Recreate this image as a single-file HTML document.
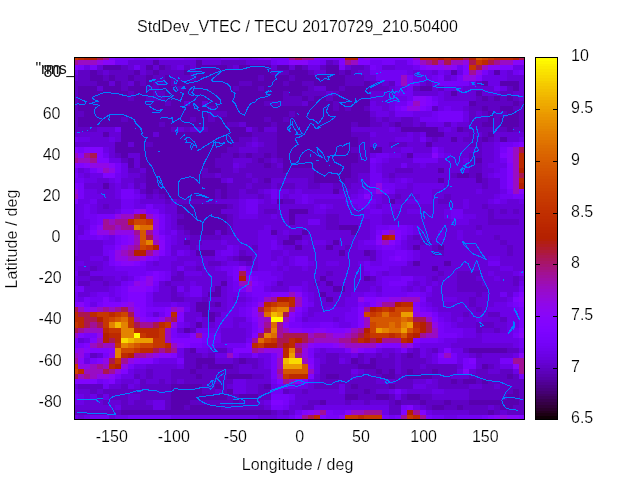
<!DOCTYPE html>
<html lang="en">
<head>
<meta charset="utf-8">
<title>StdDev_VTEC / TECU 20170729_210.50400</title>
<style>
html,body{margin:0;padding:0;background:#fff;width:640px;height:480px;overflow:hidden}
svg{display:block;position:absolute;left:0;top:0}
text{font-family:"Liberation Sans",Arial,Helvetica,sans-serif;font-size:16px;fill:#000;stroke:#fff;stroke-width:0.2px;paint-order:fill stroke}
text.ns{stroke:none;fill:#111}
.map rect,.cb rect,.fr rect{shape-rendering:crispEdges}
.coast polyline{fill:none;stroke:#0080ff;stroke-width:1;shape-rendering:crispEdges;stroke-linejoin:miter}
</style>
</head>
<body>
<svg width="640" height="480" viewBox="0 0 640 480">
<rect width="640" height="480" fill="#fff"/>
<text class="ns" x="35.6" y="74" textLength="39.8" lengthAdjust="spacing">"rms_</text>
<g class="fr">
<rect x="74" y="57" width="451" height="363" fill="#000"/>
<rect x="535" y="57" width="23" height="363" fill="#000"/>
</g>
<g class="map">
<rect x="75" y="58" width="449" height="361" fill="#5f01c4"/>
<rect x="75" y="58" width="3" height="2" fill="#c63700"/>
<rect x="78" y="58" width="6" height="2" fill="#bd2a00"/>
<rect x="84" y="58" width="13" height="2" fill="#b42000"/>
<rect x="97" y="58" width="6" height="2" fill="#ab174f"/>
<rect x="103" y="58" width="6" height="2" fill="#a11096"/>
<rect x="109" y="58" width="6" height="2" fill="#8004ff"/>
<rect x="115" y="58" width="19" height="2" fill="#7803fa"/>
<rect x="134" y="58" width="12" height="2" fill="#7202f3"/>
<rect x="146" y="58" width="13" height="2" fill="#7803fa"/>
<rect x="159" y="58" width="25" height="2" fill="#8004ff"/>
<rect x="184" y="58" width="12" height="2" fill="#7803fa"/>
<rect x="196" y="58" width="25" height="2" fill="#7202f3"/>
<rect x="221" y="58" width="18" height="2" fill="#7803fa"/>
<rect x="239" y="58" width="13" height="2" fill="#7202f3"/>
<rect x="252" y="58" width="6" height="2" fill="#7803fa"/>
<rect x="258" y="58" width="6" height="2" fill="#8004ff"/>
<rect x="264" y="58" width="7" height="2" fill="#8706fa"/>
<rect x="271" y="58" width="18" height="2" fill="#7803fa"/>
<rect x="289" y="58" width="6" height="2" fill="#a11096"/>
<rect x="295" y="58" width="7" height="2" fill="#ab174f"/>
<rect x="302" y="58" width="12" height="2" fill="#a11096"/>
<rect x="314" y="58" width="31" height="2" fill="#8004ff"/>
<rect x="345" y="58" width="13" height="2" fill="#b42000"/>
<rect x="358" y="58" width="6" height="2" fill="#8004ff"/>
<rect x="364" y="58" width="6" height="2" fill="#9008e7"/>
<rect x="370" y="58" width="43" height="2" fill="#8004ff"/>
<rect x="413" y="58" width="7" height="2" fill="#990cc4"/>
<rect x="420" y="58" width="18" height="2" fill="#bd2a00"/>
<rect x="438" y="58" width="6" height="2" fill="#b42000"/>
<rect x="444" y="58" width="7" height="2" fill="#bd2a00"/>
<rect x="451" y="58" width="12" height="2" fill="#b42000"/>
<rect x="463" y="58" width="6" height="2" fill="#ab174f"/>
<rect x="469" y="58" width="7" height="2" fill="#b42000"/>
<rect x="476" y="58" width="6" height="2" fill="#d55700"/>
<rect x="482" y="58" width="6" height="2" fill="#ce4600"/>
<rect x="488" y="58" width="6" height="2" fill="#c63700"/>
<rect x="494" y="58" width="19" height="2" fill="#bd2a00"/>
<rect x="513" y="58" width="6" height="2" fill="#b42000"/>
<rect x="519" y="58" width="5" height="2" fill="#ab174f"/>
<rect x="75" y="60" width="3" height="5" fill="#a11096"/>
<rect x="78" y="60" width="19" height="5" fill="#990cc4"/>
<rect x="97" y="60" width="6" height="5" fill="#9008e7"/>
<rect x="103" y="60" width="12" height="5" fill="#8706fa"/>
<rect x="115" y="60" width="13" height="5" fill="#7202f3"/>
<rect x="128" y="60" width="25" height="5" fill="#6601d7"/>
<rect x="153" y="60" width="6" height="5" fill="#5800af"/>
<rect x="159" y="60" width="37" height="5" fill="#6601d7"/>
<rect x="196" y="60" width="6" height="5" fill="#5800af"/>
<rect x="202" y="60" width="19" height="5" fill="#6601d7"/>
<rect x="246" y="60" width="25" height="5" fill="#6601d7"/>
<rect x="271" y="60" width="6" height="5" fill="#7202f3"/>
<rect x="277" y="60" width="12" height="5" fill="#7803fa"/>
<rect x="289" y="60" width="19" height="5" fill="#8706fa"/>
<rect x="308" y="60" width="12" height="5" fill="#7803fa"/>
<rect x="320" y="60" width="6" height="5" fill="#7202f3"/>
<rect x="333" y="60" width="6" height="5" fill="#6601d7"/>
<rect x="339" y="60" width="6" height="5" fill="#8004ff"/>
<rect x="345" y="60" width="6" height="5" fill="#a11096"/>
<rect x="351" y="60" width="7" height="5" fill="#990cc4"/>
<rect x="358" y="60" width="12" height="5" fill="#8004ff"/>
<rect x="370" y="60" width="12" height="5" fill="#7202f3"/>
<rect x="382" y="60" width="13" height="5" fill="#7803fa"/>
<rect x="395" y="60" width="12" height="5" fill="#6c01e7"/>
<rect x="407" y="60" width="6" height="5" fill="#7803fa"/>
<rect x="413" y="60" width="7" height="5" fill="#8706fa"/>
<rect x="420" y="60" width="6" height="5" fill="#990cc4"/>
<rect x="426" y="60" width="6" height="5" fill="#a11096"/>
<rect x="432" y="60" width="6" height="5" fill="#ab174f"/>
<rect x="438" y="60" width="6" height="5" fill="#990cc4"/>
<rect x="444" y="60" width="7" height="5" fill="#ab174f"/>
<rect x="451" y="60" width="12" height="5" fill="#990cc4"/>
<rect x="463" y="60" width="6" height="5" fill="#9008e7"/>
<rect x="469" y="60" width="7" height="5" fill="#ab174f"/>
<rect x="476" y="60" width="6" height="5" fill="#c63700"/>
<rect x="482" y="60" width="6" height="5" fill="#bd2a00"/>
<rect x="488" y="60" width="6" height="5" fill="#ab174f"/>
<rect x="494" y="60" width="6" height="5" fill="#a11096"/>
<rect x="500" y="60" width="13" height="5" fill="#990cc4"/>
<rect x="513" y="60" width="11" height="5" fill="#8706fa"/>
<rect x="75" y="65" width="3" height="5" fill="#8004ff"/>
<rect x="78" y="65" width="6" height="5" fill="#7803fa"/>
<rect x="84" y="65" width="6" height="5" fill="#6c01e7"/>
<rect x="90" y="65" width="7" height="5" fill="#7803fa"/>
<rect x="97" y="65" width="6" height="5" fill="#6601d7"/>
<rect x="103" y="65" width="18" height="5" fill="#5800af"/>
<rect x="128" y="65" width="6" height="5" fill="#6601d7"/>
<rect x="134" y="65" width="6" height="5" fill="#7202f3"/>
<rect x="140" y="65" width="6" height="5" fill="#6601d7"/>
<rect x="146" y="65" width="7" height="5" fill="#5800af"/>
<rect x="153" y="65" width="6" height="5" fill="#6601d7"/>
<rect x="159" y="65" width="6" height="5" fill="#5800af"/>
<rect x="171" y="65" width="6" height="5" fill="#6601d7"/>
<rect x="177" y="65" width="7" height="5" fill="#6c01e7"/>
<rect x="190" y="65" width="6" height="5" fill="#6601d7"/>
<rect x="196" y="65" width="31" height="5" fill="#5800af"/>
<rect x="233" y="65" width="6" height="5" fill="#6601d7"/>
<rect x="239" y="65" width="32" height="5" fill="#5800af"/>
<rect x="271" y="65" width="6" height="5" fill="#6601d7"/>
<rect x="277" y="65" width="12" height="5" fill="#5800af"/>
<rect x="289" y="65" width="6" height="5" fill="#6601d7"/>
<rect x="295" y="65" width="7" height="5" fill="#5800af"/>
<rect x="308" y="65" width="12" height="5" fill="#6c01e7"/>
<rect x="326" y="65" width="13" height="5" fill="#5800af"/>
<rect x="339" y="65" width="6" height="5" fill="#7803fa"/>
<rect x="345" y="65" width="6" height="5" fill="#6601d7"/>
<rect x="364" y="65" width="6" height="5" fill="#6601d7"/>
<rect x="370" y="65" width="6" height="5" fill="#7803fa"/>
<rect x="376" y="65" width="6" height="5" fill="#7202f3"/>
<rect x="382" y="65" width="13" height="5" fill="#6601d7"/>
<rect x="395" y="65" width="18" height="5" fill="#6c01e7"/>
<rect x="413" y="65" width="7" height="5" fill="#7202f3"/>
<rect x="420" y="65" width="6" height="5" fill="#8004ff"/>
<rect x="426" y="65" width="18" height="5" fill="#8706fa"/>
<rect x="444" y="65" width="7" height="5" fill="#9008e7"/>
<rect x="451" y="65" width="6" height="5" fill="#8706fa"/>
<rect x="457" y="65" width="6" height="5" fill="#7202f3"/>
<rect x="463" y="65" width="6" height="5" fill="#8004ff"/>
<rect x="469" y="65" width="7" height="5" fill="#c63700"/>
<rect x="476" y="65" width="6" height="5" fill="#ab174f"/>
<rect x="482" y="65" width="6" height="5" fill="#990cc4"/>
<rect x="488" y="65" width="12" height="5" fill="#8706fa"/>
<rect x="500" y="65" width="13" height="5" fill="#8004ff"/>
<rect x="513" y="65" width="11" height="5" fill="#6c01e7"/>
<rect x="75" y="70" width="3" height="5" fill="#6c01e7"/>
<rect x="90" y="70" width="7" height="5" fill="#5800af"/>
<rect x="103" y="70" width="6" height="5" fill="#6601d7"/>
<rect x="134" y="70" width="6" height="5" fill="#5800af"/>
<rect x="140" y="70" width="6" height="5" fill="#6601d7"/>
<rect x="153" y="70" width="6" height="5" fill="#5800af"/>
<rect x="184" y="70" width="6" height="5" fill="#5800af"/>
<rect x="196" y="70" width="75" height="5" fill="#5800af"/>
<rect x="289" y="70" width="19" height="5" fill="#5800af"/>
<rect x="314" y="70" width="12" height="5" fill="#6601d7"/>
<rect x="326" y="70" width="13" height="5" fill="#5800af"/>
<rect x="345" y="70" width="6" height="5" fill="#5800af"/>
<rect x="358" y="70" width="12" height="5" fill="#6601d7"/>
<rect x="370" y="70" width="37" height="5" fill="#7202f3"/>
<rect x="407" y="70" width="6" height="5" fill="#6c01e7"/>
<rect x="413" y="70" width="7" height="5" fill="#6601d7"/>
<rect x="420" y="70" width="12" height="5" fill="#6c01e7"/>
<rect x="432" y="70" width="6" height="5" fill="#6601d7"/>
<rect x="438" y="70" width="6" height="5" fill="#7202f3"/>
<rect x="444" y="70" width="7" height="5" fill="#6c01e7"/>
<rect x="451" y="70" width="6" height="5" fill="#5800af"/>
<rect x="457" y="70" width="6" height="5" fill="#6c01e7"/>
<rect x="463" y="70" width="6" height="5" fill="#8004ff"/>
<rect x="469" y="70" width="7" height="5" fill="#a11096"/>
<rect x="476" y="70" width="6" height="5" fill="#9008e7"/>
<rect x="482" y="70" width="6" height="5" fill="#7803fa"/>
<rect x="488" y="70" width="6" height="5" fill="#6c01e7"/>
<rect x="494" y="70" width="6" height="5" fill="#5800af"/>
<rect x="500" y="70" width="7" height="5" fill="#6c01e7"/>
<rect x="507" y="70" width="6" height="5" fill="#6601d7"/>
<rect x="513" y="70" width="6" height="5" fill="#7202f3"/>
<rect x="519" y="70" width="5" height="5" fill="#7803fa"/>
<rect x="75" y="75" width="3" height="6" fill="#6601d7"/>
<rect x="90" y="75" width="13" height="6" fill="#5800af"/>
<rect x="109" y="75" width="6" height="6" fill="#5800af"/>
<rect x="128" y="75" width="6" height="6" fill="#5800af"/>
<rect x="146" y="75" width="7" height="6" fill="#5800af"/>
<rect x="165" y="75" width="6" height="6" fill="#5800af"/>
<rect x="196" y="75" width="62" height="6" fill="#5800af"/>
<rect x="264" y="75" width="25" height="6" fill="#5800af"/>
<rect x="295" y="75" width="50" height="6" fill="#5800af"/>
<rect x="364" y="75" width="12" height="6" fill="#6601d7"/>
<rect x="376" y="75" width="25" height="6" fill="#7202f3"/>
<rect x="401" y="75" width="6" height="6" fill="#990cc4"/>
<rect x="407" y="75" width="6" height="6" fill="#7803fa"/>
<rect x="413" y="75" width="19" height="6" fill="#6c01e7"/>
<rect x="432" y="75" width="6" height="6" fill="#7202f3"/>
<rect x="438" y="75" width="6" height="6" fill="#7803fa"/>
<rect x="444" y="75" width="7" height="6" fill="#6601d7"/>
<rect x="451" y="75" width="6" height="6" fill="#6c01e7"/>
<rect x="457" y="75" width="6" height="6" fill="#7803fa"/>
<rect x="463" y="75" width="13" height="6" fill="#9008e7"/>
<rect x="476" y="75" width="6" height="6" fill="#8004ff"/>
<rect x="482" y="75" width="25" height="6" fill="#6c01e7"/>
<rect x="507" y="75" width="17" height="6" fill="#6601d7"/>
<rect x="97" y="81" width="12" height="5" fill="#5800af"/>
<rect x="109" y="81" width="6" height="5" fill="#6601d7"/>
<rect x="115" y="81" width="6" height="5" fill="#5800af"/>
<rect x="128" y="81" width="6" height="5" fill="#6601d7"/>
<rect x="134" y="81" width="6" height="5" fill="#5800af"/>
<rect x="146" y="81" width="7" height="5" fill="#5800af"/>
<rect x="165" y="81" width="6" height="5" fill="#5800af"/>
<rect x="177" y="81" width="62" height="5" fill="#5800af"/>
<rect x="252" y="81" width="31" height="5" fill="#5800af"/>
<rect x="289" y="81" width="13" height="5" fill="#5800af"/>
<rect x="314" y="81" width="31" height="5" fill="#5800af"/>
<rect x="364" y="81" width="6" height="5" fill="#5800af"/>
<rect x="382" y="81" width="7" height="5" fill="#6601d7"/>
<rect x="395" y="81" width="6" height="5" fill="#7202f3"/>
<rect x="401" y="81" width="6" height="5" fill="#990cc4"/>
<rect x="407" y="81" width="6" height="5" fill="#7803fa"/>
<rect x="413" y="81" width="7" height="5" fill="#7202f3"/>
<rect x="420" y="81" width="6" height="5" fill="#6601d7"/>
<rect x="432" y="81" width="6" height="5" fill="#6c01e7"/>
<rect x="438" y="81" width="31" height="5" fill="#7803fa"/>
<rect x="469" y="81" width="7" height="5" fill="#6c01e7"/>
<rect x="482" y="81" width="6" height="5" fill="#5800af"/>
<rect x="488" y="81" width="12" height="5" fill="#6c01e7"/>
<rect x="500" y="81" width="19" height="5" fill="#5800af"/>
<rect x="519" y="81" width="5" height="5" fill="#6601d7"/>
<rect x="78" y="86" width="19" height="5" fill="#5800af"/>
<rect x="97" y="86" width="6" height="5" fill="#6601d7"/>
<rect x="103" y="86" width="18" height="5" fill="#5800af"/>
<rect x="128" y="86" width="18" height="5" fill="#5800af"/>
<rect x="159" y="86" width="18" height="5" fill="#5800af"/>
<rect x="184" y="86" width="49" height="5" fill="#5800af"/>
<rect x="239" y="86" width="19" height="5" fill="#5800af"/>
<rect x="264" y="86" width="44" height="5" fill="#5800af"/>
<rect x="314" y="86" width="12" height="5" fill="#6601d7"/>
<rect x="326" y="86" width="13" height="5" fill="#5800af"/>
<rect x="345" y="86" width="25" height="5" fill="#5800af"/>
<rect x="389" y="86" width="6" height="5" fill="#6601d7"/>
<rect x="395" y="86" width="12" height="5" fill="#6c01e7"/>
<rect x="407" y="86" width="6" height="5" fill="#7202f3"/>
<rect x="420" y="86" width="12" height="5" fill="#5800af"/>
<rect x="432" y="86" width="6" height="5" fill="#6601d7"/>
<rect x="444" y="86" width="19" height="5" fill="#6c01e7"/>
<rect x="463" y="86" width="31" height="5" fill="#6601d7"/>
<rect x="494" y="86" width="6" height="5" fill="#7202f3"/>
<rect x="500" y="86" width="7" height="5" fill="#6c01e7"/>
<rect x="513" y="86" width="6" height="5" fill="#5800af"/>
<rect x="519" y="86" width="5" height="5" fill="#6601d7"/>
<rect x="78" y="91" width="50" height="5" fill="#5800af"/>
<rect x="134" y="91" width="19" height="5" fill="#5800af"/>
<rect x="165" y="91" width="118" height="5" fill="#5800af"/>
<rect x="289" y="91" width="13" height="5" fill="#5800af"/>
<rect x="326" y="91" width="7" height="5" fill="#6601d7"/>
<rect x="339" y="91" width="31" height="5" fill="#5800af"/>
<rect x="370" y="91" width="25" height="5" fill="#6601d7"/>
<rect x="395" y="91" width="18" height="5" fill="#7202f3"/>
<rect x="413" y="91" width="25" height="5" fill="#6601d7"/>
<rect x="438" y="91" width="6" height="5" fill="#6c01e7"/>
<rect x="444" y="91" width="7" height="5" fill="#6601d7"/>
<rect x="451" y="91" width="6" height="5" fill="#5800af"/>
<rect x="457" y="91" width="19" height="5" fill="#6601d7"/>
<rect x="476" y="91" width="6" height="5" fill="#5800af"/>
<rect x="482" y="91" width="18" height="5" fill="#6601d7"/>
<rect x="513" y="91" width="11" height="5" fill="#6601d7"/>
<rect x="78" y="96" width="50" height="5" fill="#5800af"/>
<rect x="134" y="96" width="12" height="5" fill="#5800af"/>
<rect x="165" y="96" width="118" height="5" fill="#5800af"/>
<rect x="302" y="96" width="6" height="5" fill="#5800af"/>
<rect x="314" y="96" width="12" height="5" fill="#5800af"/>
<rect x="333" y="96" width="37" height="5" fill="#5800af"/>
<rect x="370" y="96" width="19" height="5" fill="#6601d7"/>
<rect x="389" y="96" width="18" height="5" fill="#6c01e7"/>
<rect x="407" y="96" width="6" height="5" fill="#7202f3"/>
<rect x="413" y="96" width="13" height="5" fill="#8706fa"/>
<rect x="426" y="96" width="6" height="5" fill="#8004ff"/>
<rect x="432" y="96" width="6" height="5" fill="#7202f3"/>
<rect x="438" y="96" width="6" height="5" fill="#6c01e7"/>
<rect x="444" y="96" width="32" height="5" fill="#6601d7"/>
<rect x="482" y="96" width="6" height="5" fill="#5800af"/>
<rect x="494" y="96" width="6" height="5" fill="#5800af"/>
<rect x="507" y="96" width="6" height="5" fill="#5800af"/>
<rect x="519" y="96" width="5" height="5" fill="#6601d7"/>
<rect x="78" y="101" width="87" height="5" fill="#5800af"/>
<rect x="171" y="101" width="13" height="5" fill="#5800af"/>
<rect x="184" y="101" width="6" height="5" fill="#6601d7"/>
<rect x="190" y="101" width="12" height="5" fill="#5800af"/>
<rect x="202" y="101" width="6" height="5" fill="#6601d7"/>
<rect x="208" y="101" width="56" height="5" fill="#5800af"/>
<rect x="302" y="101" width="6" height="5" fill="#6601d7"/>
<rect x="308" y="101" width="25" height="5" fill="#5800af"/>
<rect x="339" y="101" width="31" height="5" fill="#5800af"/>
<rect x="370" y="101" width="6" height="5" fill="#6c01e7"/>
<rect x="376" y="101" width="13" height="5" fill="#6601d7"/>
<rect x="389" y="101" width="6" height="5" fill="#6c01e7"/>
<rect x="395" y="101" width="12" height="5" fill="#7202f3"/>
<rect x="407" y="101" width="6" height="5" fill="#8004ff"/>
<rect x="413" y="101" width="7" height="5" fill="#990cc4"/>
<rect x="420" y="101" width="6" height="5" fill="#8706fa"/>
<rect x="426" y="101" width="6" height="5" fill="#8004ff"/>
<rect x="432" y="101" width="6" height="5" fill="#7803fa"/>
<rect x="438" y="101" width="31" height="5" fill="#6c01e7"/>
<rect x="469" y="101" width="7" height="5" fill="#5800af"/>
<rect x="513" y="101" width="6" height="5" fill="#5800af"/>
<rect x="78" y="106" width="130" height="5" fill="#5800af"/>
<rect x="215" y="106" width="118" height="5" fill="#5800af"/>
<rect x="339" y="106" width="6" height="5" fill="#5800af"/>
<rect x="351" y="106" width="13" height="5" fill="#5800af"/>
<rect x="370" y="106" width="12" height="5" fill="#6c01e7"/>
<rect x="382" y="106" width="7" height="5" fill="#6601d7"/>
<rect x="389" y="106" width="6" height="5" fill="#6c01e7"/>
<rect x="395" y="106" width="6" height="5" fill="#7803fa"/>
<rect x="401" y="106" width="6" height="5" fill="#8004ff"/>
<rect x="407" y="106" width="13" height="5" fill="#9008e7"/>
<rect x="420" y="106" width="6" height="5" fill="#8004ff"/>
<rect x="426" y="106" width="6" height="5" fill="#7803fa"/>
<rect x="438" y="106" width="6" height="5" fill="#6c01e7"/>
<rect x="444" y="106" width="7" height="5" fill="#7202f3"/>
<rect x="451" y="106" width="12" height="5" fill="#6c01e7"/>
<rect x="463" y="106" width="6" height="5" fill="#6601d7"/>
<rect x="482" y="106" width="6" height="5" fill="#5800af"/>
<rect x="500" y="106" width="13" height="5" fill="#5800af"/>
<rect x="84" y="111" width="124" height="6" fill="#5800af"/>
<rect x="227" y="111" width="62" height="6" fill="#5800af"/>
<rect x="295" y="111" width="75" height="6" fill="#5800af"/>
<rect x="370" y="111" width="6" height="6" fill="#6601d7"/>
<rect x="376" y="111" width="13" height="6" fill="#6c01e7"/>
<rect x="389" y="111" width="6" height="6" fill="#6601d7"/>
<rect x="395" y="111" width="18" height="6" fill="#7202f3"/>
<rect x="413" y="111" width="19" height="6" fill="#6c01e7"/>
<rect x="432" y="111" width="6" height="6" fill="#7202f3"/>
<rect x="438" y="111" width="25" height="6" fill="#7803fa"/>
<rect x="463" y="111" width="6" height="6" fill="#6c01e7"/>
<rect x="476" y="111" width="6" height="6" fill="#6601d7"/>
<rect x="488" y="111" width="6" height="6" fill="#5800af"/>
<rect x="507" y="111" width="12" height="6" fill="#5800af"/>
<rect x="78" y="117" width="43" height="5" fill="#5800af"/>
<rect x="128" y="117" width="62" height="5" fill="#5800af"/>
<rect x="196" y="117" width="12" height="5" fill="#5800af"/>
<rect x="215" y="117" width="49" height="5" fill="#5800af"/>
<rect x="271" y="117" width="12" height="5" fill="#5800af"/>
<rect x="289" y="117" width="81" height="5" fill="#5800af"/>
<rect x="376" y="117" width="6" height="5" fill="#6601d7"/>
<rect x="389" y="117" width="12" height="5" fill="#6601d7"/>
<rect x="413" y="117" width="7" height="5" fill="#6601d7"/>
<rect x="420" y="117" width="18" height="5" fill="#7202f3"/>
<rect x="438" y="117" width="25" height="5" fill="#7803fa"/>
<rect x="463" y="117" width="6" height="5" fill="#6c01e7"/>
<rect x="488" y="117" width="6" height="5" fill="#5800af"/>
<rect x="500" y="117" width="19" height="5" fill="#5800af"/>
<rect x="78" y="122" width="81" height="5" fill="#5800af"/>
<rect x="165" y="122" width="62" height="5" fill="#5800af"/>
<rect x="239" y="122" width="7" height="5" fill="#6601d7"/>
<rect x="246" y="122" width="25" height="5" fill="#5800af"/>
<rect x="277" y="122" width="74" height="5" fill="#5800af"/>
<rect x="358" y="122" width="12" height="5" fill="#5800af"/>
<rect x="382" y="122" width="7" height="5" fill="#6601d7"/>
<rect x="395" y="122" width="6" height="5" fill="#5800af"/>
<rect x="413" y="122" width="7" height="5" fill="#6601d7"/>
<rect x="426" y="122" width="18" height="5" fill="#6c01e7"/>
<rect x="451" y="122" width="6" height="5" fill="#6c01e7"/>
<rect x="457" y="122" width="12" height="5" fill="#6601d7"/>
<rect x="482" y="122" width="12" height="5" fill="#5800af"/>
<rect x="500" y="122" width="19" height="5" fill="#5800af"/>
<rect x="97" y="127" width="18" height="5" fill="#6601d7"/>
<rect x="115" y="127" width="6" height="5" fill="#7202f3"/>
<rect x="121" y="127" width="50" height="5" fill="#5800af"/>
<rect x="177" y="127" width="7" height="5" fill="#6601d7"/>
<rect x="190" y="127" width="12" height="5" fill="#6601d7"/>
<rect x="208" y="127" width="38" height="5" fill="#5800af"/>
<rect x="246" y="127" width="6" height="5" fill="#6c01e7"/>
<rect x="258" y="127" width="6" height="5" fill="#5800af"/>
<rect x="264" y="127" width="13" height="5" fill="#6601d7"/>
<rect x="277" y="127" width="74" height="5" fill="#5800af"/>
<rect x="351" y="127" width="38" height="5" fill="#6601d7"/>
<rect x="389" y="127" width="6" height="5" fill="#6c01e7"/>
<rect x="395" y="127" width="6" height="5" fill="#6601d7"/>
<rect x="401" y="127" width="37" height="5" fill="#5800af"/>
<rect x="438" y="127" width="6" height="5" fill="#6601d7"/>
<rect x="444" y="127" width="7" height="5" fill="#6c01e7"/>
<rect x="451" y="127" width="6" height="5" fill="#6601d7"/>
<rect x="457" y="127" width="6" height="5" fill="#5800af"/>
<rect x="507" y="127" width="6" height="5" fill="#5800af"/>
<rect x="75" y="132" width="28" height="5" fill="#6601d7"/>
<rect x="103" y="132" width="6" height="5" fill="#5800af"/>
<rect x="109" y="132" width="12" height="5" fill="#6601d7"/>
<rect x="121" y="132" width="32" height="5" fill="#5800af"/>
<rect x="153" y="132" width="6" height="5" fill="#6601d7"/>
<rect x="159" y="132" width="93" height="5" fill="#5800af"/>
<rect x="277" y="132" width="74" height="5" fill="#5800af"/>
<rect x="370" y="132" width="6" height="5" fill="#6c01e7"/>
<rect x="376" y="132" width="31" height="5" fill="#6601d7"/>
<rect x="407" y="132" width="6" height="5" fill="#6c01e7"/>
<rect x="413" y="132" width="7" height="5" fill="#6601d7"/>
<rect x="420" y="132" width="6" height="5" fill="#6c01e7"/>
<rect x="426" y="132" width="18" height="5" fill="#5800af"/>
<rect x="444" y="132" width="25" height="5" fill="#6601d7"/>
<rect x="476" y="132" width="6" height="5" fill="#6601d7"/>
<rect x="488" y="132" width="6" height="5" fill="#5800af"/>
<rect x="494" y="132" width="30" height="5" fill="#6601d7"/>
<rect x="75" y="137" width="3" height="5" fill="#7202f3"/>
<rect x="78" y="137" width="12" height="5" fill="#6c01e7"/>
<rect x="90" y="137" width="19" height="5" fill="#6601d7"/>
<rect x="109" y="137" width="6" height="5" fill="#6c01e7"/>
<rect x="115" y="137" width="6" height="5" fill="#6601d7"/>
<rect x="121" y="137" width="118" height="5" fill="#5800af"/>
<rect x="252" y="137" width="6" height="5" fill="#6601d7"/>
<rect x="277" y="137" width="81" height="5" fill="#5800af"/>
<rect x="370" y="137" width="25" height="5" fill="#6601d7"/>
<rect x="395" y="137" width="18" height="5" fill="#6c01e7"/>
<rect x="413" y="137" width="7" height="5" fill="#6601d7"/>
<rect x="420" y="137" width="6" height="5" fill="#7202f3"/>
<rect x="426" y="137" width="6" height="5" fill="#6601d7"/>
<rect x="438" y="137" width="13" height="5" fill="#6601d7"/>
<rect x="451" y="137" width="6" height="5" fill="#5800af"/>
<rect x="457" y="137" width="6" height="5" fill="#6601d7"/>
<rect x="482" y="137" width="6" height="5" fill="#5800af"/>
<rect x="494" y="137" width="6" height="5" fill="#6601d7"/>
<rect x="500" y="137" width="7" height="5" fill="#5800af"/>
<rect x="507" y="137" width="12" height="5" fill="#6601d7"/>
<rect x="519" y="137" width="5" height="5" fill="#6c01e7"/>
<rect x="75" y="142" width="40" height="5" fill="#6601d7"/>
<rect x="115" y="142" width="13" height="5" fill="#5800af"/>
<rect x="128" y="142" width="6" height="5" fill="#6601d7"/>
<rect x="134" y="142" width="12" height="5" fill="#5800af"/>
<rect x="153" y="142" width="80" height="5" fill="#5800af"/>
<rect x="246" y="142" width="6" height="5" fill="#6601d7"/>
<rect x="252" y="142" width="6" height="5" fill="#6c01e7"/>
<rect x="258" y="142" width="6" height="5" fill="#6601d7"/>
<rect x="277" y="142" width="81" height="5" fill="#5800af"/>
<rect x="370" y="142" width="19" height="5" fill="#6601d7"/>
<rect x="407" y="142" width="19" height="5" fill="#6601d7"/>
<rect x="426" y="142" width="6" height="5" fill="#5800af"/>
<rect x="432" y="142" width="37" height="5" fill="#6601d7"/>
<rect x="482" y="142" width="12" height="5" fill="#6601d7"/>
<rect x="494" y="142" width="6" height="5" fill="#6c01e7"/>
<rect x="500" y="142" width="13" height="5" fill="#7202f3"/>
<rect x="513" y="142" width="6" height="5" fill="#7803fa"/>
<rect x="519" y="142" width="5" height="5" fill="#8004ff"/>
<rect x="75" y="147" width="3" height="6" fill="#8004ff"/>
<rect x="78" y="147" width="6" height="6" fill="#7803fa"/>
<rect x="84" y="147" width="19" height="6" fill="#8004ff"/>
<rect x="103" y="147" width="6" height="6" fill="#6c01e7"/>
<rect x="109" y="147" width="6" height="6" fill="#6601d7"/>
<rect x="115" y="147" width="112" height="6" fill="#5800af"/>
<rect x="239" y="147" width="19" height="6" fill="#6601d7"/>
<rect x="277" y="147" width="74" height="6" fill="#5800af"/>
<rect x="370" y="147" width="12" height="6" fill="#5800af"/>
<rect x="382" y="147" width="19" height="6" fill="#6601d7"/>
<rect x="401" y="147" width="12" height="6" fill="#6c01e7"/>
<rect x="413" y="147" width="19" height="6" fill="#6601d7"/>
<rect x="432" y="147" width="6" height="6" fill="#7803fa"/>
<rect x="438" y="147" width="6" height="6" fill="#6c01e7"/>
<rect x="444" y="147" width="32" height="6" fill="#6601d7"/>
<rect x="482" y="147" width="12" height="6" fill="#6601d7"/>
<rect x="494" y="147" width="6" height="6" fill="#6c01e7"/>
<rect x="500" y="147" width="7" height="6" fill="#7803fa"/>
<rect x="507" y="147" width="6" height="6" fill="#8706fa"/>
<rect x="513" y="147" width="6" height="6" fill="#990cc4"/>
<rect x="519" y="147" width="5" height="6" fill="#ab174f"/>
<rect x="75" y="153" width="3" height="5" fill="#990cc4"/>
<rect x="78" y="153" width="6" height="5" fill="#8706fa"/>
<rect x="84" y="153" width="6" height="5" fill="#a11096"/>
<rect x="90" y="153" width="7" height="5" fill="#ab174f"/>
<rect x="97" y="153" width="6" height="5" fill="#8004ff"/>
<rect x="103" y="153" width="6" height="5" fill="#7202f3"/>
<rect x="109" y="153" width="6" height="5" fill="#6601d7"/>
<rect x="121" y="153" width="7" height="5" fill="#5800af"/>
<rect x="128" y="153" width="12" height="5" fill="#6601d7"/>
<rect x="140" y="153" width="81" height="5" fill="#5800af"/>
<rect x="233" y="153" width="6" height="5" fill="#5800af"/>
<rect x="246" y="153" width="6" height="5" fill="#5800af"/>
<rect x="264" y="153" width="7" height="5" fill="#5800af"/>
<rect x="277" y="153" width="81" height="5" fill="#5800af"/>
<rect x="370" y="153" width="6" height="5" fill="#6c01e7"/>
<rect x="376" y="153" width="13" height="5" fill="#7202f3"/>
<rect x="389" y="153" width="12" height="5" fill="#6c01e7"/>
<rect x="401" y="153" width="6" height="5" fill="#6601d7"/>
<rect x="407" y="153" width="6" height="5" fill="#5800af"/>
<rect x="413" y="153" width="19" height="5" fill="#6c01e7"/>
<rect x="432" y="153" width="6" height="5" fill="#8706fa"/>
<rect x="438" y="153" width="6" height="5" fill="#7202f3"/>
<rect x="444" y="153" width="7" height="5" fill="#6c01e7"/>
<rect x="451" y="153" width="18" height="5" fill="#6601d7"/>
<rect x="482" y="153" width="12" height="5" fill="#6601d7"/>
<rect x="494" y="153" width="6" height="5" fill="#6c01e7"/>
<rect x="500" y="153" width="7" height="5" fill="#8004ff"/>
<rect x="507" y="153" width="6" height="5" fill="#8706fa"/>
<rect x="513" y="153" width="6" height="5" fill="#990cc4"/>
<rect x="519" y="153" width="5" height="5" fill="#bd2a00"/>
<rect x="75" y="158" width="3" height="5" fill="#a11096"/>
<rect x="78" y="158" width="12" height="5" fill="#990cc4"/>
<rect x="90" y="158" width="7" height="5" fill="#a11096"/>
<rect x="97" y="158" width="12" height="5" fill="#8004ff"/>
<rect x="109" y="158" width="12" height="5" fill="#6c01e7"/>
<rect x="128" y="158" width="6" height="5" fill="#5800af"/>
<rect x="134" y="158" width="6" height="5" fill="#6601d7"/>
<rect x="140" y="158" width="75" height="5" fill="#5800af"/>
<rect x="233" y="158" width="19" height="5" fill="#6601d7"/>
<rect x="258" y="158" width="6" height="5" fill="#5800af"/>
<rect x="271" y="158" width="6" height="5" fill="#6601d7"/>
<rect x="283" y="158" width="75" height="5" fill="#5800af"/>
<rect x="370" y="158" width="6" height="5" fill="#7803fa"/>
<rect x="376" y="158" width="6" height="5" fill="#7202f3"/>
<rect x="382" y="158" width="7" height="5" fill="#6c01e7"/>
<rect x="389" y="158" width="24" height="5" fill="#6601d7"/>
<rect x="413" y="158" width="25" height="5" fill="#7202f3"/>
<rect x="438" y="158" width="25" height="5" fill="#6601d7"/>
<rect x="463" y="158" width="6" height="5" fill="#6c01e7"/>
<rect x="476" y="158" width="6" height="5" fill="#5800af"/>
<rect x="482" y="158" width="12" height="5" fill="#6601d7"/>
<rect x="494" y="158" width="6" height="5" fill="#6c01e7"/>
<rect x="500" y="158" width="7" height="5" fill="#7202f3"/>
<rect x="507" y="158" width="6" height="5" fill="#8706fa"/>
<rect x="513" y="158" width="6" height="5" fill="#990cc4"/>
<rect x="519" y="158" width="5" height="5" fill="#bd2a00"/>
<rect x="75" y="163" width="3" height="5" fill="#8706fa"/>
<rect x="78" y="163" width="6" height="5" fill="#8004ff"/>
<rect x="84" y="163" width="6" height="5" fill="#8706fa"/>
<rect x="90" y="163" width="19" height="5" fill="#9008e7"/>
<rect x="109" y="163" width="6" height="5" fill="#8706fa"/>
<rect x="115" y="163" width="6" height="5" fill="#7803fa"/>
<rect x="121" y="163" width="7" height="5" fill="#6c01e7"/>
<rect x="128" y="163" width="6" height="5" fill="#5800af"/>
<rect x="134" y="163" width="6" height="5" fill="#6601d7"/>
<rect x="140" y="163" width="75" height="5" fill="#5800af"/>
<rect x="233" y="163" width="6" height="5" fill="#6c01e7"/>
<rect x="239" y="163" width="7" height="5" fill="#6601d7"/>
<rect x="264" y="163" width="7" height="5" fill="#5800af"/>
<rect x="277" y="163" width="6" height="5" fill="#6601d7"/>
<rect x="283" y="163" width="68" height="5" fill="#5800af"/>
<rect x="370" y="163" width="6" height="5" fill="#7202f3"/>
<rect x="376" y="163" width="6" height="5" fill="#6c01e7"/>
<rect x="382" y="163" width="19" height="5" fill="#6601d7"/>
<rect x="401" y="163" width="6" height="5" fill="#7202f3"/>
<rect x="407" y="163" width="13" height="5" fill="#6601d7"/>
<rect x="420" y="163" width="6" height="5" fill="#6c01e7"/>
<rect x="426" y="163" width="43" height="5" fill="#6601d7"/>
<rect x="482" y="163" width="6" height="5" fill="#6601d7"/>
<rect x="488" y="163" width="19" height="5" fill="#6c01e7"/>
<rect x="507" y="163" width="6" height="5" fill="#8004ff"/>
<rect x="513" y="163" width="6" height="5" fill="#990cc4"/>
<rect x="519" y="163" width="5" height="5" fill="#bd2a00"/>
<rect x="75" y="168" width="3" height="5" fill="#7202f3"/>
<rect x="78" y="168" width="6" height="5" fill="#6601d7"/>
<rect x="84" y="168" width="6" height="5" fill="#6c01e7"/>
<rect x="90" y="168" width="7" height="5" fill="#7803fa"/>
<rect x="97" y="168" width="6" height="5" fill="#8706fa"/>
<rect x="103" y="168" width="6" height="5" fill="#990cc4"/>
<rect x="109" y="168" width="6" height="5" fill="#9008e7"/>
<rect x="115" y="168" width="6" height="5" fill="#7803fa"/>
<rect x="121" y="168" width="7" height="5" fill="#6c01e7"/>
<rect x="140" y="168" width="6" height="5" fill="#6601d7"/>
<rect x="146" y="168" width="56" height="5" fill="#5800af"/>
<rect x="208" y="168" width="13" height="5" fill="#5800af"/>
<rect x="233" y="168" width="6" height="5" fill="#6601d7"/>
<rect x="283" y="168" width="6" height="5" fill="#5800af"/>
<rect x="314" y="168" width="37" height="5" fill="#5800af"/>
<rect x="370" y="168" width="6" height="5" fill="#7202f3"/>
<rect x="376" y="168" width="6" height="5" fill="#6c01e7"/>
<rect x="382" y="168" width="13" height="5" fill="#6601d7"/>
<rect x="413" y="168" width="25" height="5" fill="#6601d7"/>
<rect x="438" y="168" width="6" height="5" fill="#5800af"/>
<rect x="444" y="168" width="25" height="5" fill="#6601d7"/>
<rect x="482" y="168" width="12" height="5" fill="#6601d7"/>
<rect x="494" y="168" width="6" height="5" fill="#6c01e7"/>
<rect x="500" y="168" width="7" height="5" fill="#7202f3"/>
<rect x="507" y="168" width="6" height="5" fill="#8004ff"/>
<rect x="513" y="168" width="6" height="5" fill="#990cc4"/>
<rect x="519" y="168" width="5" height="5" fill="#b42000"/>
<rect x="75" y="173" width="3" height="5" fill="#7803fa"/>
<rect x="78" y="173" width="6" height="5" fill="#6c01e7"/>
<rect x="84" y="173" width="6" height="5" fill="#6601d7"/>
<rect x="90" y="173" width="13" height="5" fill="#6c01e7"/>
<rect x="103" y="173" width="12" height="5" fill="#8004ff"/>
<rect x="115" y="173" width="6" height="5" fill="#7202f3"/>
<rect x="121" y="173" width="7" height="5" fill="#6c01e7"/>
<rect x="128" y="173" width="12" height="5" fill="#6601d7"/>
<rect x="146" y="173" width="56" height="5" fill="#5800af"/>
<rect x="215" y="173" width="6" height="5" fill="#6601d7"/>
<rect x="246" y="173" width="6" height="5" fill="#6601d7"/>
<rect x="314" y="173" width="37" height="5" fill="#5800af"/>
<rect x="358" y="173" width="12" height="5" fill="#6601d7"/>
<rect x="370" y="173" width="12" height="5" fill="#7202f3"/>
<rect x="382" y="173" width="7" height="5" fill="#6601d7"/>
<rect x="395" y="173" width="56" height="5" fill="#6601d7"/>
<rect x="457" y="173" width="12" height="5" fill="#5800af"/>
<rect x="476" y="173" width="6" height="5" fill="#5800af"/>
<rect x="482" y="173" width="6" height="5" fill="#6601d7"/>
<rect x="488" y="173" width="6" height="5" fill="#6c01e7"/>
<rect x="494" y="173" width="13" height="5" fill="#7202f3"/>
<rect x="507" y="173" width="6" height="5" fill="#8004ff"/>
<rect x="513" y="173" width="6" height="5" fill="#990cc4"/>
<rect x="519" y="173" width="5" height="5" fill="#ab174f"/>
<rect x="75" y="178" width="9" height="5" fill="#7202f3"/>
<rect x="84" y="178" width="13" height="5" fill="#6c01e7"/>
<rect x="97" y="178" width="12" height="5" fill="#6601d7"/>
<rect x="109" y="178" width="6" height="5" fill="#6c01e7"/>
<rect x="115" y="178" width="6" height="5" fill="#7202f3"/>
<rect x="121" y="178" width="13" height="5" fill="#6601d7"/>
<rect x="146" y="178" width="75" height="5" fill="#5800af"/>
<rect x="221" y="178" width="6" height="5" fill="#6601d7"/>
<rect x="227" y="178" width="6" height="5" fill="#6c01e7"/>
<rect x="252" y="178" width="6" height="5" fill="#6601d7"/>
<rect x="264" y="178" width="7" height="5" fill="#5800af"/>
<rect x="271" y="178" width="37" height="5" fill="#6601d7"/>
<rect x="314" y="178" width="31" height="5" fill="#5800af"/>
<rect x="358" y="178" width="12" height="5" fill="#6601d7"/>
<rect x="370" y="178" width="12" height="5" fill="#7202f3"/>
<rect x="382" y="178" width="7" height="5" fill="#6c01e7"/>
<rect x="389" y="178" width="6" height="5" fill="#6601d7"/>
<rect x="395" y="178" width="6" height="5" fill="#6c01e7"/>
<rect x="401" y="178" width="6" height="5" fill="#7202f3"/>
<rect x="407" y="178" width="6" height="5" fill="#6c01e7"/>
<rect x="413" y="178" width="25" height="5" fill="#6601d7"/>
<rect x="438" y="178" width="6" height="5" fill="#5800af"/>
<rect x="444" y="178" width="32" height="5" fill="#6601d7"/>
<rect x="476" y="178" width="6" height="5" fill="#5800af"/>
<rect x="488" y="178" width="12" height="5" fill="#6601d7"/>
<rect x="500" y="178" width="7" height="5" fill="#7202f3"/>
<rect x="507" y="178" width="6" height="5" fill="#8004ff"/>
<rect x="513" y="178" width="6" height="5" fill="#990cc4"/>
<rect x="519" y="178" width="5" height="5" fill="#bd2a00"/>
<rect x="75" y="183" width="3" height="6" fill="#8004ff"/>
<rect x="78" y="183" width="6" height="6" fill="#7803fa"/>
<rect x="84" y="183" width="19" height="6" fill="#6601d7"/>
<rect x="103" y="183" width="6" height="6" fill="#5800af"/>
<rect x="109" y="183" width="6" height="6" fill="#6601d7"/>
<rect x="115" y="183" width="6" height="6" fill="#6c01e7"/>
<rect x="121" y="183" width="7" height="6" fill="#6601d7"/>
<rect x="128" y="183" width="6" height="6" fill="#6c01e7"/>
<rect x="140" y="183" width="6" height="6" fill="#6601d7"/>
<rect x="146" y="183" width="81" height="6" fill="#5800af"/>
<rect x="246" y="183" width="6" height="6" fill="#6601d7"/>
<rect x="271" y="183" width="6" height="6" fill="#6601d7"/>
<rect x="295" y="183" width="13" height="6" fill="#6601d7"/>
<rect x="320" y="183" width="13" height="6" fill="#6601d7"/>
<rect x="351" y="183" width="19" height="6" fill="#6601d7"/>
<rect x="370" y="183" width="6" height="6" fill="#7202f3"/>
<rect x="376" y="183" width="6" height="6" fill="#9008e7"/>
<rect x="382" y="183" width="13" height="6" fill="#7202f3"/>
<rect x="395" y="183" width="12" height="6" fill="#6c01e7"/>
<rect x="407" y="183" width="6" height="6" fill="#6601d7"/>
<rect x="413" y="183" width="31" height="6" fill="#6c01e7"/>
<rect x="444" y="183" width="38" height="6" fill="#6601d7"/>
<rect x="488" y="183" width="12" height="6" fill="#6601d7"/>
<rect x="500" y="183" width="7" height="6" fill="#7202f3"/>
<rect x="507" y="183" width="6" height="6" fill="#8004ff"/>
<rect x="513" y="183" width="6" height="6" fill="#990cc4"/>
<rect x="519" y="183" width="5" height="6" fill="#b42000"/>
<rect x="75" y="189" width="3" height="5" fill="#9008e7"/>
<rect x="78" y="189" width="6" height="5" fill="#7803fa"/>
<rect x="84" y="189" width="13" height="5" fill="#6c01e7"/>
<rect x="97" y="189" width="18" height="5" fill="#6601d7"/>
<rect x="115" y="189" width="6" height="5" fill="#6c01e7"/>
<rect x="121" y="189" width="13" height="5" fill="#7803fa"/>
<rect x="134" y="189" width="6" height="5" fill="#6c01e7"/>
<rect x="146" y="189" width="7" height="5" fill="#5800af"/>
<rect x="159" y="189" width="56" height="5" fill="#5800af"/>
<rect x="221" y="189" width="6" height="5" fill="#5800af"/>
<rect x="239" y="189" width="7" height="5" fill="#6601d7"/>
<rect x="258" y="189" width="6" height="5" fill="#6601d7"/>
<rect x="264" y="189" width="7" height="5" fill="#6c01e7"/>
<rect x="271" y="189" width="6" height="5" fill="#7202f3"/>
<rect x="277" y="189" width="12" height="5" fill="#6c01e7"/>
<rect x="289" y="189" width="6" height="5" fill="#6601d7"/>
<rect x="295" y="189" width="7" height="5" fill="#6c01e7"/>
<rect x="302" y="189" width="31" height="5" fill="#6601d7"/>
<rect x="333" y="189" width="6" height="5" fill="#5800af"/>
<rect x="339" y="189" width="19" height="5" fill="#6601d7"/>
<rect x="358" y="189" width="6" height="5" fill="#6c01e7"/>
<rect x="364" y="189" width="12" height="5" fill="#7202f3"/>
<rect x="376" y="189" width="6" height="5" fill="#9008e7"/>
<rect x="382" y="189" width="7" height="5" fill="#7803fa"/>
<rect x="389" y="189" width="6" height="5" fill="#7202f3"/>
<rect x="395" y="189" width="18" height="5" fill="#6601d7"/>
<rect x="413" y="189" width="19" height="5" fill="#6c01e7"/>
<rect x="432" y="189" width="44" height="5" fill="#6601d7"/>
<rect x="476" y="189" width="6" height="5" fill="#6c01e7"/>
<rect x="482" y="189" width="18" height="5" fill="#6601d7"/>
<rect x="500" y="189" width="7" height="5" fill="#6c01e7"/>
<rect x="507" y="189" width="6" height="5" fill="#7803fa"/>
<rect x="513" y="189" width="6" height="5" fill="#990cc4"/>
<rect x="519" y="189" width="5" height="5" fill="#8706fa"/>
<rect x="75" y="194" width="3" height="5" fill="#990cc4"/>
<rect x="78" y="194" width="6" height="5" fill="#7803fa"/>
<rect x="84" y="194" width="19" height="5" fill="#6c01e7"/>
<rect x="103" y="194" width="12" height="5" fill="#6601d7"/>
<rect x="115" y="194" width="6" height="5" fill="#6c01e7"/>
<rect x="121" y="194" width="13" height="5" fill="#7803fa"/>
<rect x="134" y="194" width="6" height="5" fill="#7202f3"/>
<rect x="140" y="194" width="6" height="5" fill="#6c01e7"/>
<rect x="153" y="194" width="6" height="5" fill="#6601d7"/>
<rect x="165" y="194" width="50" height="5" fill="#5800af"/>
<rect x="221" y="194" width="6" height="5" fill="#5800af"/>
<rect x="239" y="194" width="19" height="5" fill="#6601d7"/>
<rect x="264" y="194" width="7" height="5" fill="#6601d7"/>
<rect x="271" y="194" width="6" height="5" fill="#7202f3"/>
<rect x="277" y="194" width="6" height="5" fill="#6c01e7"/>
<rect x="283" y="194" width="6" height="5" fill="#6601d7"/>
<rect x="289" y="194" width="13" height="5" fill="#6c01e7"/>
<rect x="302" y="194" width="6" height="5" fill="#7202f3"/>
<rect x="308" y="194" width="37" height="5" fill="#6c01e7"/>
<rect x="345" y="194" width="6" height="5" fill="#6601d7"/>
<rect x="351" y="194" width="7" height="5" fill="#6c01e7"/>
<rect x="358" y="194" width="6" height="5" fill="#7202f3"/>
<rect x="364" y="194" width="6" height="5" fill="#8706fa"/>
<rect x="370" y="194" width="12" height="5" fill="#6c01e7"/>
<rect x="382" y="194" width="13" height="5" fill="#6601d7"/>
<rect x="401" y="194" width="19" height="5" fill="#6601d7"/>
<rect x="420" y="194" width="12" height="5" fill="#6c01e7"/>
<rect x="432" y="194" width="12" height="5" fill="#6601d7"/>
<rect x="451" y="194" width="43" height="5" fill="#6601d7"/>
<rect x="494" y="194" width="6" height="5" fill="#6c01e7"/>
<rect x="500" y="194" width="13" height="5" fill="#7202f3"/>
<rect x="513" y="194" width="11" height="5" fill="#7803fa"/>
<rect x="75" y="199" width="3" height="5" fill="#8004ff"/>
<rect x="78" y="199" width="12" height="5" fill="#6c01e7"/>
<rect x="90" y="199" width="7" height="5" fill="#7202f3"/>
<rect x="97" y="199" width="24" height="5" fill="#6601d7"/>
<rect x="121" y="199" width="13" height="5" fill="#7202f3"/>
<rect x="134" y="199" width="6" height="5" fill="#6c01e7"/>
<rect x="140" y="199" width="25" height="5" fill="#6601d7"/>
<rect x="171" y="199" width="6" height="5" fill="#6601d7"/>
<rect x="215" y="199" width="24" height="5" fill="#6601d7"/>
<rect x="239" y="199" width="7" height="5" fill="#6c01e7"/>
<rect x="246" y="199" width="12" height="5" fill="#7202f3"/>
<rect x="258" y="199" width="6" height="5" fill="#6c01e7"/>
<rect x="264" y="199" width="7" height="5" fill="#6601d7"/>
<rect x="271" y="199" width="6" height="5" fill="#6c01e7"/>
<rect x="277" y="199" width="6" height="5" fill="#5800af"/>
<rect x="295" y="199" width="7" height="5" fill="#6c01e7"/>
<rect x="302" y="199" width="6" height="5" fill="#7202f3"/>
<rect x="308" y="199" width="6" height="5" fill="#6c01e7"/>
<rect x="314" y="199" width="31" height="5" fill="#6601d7"/>
<rect x="345" y="199" width="6" height="5" fill="#6c01e7"/>
<rect x="351" y="199" width="25" height="5" fill="#7202f3"/>
<rect x="376" y="199" width="6" height="5" fill="#6c01e7"/>
<rect x="382" y="199" width="7" height="5" fill="#6601d7"/>
<rect x="389" y="199" width="6" height="5" fill="#5800af"/>
<rect x="395" y="199" width="12" height="5" fill="#6601d7"/>
<rect x="407" y="199" width="25" height="5" fill="#6c01e7"/>
<rect x="432" y="199" width="6" height="5" fill="#6601d7"/>
<rect x="451" y="199" width="12" height="5" fill="#6601d7"/>
<rect x="463" y="199" width="6" height="5" fill="#6c01e7"/>
<rect x="469" y="199" width="19" height="5" fill="#6601d7"/>
<rect x="488" y="199" width="6" height="5" fill="#6c01e7"/>
<rect x="494" y="199" width="6" height="5" fill="#7202f3"/>
<rect x="500" y="199" width="7" height="5" fill="#6c01e7"/>
<rect x="507" y="199" width="12" height="5" fill="#6601d7"/>
<rect x="519" y="199" width="5" height="5" fill="#6c01e7"/>
<rect x="75" y="204" width="9" height="5" fill="#6c01e7"/>
<rect x="84" y="204" width="6" height="5" fill="#7202f3"/>
<rect x="90" y="204" width="7" height="5" fill="#6c01e7"/>
<rect x="97" y="204" width="6" height="5" fill="#6601d7"/>
<rect x="109" y="204" width="12" height="5" fill="#6601d7"/>
<rect x="121" y="204" width="13" height="5" fill="#7202f3"/>
<rect x="134" y="204" width="12" height="5" fill="#6c01e7"/>
<rect x="146" y="204" width="7" height="5" fill="#7803fa"/>
<rect x="153" y="204" width="12" height="5" fill="#6c01e7"/>
<rect x="165" y="204" width="12" height="5" fill="#6601d7"/>
<rect x="177" y="204" width="50" height="5" fill="#5800af"/>
<rect x="233" y="204" width="6" height="5" fill="#6601d7"/>
<rect x="239" y="204" width="7" height="5" fill="#6c01e7"/>
<rect x="246" y="204" width="12" height="5" fill="#7202f3"/>
<rect x="258" y="204" width="56" height="5" fill="#6601d7"/>
<rect x="314" y="204" width="6" height="5" fill="#6c01e7"/>
<rect x="320" y="204" width="6" height="5" fill="#7202f3"/>
<rect x="326" y="204" width="7" height="5" fill="#6c01e7"/>
<rect x="333" y="204" width="18" height="5" fill="#6601d7"/>
<rect x="351" y="204" width="7" height="5" fill="#6c01e7"/>
<rect x="358" y="204" width="12" height="5" fill="#7202f3"/>
<rect x="370" y="204" width="6" height="5" fill="#6c01e7"/>
<rect x="376" y="204" width="6" height="5" fill="#6601d7"/>
<rect x="382" y="204" width="19" height="5" fill="#6c01e7"/>
<rect x="401" y="204" width="62" height="5" fill="#6601d7"/>
<rect x="463" y="204" width="6" height="5" fill="#6c01e7"/>
<rect x="469" y="204" width="13" height="5" fill="#6601d7"/>
<rect x="488" y="204" width="36" height="5" fill="#6601d7"/>
<rect x="75" y="209" width="9" height="5" fill="#6c01e7"/>
<rect x="84" y="209" width="6" height="5" fill="#7202f3"/>
<rect x="90" y="209" width="7" height="5" fill="#6c01e7"/>
<rect x="97" y="209" width="18" height="5" fill="#6601d7"/>
<rect x="115" y="209" width="6" height="5" fill="#6c01e7"/>
<rect x="121" y="209" width="13" height="5" fill="#7803fa"/>
<rect x="134" y="209" width="6" height="5" fill="#8706fa"/>
<rect x="140" y="209" width="6" height="5" fill="#9008e7"/>
<rect x="146" y="209" width="13" height="5" fill="#7803fa"/>
<rect x="159" y="209" width="6" height="5" fill="#6c01e7"/>
<rect x="165" y="209" width="12" height="5" fill="#6601d7"/>
<rect x="177" y="209" width="44" height="5" fill="#5800af"/>
<rect x="221" y="209" width="18" height="5" fill="#6601d7"/>
<rect x="239" y="209" width="7" height="5" fill="#6c01e7"/>
<rect x="246" y="209" width="12" height="5" fill="#7202f3"/>
<rect x="258" y="209" width="6" height="5" fill="#6601d7"/>
<rect x="277" y="209" width="12" height="5" fill="#6601d7"/>
<rect x="289" y="209" width="19" height="5" fill="#5800af"/>
<rect x="308" y="209" width="6" height="5" fill="#6601d7"/>
<rect x="314" y="209" width="12" height="5" fill="#6c01e7"/>
<rect x="326" y="209" width="38" height="5" fill="#6601d7"/>
<rect x="364" y="209" width="6" height="5" fill="#6c01e7"/>
<rect x="370" y="209" width="12" height="5" fill="#7202f3"/>
<rect x="382" y="209" width="13" height="5" fill="#6c01e7"/>
<rect x="395" y="209" width="12" height="5" fill="#6601d7"/>
<rect x="407" y="209" width="13" height="5" fill="#6c01e7"/>
<rect x="420" y="209" width="24" height="5" fill="#6601d7"/>
<rect x="444" y="209" width="7" height="5" fill="#6c01e7"/>
<rect x="451" y="209" width="12" height="5" fill="#7202f3"/>
<rect x="463" y="209" width="25" height="5" fill="#6601d7"/>
<rect x="494" y="209" width="6" height="5" fill="#6601d7"/>
<rect x="507" y="209" width="6" height="5" fill="#6601d7"/>
<rect x="519" y="209" width="5" height="5" fill="#6601d7"/>
<rect x="75" y="214" width="9" height="5" fill="#6c01e7"/>
<rect x="84" y="214" width="13" height="5" fill="#7202f3"/>
<rect x="97" y="214" width="18" height="5" fill="#7803fa"/>
<rect x="115" y="214" width="6" height="5" fill="#9008e7"/>
<rect x="121" y="214" width="13" height="5" fill="#990cc4"/>
<rect x="134" y="214" width="6" height="5" fill="#ab174f"/>
<rect x="140" y="214" width="6" height="5" fill="#b42000"/>
<rect x="146" y="214" width="7" height="5" fill="#990cc4"/>
<rect x="153" y="214" width="6" height="5" fill="#8706fa"/>
<rect x="159" y="214" width="6" height="5" fill="#7803fa"/>
<rect x="165" y="214" width="6" height="5" fill="#6c01e7"/>
<rect x="171" y="214" width="6" height="5" fill="#6601d7"/>
<rect x="184" y="214" width="43" height="5" fill="#5800af"/>
<rect x="233" y="214" width="6" height="5" fill="#6601d7"/>
<rect x="239" y="214" width="19" height="5" fill="#6c01e7"/>
<rect x="258" y="214" width="13" height="5" fill="#6601d7"/>
<rect x="271" y="214" width="6" height="5" fill="#6c01e7"/>
<rect x="277" y="214" width="12" height="5" fill="#6601d7"/>
<rect x="289" y="214" width="6" height="5" fill="#5800af"/>
<rect x="295" y="214" width="31" height="5" fill="#6601d7"/>
<rect x="339" y="214" width="19" height="5" fill="#6601d7"/>
<rect x="358" y="214" width="24" height="5" fill="#6c01e7"/>
<rect x="382" y="214" width="62" height="5" fill="#6601d7"/>
<rect x="444" y="214" width="7" height="5" fill="#6c01e7"/>
<rect x="451" y="214" width="12" height="5" fill="#7202f3"/>
<rect x="463" y="214" width="13" height="5" fill="#6c01e7"/>
<rect x="476" y="214" width="12" height="5" fill="#6601d7"/>
<rect x="494" y="214" width="30" height="5" fill="#6601d7"/>
<rect x="75" y="219" width="15" height="6" fill="#6c01e7"/>
<rect x="90" y="219" width="7" height="6" fill="#7202f3"/>
<rect x="97" y="219" width="6" height="6" fill="#7803fa"/>
<rect x="103" y="219" width="6" height="6" fill="#a11096"/>
<rect x="109" y="219" width="6" height="6" fill="#990cc4"/>
<rect x="115" y="219" width="13" height="6" fill="#a11096"/>
<rect x="128" y="219" width="6" height="6" fill="#bd2a00"/>
<rect x="134" y="219" width="12" height="6" fill="#ce4600"/>
<rect x="146" y="219" width="7" height="6" fill="#c63700"/>
<rect x="153" y="219" width="6" height="6" fill="#9008e7"/>
<rect x="159" y="219" width="6" height="6" fill="#7803fa"/>
<rect x="165" y="219" width="6" height="6" fill="#6c01e7"/>
<rect x="171" y="219" width="6" height="6" fill="#6601d7"/>
<rect x="177" y="219" width="50" height="6" fill="#5800af"/>
<rect x="233" y="219" width="56" height="6" fill="#6601d7"/>
<rect x="289" y="219" width="6" height="6" fill="#5800af"/>
<rect x="295" y="219" width="13" height="6" fill="#6601d7"/>
<rect x="308" y="219" width="12" height="6" fill="#7202f3"/>
<rect x="320" y="219" width="6" height="6" fill="#6601d7"/>
<rect x="339" y="219" width="31" height="6" fill="#6601d7"/>
<rect x="370" y="219" width="12" height="6" fill="#6c01e7"/>
<rect x="382" y="219" width="69" height="6" fill="#6601d7"/>
<rect x="451" y="219" width="18" height="6" fill="#6c01e7"/>
<rect x="469" y="219" width="19" height="6" fill="#6601d7"/>
<rect x="519" y="219" width="5" height="6" fill="#6601d7"/>
<rect x="75" y="225" width="3" height="5" fill="#7202f3"/>
<rect x="78" y="225" width="6" height="5" fill="#6601d7"/>
<rect x="84" y="225" width="6" height="5" fill="#6c01e7"/>
<rect x="90" y="225" width="7" height="5" fill="#7803fa"/>
<rect x="97" y="225" width="6" height="5" fill="#8706fa"/>
<rect x="103" y="225" width="12" height="5" fill="#a11096"/>
<rect x="115" y="225" width="6" height="5" fill="#990cc4"/>
<rect x="121" y="225" width="13" height="5" fill="#a11096"/>
<rect x="134" y="225" width="6" height="5" fill="#e48300"/>
<rect x="140" y="225" width="13" height="5" fill="#dd6c00"/>
<rect x="153" y="225" width="6" height="5" fill="#9008e7"/>
<rect x="159" y="225" width="6" height="5" fill="#7803fa"/>
<rect x="165" y="225" width="6" height="5" fill="#6c01e7"/>
<rect x="171" y="225" width="6" height="5" fill="#6601d7"/>
<rect x="184" y="225" width="43" height="5" fill="#5800af"/>
<rect x="233" y="225" width="31" height="5" fill="#6601d7"/>
<rect x="264" y="225" width="7" height="5" fill="#6c01e7"/>
<rect x="271" y="225" width="55" height="5" fill="#6601d7"/>
<rect x="339" y="225" width="19" height="5" fill="#5800af"/>
<rect x="358" y="225" width="12" height="5" fill="#6601d7"/>
<rect x="370" y="225" width="6" height="5" fill="#6c01e7"/>
<rect x="376" y="225" width="13" height="5" fill="#7202f3"/>
<rect x="389" y="225" width="18" height="5" fill="#7803fa"/>
<rect x="407" y="225" width="6" height="5" fill="#7202f3"/>
<rect x="413" y="225" width="7" height="5" fill="#6c01e7"/>
<rect x="420" y="225" width="56" height="5" fill="#6601d7"/>
<rect x="482" y="225" width="42" height="5" fill="#6601d7"/>
<rect x="75" y="230" width="3" height="5" fill="#6c01e7"/>
<rect x="78" y="230" width="6" height="5" fill="#6601d7"/>
<rect x="84" y="230" width="6" height="5" fill="#7202f3"/>
<rect x="90" y="230" width="7" height="5" fill="#8004ff"/>
<rect x="97" y="230" width="12" height="5" fill="#9008e7"/>
<rect x="109" y="230" width="6" height="5" fill="#990cc4"/>
<rect x="115" y="230" width="19" height="5" fill="#9008e7"/>
<rect x="134" y="230" width="6" height="5" fill="#a11096"/>
<rect x="140" y="230" width="6" height="5" fill="#d55700"/>
<rect x="146" y="230" width="7" height="5" fill="#a11096"/>
<rect x="153" y="230" width="6" height="5" fill="#8706fa"/>
<rect x="159" y="230" width="6" height="5" fill="#7202f3"/>
<rect x="165" y="230" width="6" height="5" fill="#6c01e7"/>
<rect x="171" y="230" width="6" height="5" fill="#7202f3"/>
<rect x="177" y="230" width="7" height="5" fill="#6601d7"/>
<rect x="190" y="230" width="25" height="5" fill="#5800af"/>
<rect x="215" y="230" width="6" height="5" fill="#6601d7"/>
<rect x="221" y="230" width="6" height="5" fill="#5800af"/>
<rect x="233" y="230" width="25" height="5" fill="#6601d7"/>
<rect x="258" y="230" width="13" height="5" fill="#6c01e7"/>
<rect x="271" y="230" width="6" height="5" fill="#5800af"/>
<rect x="277" y="230" width="6" height="5" fill="#6601d7"/>
<rect x="283" y="230" width="6" height="5" fill="#6c01e7"/>
<rect x="289" y="230" width="13" height="5" fill="#6601d7"/>
<rect x="302" y="230" width="6" height="5" fill="#5800af"/>
<rect x="308" y="230" width="43" height="5" fill="#6601d7"/>
<rect x="351" y="230" width="7" height="5" fill="#5800af"/>
<rect x="358" y="230" width="12" height="5" fill="#6601d7"/>
<rect x="370" y="230" width="6" height="5" fill="#6c01e7"/>
<rect x="376" y="230" width="6" height="5" fill="#7803fa"/>
<rect x="382" y="230" width="7" height="5" fill="#8706fa"/>
<rect x="389" y="230" width="6" height="5" fill="#990cc4"/>
<rect x="395" y="230" width="6" height="5" fill="#8004ff"/>
<rect x="401" y="230" width="6" height="5" fill="#7803fa"/>
<rect x="407" y="230" width="6" height="5" fill="#7202f3"/>
<rect x="413" y="230" width="7" height="5" fill="#6c01e7"/>
<rect x="420" y="230" width="18" height="5" fill="#6601d7"/>
<rect x="438" y="230" width="6" height="5" fill="#6c01e7"/>
<rect x="444" y="230" width="13" height="5" fill="#6601d7"/>
<rect x="457" y="230" width="6" height="5" fill="#6c01e7"/>
<rect x="463" y="230" width="13" height="5" fill="#6601d7"/>
<rect x="476" y="230" width="6" height="5" fill="#6c01e7"/>
<rect x="482" y="230" width="42" height="5" fill="#6601d7"/>
<rect x="75" y="235" width="3" height="5" fill="#6c01e7"/>
<rect x="78" y="235" width="19" height="5" fill="#7202f3"/>
<rect x="97" y="235" width="6" height="5" fill="#7803fa"/>
<rect x="103" y="235" width="6" height="5" fill="#7202f3"/>
<rect x="109" y="235" width="6" height="5" fill="#6c01e7"/>
<rect x="115" y="235" width="6" height="5" fill="#7803fa"/>
<rect x="121" y="235" width="7" height="5" fill="#8004ff"/>
<rect x="128" y="235" width="6" height="5" fill="#8706fa"/>
<rect x="134" y="235" width="6" height="5" fill="#990cc4"/>
<rect x="140" y="235" width="6" height="5" fill="#d55700"/>
<rect x="146" y="235" width="7" height="5" fill="#ab174f"/>
<rect x="153" y="235" width="6" height="5" fill="#9008e7"/>
<rect x="159" y="235" width="6" height="5" fill="#8004ff"/>
<rect x="165" y="235" width="6" height="5" fill="#7202f3"/>
<rect x="171" y="235" width="6" height="5" fill="#6c01e7"/>
<rect x="177" y="235" width="13" height="5" fill="#6601d7"/>
<rect x="221" y="235" width="37" height="5" fill="#6601d7"/>
<rect x="258" y="235" width="19" height="5" fill="#6c01e7"/>
<rect x="277" y="235" width="12" height="5" fill="#6601d7"/>
<rect x="289" y="235" width="13" height="5" fill="#5800af"/>
<rect x="302" y="235" width="68" height="5" fill="#6601d7"/>
<rect x="370" y="235" width="6" height="5" fill="#6c01e7"/>
<rect x="376" y="235" width="6" height="5" fill="#8004ff"/>
<rect x="382" y="235" width="7" height="5" fill="#b42000"/>
<rect x="389" y="235" width="6" height="5" fill="#bd2a00"/>
<rect x="395" y="235" width="6" height="5" fill="#8004ff"/>
<rect x="401" y="235" width="6" height="5" fill="#7202f3"/>
<rect x="407" y="235" width="6" height="5" fill="#6601d7"/>
<rect x="420" y="235" width="18" height="5" fill="#6601d7"/>
<rect x="438" y="235" width="6" height="5" fill="#6c01e7"/>
<rect x="444" y="235" width="13" height="5" fill="#6601d7"/>
<rect x="457" y="235" width="6" height="5" fill="#6c01e7"/>
<rect x="463" y="235" width="31" height="5" fill="#6601d7"/>
<rect x="500" y="235" width="24" height="5" fill="#6601d7"/>
<rect x="75" y="240" width="3" height="5" fill="#6c01e7"/>
<rect x="78" y="240" width="25" height="5" fill="#6601d7"/>
<rect x="103" y="240" width="12" height="5" fill="#6c01e7"/>
<rect x="115" y="240" width="6" height="5" fill="#7803fa"/>
<rect x="121" y="240" width="7" height="5" fill="#8004ff"/>
<rect x="128" y="240" width="6" height="5" fill="#8706fa"/>
<rect x="134" y="240" width="6" height="5" fill="#990cc4"/>
<rect x="140" y="240" width="6" height="5" fill="#d55700"/>
<rect x="146" y="240" width="7" height="5" fill="#e48300"/>
<rect x="153" y="240" width="6" height="5" fill="#990cc4"/>
<rect x="159" y="240" width="6" height="5" fill="#8706fa"/>
<rect x="165" y="240" width="6" height="5" fill="#7202f3"/>
<rect x="171" y="240" width="6" height="5" fill="#6c01e7"/>
<rect x="177" y="240" width="7" height="5" fill="#6601d7"/>
<rect x="184" y="240" width="6" height="5" fill="#5800af"/>
<rect x="202" y="240" width="19" height="5" fill="#6601d7"/>
<rect x="221" y="240" width="6" height="5" fill="#6c01e7"/>
<rect x="227" y="240" width="31" height="5" fill="#6601d7"/>
<rect x="258" y="240" width="13" height="5" fill="#6c01e7"/>
<rect x="271" y="240" width="6" height="5" fill="#7202f3"/>
<rect x="277" y="240" width="6" height="5" fill="#6601d7"/>
<rect x="283" y="240" width="12" height="5" fill="#5800af"/>
<rect x="295" y="240" width="7" height="5" fill="#6601d7"/>
<rect x="302" y="240" width="6" height="5" fill="#6c01e7"/>
<rect x="308" y="240" width="6" height="5" fill="#6601d7"/>
<rect x="314" y="240" width="12" height="5" fill="#6c01e7"/>
<rect x="326" y="240" width="7" height="5" fill="#6601d7"/>
<rect x="333" y="240" width="6" height="5" fill="#5800af"/>
<rect x="339" y="240" width="19" height="5" fill="#6601d7"/>
<rect x="358" y="240" width="6" height="5" fill="#6c01e7"/>
<rect x="364" y="240" width="12" height="5" fill="#7202f3"/>
<rect x="376" y="240" width="6" height="5" fill="#8706fa"/>
<rect x="382" y="240" width="7" height="5" fill="#990cc4"/>
<rect x="389" y="240" width="6" height="5" fill="#8706fa"/>
<rect x="395" y="240" width="6" height="5" fill="#7803fa"/>
<rect x="401" y="240" width="6" height="5" fill="#6c01e7"/>
<rect x="407" y="240" width="13" height="5" fill="#6601d7"/>
<rect x="432" y="240" width="68" height="5" fill="#6601d7"/>
<rect x="507" y="240" width="17" height="5" fill="#6601d7"/>
<rect x="75" y="245" width="3" height="5" fill="#6c01e7"/>
<rect x="78" y="245" width="25" height="5" fill="#6601d7"/>
<rect x="103" y="245" width="12" height="5" fill="#7202f3"/>
<rect x="115" y="245" width="6" height="5" fill="#8004ff"/>
<rect x="121" y="245" width="7" height="5" fill="#9008e7"/>
<rect x="128" y="245" width="6" height="5" fill="#990cc4"/>
<rect x="134" y="245" width="6" height="5" fill="#a11096"/>
<rect x="140" y="245" width="6" height="5" fill="#ce4600"/>
<rect x="146" y="245" width="7" height="5" fill="#c63700"/>
<rect x="153" y="245" width="6" height="5" fill="#b42000"/>
<rect x="159" y="245" width="6" height="5" fill="#8706fa"/>
<rect x="165" y="245" width="6" height="5" fill="#7202f3"/>
<rect x="171" y="245" width="19" height="5" fill="#6601d7"/>
<rect x="196" y="245" width="31" height="5" fill="#6601d7"/>
<rect x="227" y="245" width="6" height="5" fill="#7202f3"/>
<rect x="233" y="245" width="6" height="5" fill="#6c01e7"/>
<rect x="239" y="245" width="13" height="5" fill="#6601d7"/>
<rect x="258" y="245" width="13" height="5" fill="#6c01e7"/>
<rect x="271" y="245" width="6" height="5" fill="#7202f3"/>
<rect x="277" y="245" width="6" height="5" fill="#6c01e7"/>
<rect x="283" y="245" width="12" height="5" fill="#6601d7"/>
<rect x="295" y="245" width="7" height="5" fill="#5800af"/>
<rect x="302" y="245" width="24" height="5" fill="#6601d7"/>
<rect x="326" y="245" width="7" height="5" fill="#5800af"/>
<rect x="333" y="245" width="12" height="5" fill="#6601d7"/>
<rect x="351" y="245" width="7" height="5" fill="#6601d7"/>
<rect x="358" y="245" width="18" height="5" fill="#6c01e7"/>
<rect x="376" y="245" width="6" height="5" fill="#7202f3"/>
<rect x="382" y="245" width="13" height="5" fill="#7803fa"/>
<rect x="395" y="245" width="6" height="5" fill="#7202f3"/>
<rect x="401" y="245" width="6" height="5" fill="#6c01e7"/>
<rect x="407" y="245" width="6" height="5" fill="#6601d7"/>
<rect x="413" y="245" width="7" height="5" fill="#5800af"/>
<rect x="420" y="245" width="12" height="5" fill="#6601d7"/>
<rect x="438" y="245" width="6" height="5" fill="#5800af"/>
<rect x="444" y="245" width="63" height="5" fill="#6601d7"/>
<rect x="513" y="245" width="11" height="5" fill="#6601d7"/>
<rect x="75" y="250" width="3" height="6" fill="#6c01e7"/>
<rect x="78" y="250" width="25" height="6" fill="#6601d7"/>
<rect x="103" y="250" width="6" height="6" fill="#7202f3"/>
<rect x="109" y="250" width="6" height="6" fill="#7803fa"/>
<rect x="115" y="250" width="6" height="6" fill="#9008e7"/>
<rect x="121" y="250" width="7" height="6" fill="#990cc4"/>
<rect x="128" y="250" width="6" height="6" fill="#a11096"/>
<rect x="134" y="250" width="12" height="6" fill="#b42000"/>
<rect x="146" y="250" width="7" height="6" fill="#a11096"/>
<rect x="153" y="250" width="6" height="6" fill="#9008e7"/>
<rect x="159" y="250" width="6" height="6" fill="#8004ff"/>
<rect x="165" y="250" width="6" height="6" fill="#7202f3"/>
<rect x="171" y="250" width="6" height="6" fill="#6601d7"/>
<rect x="177" y="250" width="7" height="6" fill="#7202f3"/>
<rect x="184" y="250" width="6" height="6" fill="#6c01e7"/>
<rect x="190" y="250" width="6" height="6" fill="#6601d7"/>
<rect x="196" y="250" width="19" height="6" fill="#5800af"/>
<rect x="215" y="250" width="6" height="6" fill="#6c01e7"/>
<rect x="221" y="250" width="12" height="6" fill="#7202f3"/>
<rect x="233" y="250" width="6" height="6" fill="#6c01e7"/>
<rect x="246" y="250" width="12" height="6" fill="#6601d7"/>
<rect x="258" y="250" width="13" height="6" fill="#6c01e7"/>
<rect x="271" y="250" width="12" height="6" fill="#6601d7"/>
<rect x="283" y="250" width="6" height="6" fill="#6c01e7"/>
<rect x="289" y="250" width="50" height="6" fill="#6601d7"/>
<rect x="339" y="250" width="6" height="6" fill="#5800af"/>
<rect x="345" y="250" width="19" height="6" fill="#6601d7"/>
<rect x="364" y="250" width="6" height="6" fill="#5800af"/>
<rect x="376" y="250" width="6" height="6" fill="#6c01e7"/>
<rect x="382" y="250" width="13" height="6" fill="#7202f3"/>
<rect x="395" y="250" width="12" height="6" fill="#7803fa"/>
<rect x="407" y="250" width="6" height="6" fill="#7202f3"/>
<rect x="413" y="250" width="7" height="6" fill="#6c01e7"/>
<rect x="420" y="250" width="12" height="6" fill="#6601d7"/>
<rect x="444" y="250" width="63" height="6" fill="#6601d7"/>
<rect x="513" y="250" width="11" height="6" fill="#6601d7"/>
<rect x="75" y="256" width="15" height="5" fill="#6601d7"/>
<rect x="90" y="256" width="13" height="5" fill="#6c01e7"/>
<rect x="103" y="256" width="6" height="5" fill="#6601d7"/>
<rect x="109" y="256" width="6" height="5" fill="#7803fa"/>
<rect x="115" y="256" width="13" height="5" fill="#9008e7"/>
<rect x="128" y="256" width="12" height="5" fill="#990cc4"/>
<rect x="140" y="256" width="6" height="5" fill="#9008e7"/>
<rect x="146" y="256" width="7" height="5" fill="#8004ff"/>
<rect x="153" y="256" width="6" height="5" fill="#7803fa"/>
<rect x="159" y="256" width="18" height="5" fill="#6c01e7"/>
<rect x="177" y="256" width="38" height="5" fill="#6601d7"/>
<rect x="215" y="256" width="12" height="5" fill="#6c01e7"/>
<rect x="227" y="256" width="6" height="5" fill="#6601d7"/>
<rect x="239" y="256" width="13" height="5" fill="#5800af"/>
<rect x="252" y="256" width="6" height="5" fill="#6601d7"/>
<rect x="258" y="256" width="13" height="5" fill="#6c01e7"/>
<rect x="271" y="256" width="6" height="5" fill="#6601d7"/>
<rect x="277" y="256" width="6" height="5" fill="#6c01e7"/>
<rect x="283" y="256" width="6" height="5" fill="#6601d7"/>
<rect x="289" y="256" width="6" height="5" fill="#6c01e7"/>
<rect x="295" y="256" width="13" height="5" fill="#7202f3"/>
<rect x="308" y="256" width="62" height="5" fill="#6601d7"/>
<rect x="376" y="256" width="6" height="5" fill="#6c01e7"/>
<rect x="382" y="256" width="7" height="5" fill="#7202f3"/>
<rect x="389" y="256" width="6" height="5" fill="#7803fa"/>
<rect x="395" y="256" width="6" height="5" fill="#8004ff"/>
<rect x="401" y="256" width="6" height="5" fill="#7803fa"/>
<rect x="407" y="256" width="6" height="5" fill="#7202f3"/>
<rect x="413" y="256" width="7" height="5" fill="#6c01e7"/>
<rect x="420" y="256" width="68" height="5" fill="#6601d7"/>
<rect x="488" y="256" width="12" height="5" fill="#6c01e7"/>
<rect x="500" y="256" width="24" height="5" fill="#6601d7"/>
<rect x="75" y="261" width="9" height="5" fill="#6c01e7"/>
<rect x="84" y="261" width="19" height="5" fill="#6601d7"/>
<rect x="103" y="261" width="6" height="5" fill="#6c01e7"/>
<rect x="109" y="261" width="6" height="5" fill="#7803fa"/>
<rect x="115" y="261" width="6" height="5" fill="#8004ff"/>
<rect x="121" y="261" width="13" height="5" fill="#8706fa"/>
<rect x="134" y="261" width="6" height="5" fill="#8004ff"/>
<rect x="140" y="261" width="6" height="5" fill="#7803fa"/>
<rect x="146" y="261" width="7" height="5" fill="#6c01e7"/>
<rect x="153" y="261" width="6" height="5" fill="#6601d7"/>
<rect x="159" y="261" width="12" height="5" fill="#6c01e7"/>
<rect x="171" y="261" width="13" height="5" fill="#6601d7"/>
<rect x="184" y="261" width="12" height="5" fill="#6c01e7"/>
<rect x="196" y="261" width="12" height="5" fill="#6601d7"/>
<rect x="221" y="261" width="6" height="5" fill="#6601d7"/>
<rect x="227" y="261" width="12" height="5" fill="#6c01e7"/>
<rect x="239" y="261" width="7" height="5" fill="#6601d7"/>
<rect x="252" y="261" width="6" height="5" fill="#6601d7"/>
<rect x="258" y="261" width="13" height="5" fill="#6c01e7"/>
<rect x="271" y="261" width="6" height="5" fill="#7202f3"/>
<rect x="277" y="261" width="6" height="5" fill="#6c01e7"/>
<rect x="283" y="261" width="6" height="5" fill="#6601d7"/>
<rect x="289" y="261" width="6" height="5" fill="#6c01e7"/>
<rect x="295" y="261" width="13" height="5" fill="#7202f3"/>
<rect x="308" y="261" width="6" height="5" fill="#6c01e7"/>
<rect x="314" y="261" width="12" height="5" fill="#6601d7"/>
<rect x="326" y="261" width="13" height="5" fill="#6c01e7"/>
<rect x="339" y="261" width="19" height="5" fill="#6601d7"/>
<rect x="358" y="261" width="6" height="5" fill="#6c01e7"/>
<rect x="364" y="261" width="6" height="5" fill="#7202f3"/>
<rect x="370" y="261" width="12" height="5" fill="#6c01e7"/>
<rect x="382" y="261" width="25" height="5" fill="#7202f3"/>
<rect x="407" y="261" width="6" height="5" fill="#6601d7"/>
<rect x="413" y="261" width="7" height="5" fill="#5800af"/>
<rect x="420" y="261" width="24" height="5" fill="#6601d7"/>
<rect x="444" y="261" width="7" height="5" fill="#5800af"/>
<rect x="451" y="261" width="37" height="5" fill="#6601d7"/>
<rect x="488" y="261" width="12" height="5" fill="#7202f3"/>
<rect x="500" y="261" width="24" height="5" fill="#6601d7"/>
<rect x="75" y="266" width="3" height="5" fill="#6c01e7"/>
<rect x="78" y="266" width="12" height="5" fill="#6601d7"/>
<rect x="97" y="266" width="6" height="5" fill="#6601d7"/>
<rect x="103" y="266" width="12" height="5" fill="#6c01e7"/>
<rect x="115" y="266" width="31" height="5" fill="#7202f3"/>
<rect x="146" y="266" width="25" height="5" fill="#6c01e7"/>
<rect x="171" y="266" width="6" height="5" fill="#6601d7"/>
<rect x="177" y="266" width="7" height="5" fill="#7202f3"/>
<rect x="184" y="266" width="12" height="5" fill="#6601d7"/>
<rect x="202" y="266" width="13" height="5" fill="#6601d7"/>
<rect x="215" y="266" width="6" height="5" fill="#6c01e7"/>
<rect x="221" y="266" width="12" height="5" fill="#7202f3"/>
<rect x="233" y="266" width="6" height="5" fill="#7803fa"/>
<rect x="239" y="266" width="7" height="5" fill="#8706fa"/>
<rect x="246" y="266" width="6" height="5" fill="#7202f3"/>
<rect x="252" y="266" width="6" height="5" fill="#6601d7"/>
<rect x="258" y="266" width="19" height="5" fill="#6c01e7"/>
<rect x="277" y="266" width="6" height="5" fill="#6601d7"/>
<rect x="283" y="266" width="6" height="5" fill="#6c01e7"/>
<rect x="289" y="266" width="13" height="5" fill="#6601d7"/>
<rect x="302" y="266" width="6" height="5" fill="#6c01e7"/>
<rect x="308" y="266" width="56" height="5" fill="#6601d7"/>
<rect x="364" y="266" width="25" height="5" fill="#7202f3"/>
<rect x="389" y="266" width="12" height="5" fill="#6c01e7"/>
<rect x="401" y="266" width="31" height="5" fill="#6601d7"/>
<rect x="432" y="266" width="6" height="5" fill="#5800af"/>
<rect x="438" y="266" width="62" height="5" fill="#6601d7"/>
<rect x="500" y="266" width="13" height="5" fill="#6c01e7"/>
<rect x="513" y="266" width="11" height="5" fill="#6601d7"/>
<rect x="75" y="271" width="3" height="5" fill="#7202f3"/>
<rect x="90" y="271" width="38" height="5" fill="#6c01e7"/>
<rect x="128" y="271" width="18" height="5" fill="#7202f3"/>
<rect x="146" y="271" width="7" height="5" fill="#7803fa"/>
<rect x="153" y="271" width="6" height="5" fill="#8004ff"/>
<rect x="159" y="271" width="6" height="5" fill="#7803fa"/>
<rect x="165" y="271" width="6" height="5" fill="#7202f3"/>
<rect x="171" y="271" width="6" height="5" fill="#6601d7"/>
<rect x="184" y="271" width="18" height="5" fill="#6c01e7"/>
<rect x="202" y="271" width="25" height="5" fill="#6601d7"/>
<rect x="227" y="271" width="6" height="5" fill="#7202f3"/>
<rect x="233" y="271" width="6" height="5" fill="#7803fa"/>
<rect x="239" y="271" width="7" height="5" fill="#ab174f"/>
<rect x="246" y="271" width="6" height="5" fill="#7803fa"/>
<rect x="252" y="271" width="19" height="5" fill="#7202f3"/>
<rect x="271" y="271" width="12" height="5" fill="#6c01e7"/>
<rect x="283" y="271" width="43" height="5" fill="#6601d7"/>
<rect x="333" y="271" width="31" height="5" fill="#6601d7"/>
<rect x="364" y="271" width="6" height="5" fill="#6c01e7"/>
<rect x="370" y="271" width="6" height="5" fill="#7202f3"/>
<rect x="376" y="271" width="6" height="5" fill="#6c01e7"/>
<rect x="382" y="271" width="7" height="5" fill="#6601d7"/>
<rect x="389" y="271" width="12" height="5" fill="#6c01e7"/>
<rect x="401" y="271" width="37" height="5" fill="#6601d7"/>
<rect x="444" y="271" width="13" height="5" fill="#6601d7"/>
<rect x="482" y="271" width="6" height="5" fill="#6601d7"/>
<rect x="488" y="271" width="6" height="5" fill="#6c01e7"/>
<rect x="494" y="271" width="19" height="5" fill="#6601d7"/>
<rect x="513" y="271" width="6" height="5" fill="#6c01e7"/>
<rect x="519" y="271" width="5" height="5" fill="#7202f3"/>
<rect x="75" y="276" width="3" height="5" fill="#6c01e7"/>
<rect x="78" y="276" width="12" height="5" fill="#6601d7"/>
<rect x="103" y="276" width="12" height="5" fill="#6601d7"/>
<rect x="115" y="276" width="6" height="5" fill="#6c01e7"/>
<rect x="121" y="276" width="7" height="5" fill="#6601d7"/>
<rect x="128" y="276" width="6" height="5" fill="#6c01e7"/>
<rect x="134" y="276" width="6" height="5" fill="#7803fa"/>
<rect x="140" y="276" width="6" height="5" fill="#8004ff"/>
<rect x="146" y="276" width="7" height="5" fill="#9008e7"/>
<rect x="153" y="276" width="6" height="5" fill="#8004ff"/>
<rect x="159" y="276" width="6" height="5" fill="#7803fa"/>
<rect x="165" y="276" width="6" height="5" fill="#7202f3"/>
<rect x="184" y="276" width="43" height="5" fill="#6601d7"/>
<rect x="227" y="276" width="6" height="5" fill="#6c01e7"/>
<rect x="233" y="276" width="6" height="5" fill="#7803fa"/>
<rect x="239" y="276" width="7" height="5" fill="#b42000"/>
<rect x="246" y="276" width="6" height="5" fill="#8706fa"/>
<rect x="252" y="276" width="6" height="5" fill="#7803fa"/>
<rect x="258" y="276" width="19" height="5" fill="#7202f3"/>
<rect x="277" y="276" width="6" height="5" fill="#6c01e7"/>
<rect x="283" y="276" width="37" height="5" fill="#6601d7"/>
<rect x="320" y="276" width="6" height="5" fill="#5800af"/>
<rect x="326" y="276" width="38" height="5" fill="#6601d7"/>
<rect x="364" y="276" width="6" height="5" fill="#5800af"/>
<rect x="376" y="276" width="6" height="5" fill="#6c01e7"/>
<rect x="382" y="276" width="19" height="5" fill="#7202f3"/>
<rect x="401" y="276" width="12" height="5" fill="#7803fa"/>
<rect x="413" y="276" width="13" height="5" fill="#6c01e7"/>
<rect x="426" y="276" width="6" height="5" fill="#6601d7"/>
<rect x="438" y="276" width="19" height="5" fill="#6601d7"/>
<rect x="476" y="276" width="18" height="5" fill="#6601d7"/>
<rect x="494" y="276" width="6" height="5" fill="#6c01e7"/>
<rect x="500" y="276" width="13" height="5" fill="#6601d7"/>
<rect x="519" y="276" width="5" height="5" fill="#6601d7"/>
<rect x="75" y="281" width="3" height="5" fill="#6c01e7"/>
<rect x="90" y="281" width="13" height="5" fill="#6601d7"/>
<rect x="109" y="281" width="12" height="5" fill="#6601d7"/>
<rect x="121" y="281" width="7" height="5" fill="#7202f3"/>
<rect x="128" y="281" width="6" height="5" fill="#7803fa"/>
<rect x="134" y="281" width="6" height="5" fill="#9008e7"/>
<rect x="140" y="281" width="6" height="5" fill="#8706fa"/>
<rect x="146" y="281" width="7" height="5" fill="#9008e7"/>
<rect x="153" y="281" width="6" height="5" fill="#7803fa"/>
<rect x="159" y="281" width="6" height="5" fill="#6601d7"/>
<rect x="171" y="281" width="19" height="5" fill="#6601d7"/>
<rect x="190" y="281" width="6" height="5" fill="#6c01e7"/>
<rect x="196" y="281" width="25" height="5" fill="#6601d7"/>
<rect x="221" y="281" width="6" height="5" fill="#5800af"/>
<rect x="227" y="281" width="6" height="5" fill="#6c01e7"/>
<rect x="233" y="281" width="6" height="5" fill="#7202f3"/>
<rect x="239" y="281" width="13" height="5" fill="#990cc4"/>
<rect x="252" y="281" width="6" height="5" fill="#8004ff"/>
<rect x="258" y="281" width="6" height="5" fill="#7803fa"/>
<rect x="264" y="281" width="7" height="5" fill="#7202f3"/>
<rect x="271" y="281" width="6" height="5" fill="#6c01e7"/>
<rect x="283" y="281" width="19" height="5" fill="#6601d7"/>
<rect x="302" y="281" width="6" height="5" fill="#6c01e7"/>
<rect x="308" y="281" width="6" height="5" fill="#6601d7"/>
<rect x="320" y="281" width="6" height="5" fill="#6601d7"/>
<rect x="326" y="281" width="7" height="5" fill="#5800af"/>
<rect x="333" y="281" width="43" height="5" fill="#6601d7"/>
<rect x="376" y="281" width="6" height="5" fill="#6c01e7"/>
<rect x="382" y="281" width="7" height="5" fill="#7202f3"/>
<rect x="389" y="281" width="18" height="5" fill="#7803fa"/>
<rect x="407" y="281" width="6" height="5" fill="#6c01e7"/>
<rect x="413" y="281" width="7" height="5" fill="#6601d7"/>
<rect x="420" y="281" width="6" height="5" fill="#6c01e7"/>
<rect x="426" y="281" width="6" height="5" fill="#6601d7"/>
<rect x="432" y="281" width="6" height="5" fill="#6c01e7"/>
<rect x="438" y="281" width="19" height="5" fill="#6601d7"/>
<rect x="482" y="281" width="31" height="5" fill="#6601d7"/>
<rect x="519" y="281" width="5" height="5" fill="#6c01e7"/>
<rect x="75" y="286" width="9" height="6" fill="#7803fa"/>
<rect x="84" y="286" width="25" height="6" fill="#6601d7"/>
<rect x="109" y="286" width="6" height="6" fill="#6c01e7"/>
<rect x="115" y="286" width="6" height="6" fill="#7202f3"/>
<rect x="121" y="286" width="7" height="6" fill="#7803fa"/>
<rect x="128" y="286" width="18" height="6" fill="#8706fa"/>
<rect x="146" y="286" width="7" height="6" fill="#8004ff"/>
<rect x="153" y="286" width="6" height="6" fill="#7202f3"/>
<rect x="159" y="286" width="12" height="6" fill="#6601d7"/>
<rect x="177" y="286" width="7" height="6" fill="#7202f3"/>
<rect x="184" y="286" width="6" height="6" fill="#6601d7"/>
<rect x="190" y="286" width="12" height="6" fill="#7202f3"/>
<rect x="202" y="286" width="13" height="6" fill="#6601d7"/>
<rect x="215" y="286" width="6" height="6" fill="#5800af"/>
<rect x="221" y="286" width="6" height="6" fill="#6601d7"/>
<rect x="227" y="286" width="6" height="6" fill="#6c01e7"/>
<rect x="233" y="286" width="6" height="6" fill="#7202f3"/>
<rect x="239" y="286" width="7" height="6" fill="#7803fa"/>
<rect x="246" y="286" width="6" height="6" fill="#9008e7"/>
<rect x="252" y="286" width="12" height="6" fill="#7803fa"/>
<rect x="264" y="286" width="7" height="6" fill="#6c01e7"/>
<rect x="271" y="286" width="18" height="6" fill="#6601d7"/>
<rect x="289" y="286" width="13" height="6" fill="#7202f3"/>
<rect x="302" y="286" width="6" height="6" fill="#6c01e7"/>
<rect x="308" y="286" width="25" height="6" fill="#6601d7"/>
<rect x="333" y="286" width="12" height="6" fill="#5800af"/>
<rect x="345" y="286" width="25" height="6" fill="#6601d7"/>
<rect x="370" y="286" width="6" height="6" fill="#6c01e7"/>
<rect x="376" y="286" width="6" height="6" fill="#6601d7"/>
<rect x="382" y="286" width="19" height="6" fill="#7202f3"/>
<rect x="401" y="286" width="6" height="6" fill="#6c01e7"/>
<rect x="407" y="286" width="6" height="6" fill="#6601d7"/>
<rect x="413" y="286" width="7" height="6" fill="#6c01e7"/>
<rect x="420" y="286" width="6" height="6" fill="#6601d7"/>
<rect x="426" y="286" width="6" height="6" fill="#7202f3"/>
<rect x="432" y="286" width="25" height="6" fill="#6601d7"/>
<rect x="488" y="286" width="31" height="6" fill="#6601d7"/>
<rect x="519" y="286" width="5" height="6" fill="#7202f3"/>
<rect x="75" y="292" width="3" height="5" fill="#7202f3"/>
<rect x="78" y="292" width="12" height="5" fill="#6601d7"/>
<rect x="90" y="292" width="7" height="5" fill="#6c01e7"/>
<rect x="97" y="292" width="12" height="5" fill="#7202f3"/>
<rect x="109" y="292" width="6" height="5" fill="#6c01e7"/>
<rect x="115" y="292" width="6" height="5" fill="#7202f3"/>
<rect x="121" y="292" width="7" height="5" fill="#7803fa"/>
<rect x="128" y="292" width="18" height="5" fill="#8004ff"/>
<rect x="146" y="292" width="7" height="5" fill="#7202f3"/>
<rect x="153" y="292" width="18" height="5" fill="#6601d7"/>
<rect x="177" y="292" width="7" height="5" fill="#6601d7"/>
<rect x="184" y="292" width="6" height="5" fill="#6c01e7"/>
<rect x="190" y="292" width="12" height="5" fill="#7202f3"/>
<rect x="202" y="292" width="6" height="5" fill="#6601d7"/>
<rect x="208" y="292" width="13" height="5" fill="#5800af"/>
<rect x="221" y="292" width="6" height="5" fill="#6601d7"/>
<rect x="227" y="292" width="19" height="5" fill="#6c01e7"/>
<rect x="246" y="292" width="6" height="5" fill="#7202f3"/>
<rect x="252" y="292" width="19" height="5" fill="#7803fa"/>
<rect x="271" y="292" width="18" height="5" fill="#8004ff"/>
<rect x="289" y="292" width="6" height="5" fill="#990cc4"/>
<rect x="295" y="292" width="7" height="5" fill="#8706fa"/>
<rect x="302" y="292" width="6" height="5" fill="#7202f3"/>
<rect x="308" y="292" width="6" height="5" fill="#6c01e7"/>
<rect x="314" y="292" width="6" height="5" fill="#6601d7"/>
<rect x="320" y="292" width="6" height="5" fill="#5800af"/>
<rect x="326" y="292" width="25" height="5" fill="#6601d7"/>
<rect x="351" y="292" width="13" height="5" fill="#6c01e7"/>
<rect x="364" y="292" width="12" height="5" fill="#7202f3"/>
<rect x="376" y="292" width="6" height="5" fill="#6c01e7"/>
<rect x="382" y="292" width="25" height="5" fill="#7202f3"/>
<rect x="407" y="292" width="13" height="5" fill="#7803fa"/>
<rect x="420" y="292" width="6" height="5" fill="#7202f3"/>
<rect x="426" y="292" width="6" height="5" fill="#6c01e7"/>
<rect x="432" y="292" width="44" height="5" fill="#6601d7"/>
<rect x="482" y="292" width="18" height="5" fill="#6601d7"/>
<rect x="500" y="292" width="7" height="5" fill="#7202f3"/>
<rect x="507" y="292" width="6" height="5" fill="#6601d7"/>
<rect x="513" y="292" width="6" height="5" fill="#7202f3"/>
<rect x="519" y="292" width="5" height="5" fill="#8004ff"/>
<rect x="75" y="297" width="3" height="5" fill="#7202f3"/>
<rect x="78" y="297" width="6" height="5" fill="#6c01e7"/>
<rect x="84" y="297" width="6" height="5" fill="#7803fa"/>
<rect x="90" y="297" width="13" height="5" fill="#7202f3"/>
<rect x="103" y="297" width="6" height="5" fill="#8004ff"/>
<rect x="109" y="297" width="6" height="5" fill="#7202f3"/>
<rect x="115" y="297" width="6" height="5" fill="#6c01e7"/>
<rect x="121" y="297" width="7" height="5" fill="#7803fa"/>
<rect x="128" y="297" width="18" height="5" fill="#8004ff"/>
<rect x="146" y="297" width="7" height="5" fill="#7202f3"/>
<rect x="153" y="297" width="18" height="5" fill="#6601d7"/>
<rect x="184" y="297" width="18" height="5" fill="#6601d7"/>
<rect x="208" y="297" width="19" height="5" fill="#6601d7"/>
<rect x="227" y="297" width="6" height="5" fill="#6c01e7"/>
<rect x="233" y="297" width="13" height="5" fill="#6601d7"/>
<rect x="246" y="297" width="6" height="5" fill="#6c01e7"/>
<rect x="252" y="297" width="6" height="5" fill="#7202f3"/>
<rect x="258" y="297" width="6" height="5" fill="#7803fa"/>
<rect x="264" y="297" width="7" height="5" fill="#990cc4"/>
<rect x="271" y="297" width="6" height="5" fill="#a11096"/>
<rect x="277" y="297" width="12" height="5" fill="#b42000"/>
<rect x="289" y="297" width="6" height="5" fill="#bd2a00"/>
<rect x="295" y="297" width="7" height="5" fill="#990cc4"/>
<rect x="302" y="297" width="6" height="5" fill="#7803fa"/>
<rect x="308" y="297" width="6" height="5" fill="#6c01e7"/>
<rect x="314" y="297" width="12" height="5" fill="#6601d7"/>
<rect x="326" y="297" width="7" height="5" fill="#5800af"/>
<rect x="333" y="297" width="12" height="5" fill="#6601d7"/>
<rect x="345" y="297" width="13" height="5" fill="#6c01e7"/>
<rect x="358" y="297" width="6" height="5" fill="#9008e7"/>
<rect x="364" y="297" width="12" height="5" fill="#8004ff"/>
<rect x="376" y="297" width="13" height="5" fill="#8706fa"/>
<rect x="389" y="297" width="12" height="5" fill="#9008e7"/>
<rect x="401" y="297" width="19" height="5" fill="#990cc4"/>
<rect x="420" y="297" width="6" height="5" fill="#7803fa"/>
<rect x="426" y="297" width="18" height="5" fill="#6601d7"/>
<rect x="444" y="297" width="13" height="5" fill="#6c01e7"/>
<rect x="457" y="297" width="12" height="5" fill="#6601d7"/>
<rect x="476" y="297" width="31" height="5" fill="#6601d7"/>
<rect x="507" y="297" width="6" height="5" fill="#6c01e7"/>
<rect x="513" y="297" width="6" height="5" fill="#8004ff"/>
<rect x="519" y="297" width="5" height="5" fill="#8706fa"/>
<rect x="75" y="302" width="3" height="5" fill="#8004ff"/>
<rect x="78" y="302" width="6" height="5" fill="#8706fa"/>
<rect x="84" y="302" width="6" height="5" fill="#7803fa"/>
<rect x="90" y="302" width="7" height="5" fill="#6c01e7"/>
<rect x="97" y="302" width="6" height="5" fill="#7803fa"/>
<rect x="103" y="302" width="18" height="5" fill="#8004ff"/>
<rect x="121" y="302" width="7" height="5" fill="#8706fa"/>
<rect x="128" y="302" width="6" height="5" fill="#9008e7"/>
<rect x="134" y="302" width="12" height="5" fill="#8004ff"/>
<rect x="146" y="302" width="7" height="5" fill="#7202f3"/>
<rect x="153" y="302" width="18" height="5" fill="#6c01e7"/>
<rect x="171" y="302" width="6" height="5" fill="#7202f3"/>
<rect x="177" y="302" width="13" height="5" fill="#6c01e7"/>
<rect x="190" y="302" width="6" height="5" fill="#6601d7"/>
<rect x="196" y="302" width="12" height="5" fill="#5800af"/>
<rect x="215" y="302" width="6" height="5" fill="#5800af"/>
<rect x="221" y="302" width="6" height="5" fill="#6601d7"/>
<rect x="227" y="302" width="19" height="5" fill="#6c01e7"/>
<rect x="246" y="302" width="6" height="5" fill="#7202f3"/>
<rect x="252" y="302" width="6" height="5" fill="#7803fa"/>
<rect x="258" y="302" width="6" height="5" fill="#9008e7"/>
<rect x="264" y="302" width="7" height="5" fill="#bd2a00"/>
<rect x="271" y="302" width="6" height="5" fill="#c63700"/>
<rect x="277" y="302" width="12" height="5" fill="#ce4600"/>
<rect x="289" y="302" width="6" height="5" fill="#bd2a00"/>
<rect x="295" y="302" width="7" height="5" fill="#990cc4"/>
<rect x="302" y="302" width="6" height="5" fill="#7803fa"/>
<rect x="308" y="302" width="6" height="5" fill="#7202f3"/>
<rect x="314" y="302" width="31" height="5" fill="#6601d7"/>
<rect x="345" y="302" width="13" height="5" fill="#6c01e7"/>
<rect x="358" y="302" width="6" height="5" fill="#7803fa"/>
<rect x="364" y="302" width="6" height="5" fill="#7202f3"/>
<rect x="370" y="302" width="6" height="5" fill="#8004ff"/>
<rect x="376" y="302" width="6" height="5" fill="#9008e7"/>
<rect x="382" y="302" width="13" height="5" fill="#a11096"/>
<rect x="395" y="302" width="6" height="5" fill="#b42000"/>
<rect x="401" y="302" width="12" height="5" fill="#bd2a00"/>
<rect x="413" y="302" width="7" height="5" fill="#8004ff"/>
<rect x="420" y="302" width="6" height="5" fill="#7202f3"/>
<rect x="426" y="302" width="6" height="5" fill="#6c01e7"/>
<rect x="432" y="302" width="37" height="5" fill="#6601d7"/>
<rect x="476" y="302" width="18" height="5" fill="#6601d7"/>
<rect x="494" y="302" width="13" height="5" fill="#6c01e7"/>
<rect x="507" y="302" width="6" height="5" fill="#7202f3"/>
<rect x="513" y="302" width="6" height="5" fill="#7803fa"/>
<rect x="519" y="302" width="5" height="5" fill="#8004ff"/>
<rect x="75" y="307" width="3" height="5" fill="#ab174f"/>
<rect x="78" y="307" width="6" height="5" fill="#990cc4"/>
<rect x="84" y="307" width="6" height="5" fill="#8706fa"/>
<rect x="90" y="307" width="7" height="5" fill="#9008e7"/>
<rect x="97" y="307" width="6" height="5" fill="#990cc4"/>
<rect x="103" y="307" width="6" height="5" fill="#a11096"/>
<rect x="109" y="307" width="6" height="5" fill="#990cc4"/>
<rect x="115" y="307" width="6" height="5" fill="#a11096"/>
<rect x="121" y="307" width="7" height="5" fill="#ab174f"/>
<rect x="128" y="307" width="6" height="5" fill="#990cc4"/>
<rect x="134" y="307" width="6" height="5" fill="#8706fa"/>
<rect x="140" y="307" width="6" height="5" fill="#8004ff"/>
<rect x="146" y="307" width="19" height="5" fill="#7803fa"/>
<rect x="165" y="307" width="6" height="5" fill="#8004ff"/>
<rect x="171" y="307" width="6" height="5" fill="#990cc4"/>
<rect x="177" y="307" width="7" height="5" fill="#9008e7"/>
<rect x="184" y="307" width="6" height="5" fill="#7202f3"/>
<rect x="190" y="307" width="6" height="5" fill="#6601d7"/>
<rect x="196" y="307" width="12" height="5" fill="#5800af"/>
<rect x="208" y="307" width="19" height="5" fill="#6601d7"/>
<rect x="227" y="307" width="12" height="5" fill="#6c01e7"/>
<rect x="239" y="307" width="7" height="5" fill="#7202f3"/>
<rect x="246" y="307" width="6" height="5" fill="#7803fa"/>
<rect x="252" y="307" width="6" height="5" fill="#8706fa"/>
<rect x="258" y="307" width="6" height="5" fill="#ab174f"/>
<rect x="264" y="307" width="7" height="5" fill="#ce4600"/>
<rect x="271" y="307" width="6" height="5" fill="#dd6c00"/>
<rect x="277" y="307" width="12" height="5" fill="#e48300"/>
<rect x="289" y="307" width="6" height="5" fill="#a11096"/>
<rect x="295" y="307" width="7" height="5" fill="#8004ff"/>
<rect x="302" y="307" width="6" height="5" fill="#7202f3"/>
<rect x="308" y="307" width="18" height="5" fill="#6601d7"/>
<rect x="326" y="307" width="25" height="5" fill="#6c01e7"/>
<rect x="351" y="307" width="7" height="5" fill="#7202f3"/>
<rect x="358" y="307" width="6" height="5" fill="#8004ff"/>
<rect x="364" y="307" width="6" height="5" fill="#a11096"/>
<rect x="370" y="307" width="6" height="5" fill="#b42000"/>
<rect x="376" y="307" width="6" height="5" fill="#bd2a00"/>
<rect x="382" y="307" width="7" height="5" fill="#c63700"/>
<rect x="389" y="307" width="6" height="5" fill="#bd2a00"/>
<rect x="395" y="307" width="18" height="5" fill="#ce4600"/>
<rect x="413" y="307" width="7" height="5" fill="#8706fa"/>
<rect x="420" y="307" width="6" height="5" fill="#7803fa"/>
<rect x="426" y="307" width="6" height="5" fill="#7202f3"/>
<rect x="432" y="307" width="6" height="5" fill="#6c01e7"/>
<rect x="438" y="307" width="38" height="5" fill="#6601d7"/>
<rect x="482" y="307" width="6" height="5" fill="#6601d7"/>
<rect x="488" y="307" width="25" height="5" fill="#6c01e7"/>
<rect x="513" y="307" width="6" height="5" fill="#7202f3"/>
<rect x="519" y="307" width="5" height="5" fill="#7803fa"/>
<rect x="75" y="312" width="3" height="5" fill="#bd2a00"/>
<rect x="78" y="312" width="12" height="5" fill="#ab174f"/>
<rect x="90" y="312" width="7" height="5" fill="#bd2a00"/>
<rect x="97" y="312" width="12" height="5" fill="#c63700"/>
<rect x="109" y="312" width="6" height="5" fill="#bd2a00"/>
<rect x="115" y="312" width="6" height="5" fill="#c63700"/>
<rect x="121" y="312" width="7" height="5" fill="#ce4600"/>
<rect x="128" y="312" width="6" height="5" fill="#ab174f"/>
<rect x="134" y="312" width="6" height="5" fill="#8706fa"/>
<rect x="140" y="312" width="6" height="5" fill="#8004ff"/>
<rect x="146" y="312" width="7" height="5" fill="#7202f3"/>
<rect x="153" y="312" width="6" height="5" fill="#6601d7"/>
<rect x="159" y="312" width="6" height="5" fill="#7202f3"/>
<rect x="165" y="312" width="6" height="5" fill="#8004ff"/>
<rect x="171" y="312" width="6" height="5" fill="#bd2a00"/>
<rect x="177" y="312" width="7" height="5" fill="#8004ff"/>
<rect x="184" y="312" width="18" height="5" fill="#6601d7"/>
<rect x="202" y="312" width="13" height="5" fill="#5800af"/>
<rect x="221" y="312" width="18" height="5" fill="#6c01e7"/>
<rect x="239" y="312" width="7" height="5" fill="#7202f3"/>
<rect x="246" y="312" width="6" height="5" fill="#7803fa"/>
<rect x="252" y="312" width="6" height="5" fill="#8706fa"/>
<rect x="258" y="312" width="6" height="5" fill="#990cc4"/>
<rect x="264" y="312" width="7" height="5" fill="#dd6c00"/>
<rect x="271" y="312" width="6" height="5" fill="#f2ba00"/>
<rect x="277" y="312" width="6" height="5" fill="#eb9d00"/>
<rect x="283" y="312" width="6" height="5" fill="#ab174f"/>
<rect x="289" y="312" width="6" height="5" fill="#8706fa"/>
<rect x="295" y="312" width="7" height="5" fill="#7803fa"/>
<rect x="302" y="312" width="6" height="5" fill="#6c01e7"/>
<rect x="308" y="312" width="6" height="5" fill="#6601d7"/>
<rect x="314" y="312" width="31" height="5" fill="#6c01e7"/>
<rect x="345" y="312" width="13" height="5" fill="#7202f3"/>
<rect x="358" y="312" width="6" height="5" fill="#8004ff"/>
<rect x="364" y="312" width="6" height="5" fill="#ce4600"/>
<rect x="370" y="312" width="6" height="5" fill="#c63700"/>
<rect x="376" y="312" width="6" height="5" fill="#ce4600"/>
<rect x="382" y="312" width="7" height="5" fill="#dd6c00"/>
<rect x="389" y="312" width="12" height="5" fill="#ce4600"/>
<rect x="401" y="312" width="12" height="5" fill="#eb9d00"/>
<rect x="413" y="312" width="7" height="5" fill="#9008e7"/>
<rect x="420" y="312" width="12" height="5" fill="#8706fa"/>
<rect x="432" y="312" width="6" height="5" fill="#7803fa"/>
<rect x="438" y="312" width="13" height="5" fill="#6c01e7"/>
<rect x="451" y="312" width="12" height="5" fill="#6601d7"/>
<rect x="469" y="312" width="19" height="5" fill="#6601d7"/>
<rect x="500" y="312" width="19" height="5" fill="#6c01e7"/>
<rect x="519" y="312" width="5" height="5" fill="#7803fa"/>
<rect x="75" y="317" width="9" height="5" fill="#bd2a00"/>
<rect x="84" y="317" width="13" height="5" fill="#ab174f"/>
<rect x="97" y="317" width="6" height="5" fill="#b42000"/>
<rect x="103" y="317" width="6" height="5" fill="#c63700"/>
<rect x="109" y="317" width="6" height="5" fill="#ce4600"/>
<rect x="115" y="317" width="6" height="5" fill="#d55700"/>
<rect x="121" y="317" width="7" height="5" fill="#dd6c00"/>
<rect x="128" y="317" width="6" height="5" fill="#c63700"/>
<rect x="134" y="317" width="6" height="5" fill="#990cc4"/>
<rect x="140" y="317" width="6" height="5" fill="#8706fa"/>
<rect x="146" y="317" width="13" height="5" fill="#8004ff"/>
<rect x="159" y="317" width="6" height="5" fill="#9008e7"/>
<rect x="165" y="317" width="6" height="5" fill="#a11096"/>
<rect x="171" y="317" width="6" height="5" fill="#ab174f"/>
<rect x="177" y="317" width="7" height="5" fill="#8004ff"/>
<rect x="184" y="317" width="12" height="5" fill="#6601d7"/>
<rect x="196" y="317" width="6" height="5" fill="#6c01e7"/>
<rect x="202" y="317" width="6" height="5" fill="#6601d7"/>
<rect x="208" y="317" width="7" height="5" fill="#5800af"/>
<rect x="215" y="317" width="18" height="5" fill="#6c01e7"/>
<rect x="233" y="317" width="13" height="5" fill="#6601d7"/>
<rect x="246" y="317" width="6" height="5" fill="#7202f3"/>
<rect x="252" y="317" width="6" height="5" fill="#8004ff"/>
<rect x="258" y="317" width="6" height="5" fill="#9008e7"/>
<rect x="264" y="317" width="7" height="5" fill="#990cc4"/>
<rect x="271" y="317" width="12" height="5" fill="#ffff00"/>
<rect x="283" y="317" width="6" height="5" fill="#990cc4"/>
<rect x="289" y="317" width="6" height="5" fill="#8004ff"/>
<rect x="295" y="317" width="7" height="5" fill="#7202f3"/>
<rect x="302" y="317" width="6" height="5" fill="#6601d7"/>
<rect x="308" y="317" width="25" height="5" fill="#6c01e7"/>
<rect x="333" y="317" width="6" height="5" fill="#6601d7"/>
<rect x="339" y="317" width="6" height="5" fill="#6c01e7"/>
<rect x="345" y="317" width="13" height="5" fill="#7202f3"/>
<rect x="358" y="317" width="6" height="5" fill="#8004ff"/>
<rect x="364" y="317" width="6" height="5" fill="#990cc4"/>
<rect x="370" y="317" width="31" height="5" fill="#d55700"/>
<rect x="401" y="317" width="6" height="5" fill="#dd6c00"/>
<rect x="407" y="317" width="6" height="5" fill="#d55700"/>
<rect x="413" y="317" width="13" height="5" fill="#ab174f"/>
<rect x="426" y="317" width="6" height="5" fill="#990cc4"/>
<rect x="432" y="317" width="6" height="5" fill="#8004ff"/>
<rect x="438" y="317" width="6" height="5" fill="#7202f3"/>
<rect x="444" y="317" width="7" height="5" fill="#6c01e7"/>
<rect x="451" y="317" width="6" height="5" fill="#6601d7"/>
<rect x="457" y="317" width="6" height="5" fill="#6c01e7"/>
<rect x="463" y="317" width="13" height="5" fill="#6601d7"/>
<rect x="476" y="317" width="6" height="5" fill="#6c01e7"/>
<rect x="482" y="317" width="18" height="5" fill="#6601d7"/>
<rect x="507" y="317" width="12" height="5" fill="#6c01e7"/>
<rect x="519" y="317" width="5" height="5" fill="#7803fa"/>
<rect x="75" y="322" width="3" height="6" fill="#c63700"/>
<rect x="78" y="322" width="6" height="6" fill="#bd2a00"/>
<rect x="84" y="322" width="6" height="6" fill="#ab174f"/>
<rect x="90" y="322" width="7" height="6" fill="#a11096"/>
<rect x="97" y="322" width="6" height="6" fill="#ab174f"/>
<rect x="103" y="322" width="6" height="6" fill="#c63700"/>
<rect x="109" y="322" width="6" height="6" fill="#e48300"/>
<rect x="115" y="322" width="6" height="6" fill="#f2ba00"/>
<rect x="121" y="322" width="7" height="6" fill="#e48300"/>
<rect x="128" y="322" width="6" height="6" fill="#c63700"/>
<rect x="134" y="322" width="6" height="6" fill="#ab174f"/>
<rect x="140" y="322" width="13" height="6" fill="#a11096"/>
<rect x="153" y="322" width="6" height="6" fill="#ab174f"/>
<rect x="159" y="322" width="6" height="6" fill="#bd2a00"/>
<rect x="165" y="322" width="6" height="6" fill="#c63700"/>
<rect x="171" y="322" width="6" height="6" fill="#9008e7"/>
<rect x="177" y="322" width="7" height="6" fill="#7202f3"/>
<rect x="184" y="322" width="6" height="6" fill="#6c01e7"/>
<rect x="190" y="322" width="6" height="6" fill="#6601d7"/>
<rect x="196" y="322" width="6" height="6" fill="#5800af"/>
<rect x="202" y="322" width="13" height="6" fill="#6601d7"/>
<rect x="215" y="322" width="18" height="6" fill="#6c01e7"/>
<rect x="233" y="322" width="6" height="6" fill="#6601d7"/>
<rect x="239" y="322" width="13" height="6" fill="#6c01e7"/>
<rect x="252" y="322" width="6" height="6" fill="#7803fa"/>
<rect x="258" y="322" width="6" height="6" fill="#9008e7"/>
<rect x="264" y="322" width="7" height="6" fill="#a11096"/>
<rect x="271" y="322" width="6" height="6" fill="#dd6c00"/>
<rect x="277" y="322" width="6" height="6" fill="#a11096"/>
<rect x="283" y="322" width="6" height="6" fill="#8706fa"/>
<rect x="289" y="322" width="13" height="6" fill="#7803fa"/>
<rect x="302" y="322" width="18" height="6" fill="#7202f3"/>
<rect x="320" y="322" width="13" height="6" fill="#7803fa"/>
<rect x="333" y="322" width="6" height="6" fill="#7202f3"/>
<rect x="339" y="322" width="12" height="6" fill="#6c01e7"/>
<rect x="351" y="322" width="7" height="6" fill="#7202f3"/>
<rect x="358" y="322" width="6" height="6" fill="#8004ff"/>
<rect x="364" y="322" width="6" height="6" fill="#990cc4"/>
<rect x="370" y="322" width="6" height="6" fill="#ce4600"/>
<rect x="376" y="322" width="13" height="6" fill="#d55700"/>
<rect x="389" y="322" width="6" height="6" fill="#dd6c00"/>
<rect x="395" y="322" width="6" height="6" fill="#d55700"/>
<rect x="401" y="322" width="6" height="6" fill="#e48300"/>
<rect x="407" y="322" width="6" height="6" fill="#eb9d00"/>
<rect x="413" y="322" width="7" height="6" fill="#bd2a00"/>
<rect x="420" y="322" width="6" height="6" fill="#b42000"/>
<rect x="426" y="322" width="6" height="6" fill="#ab174f"/>
<rect x="432" y="322" width="6" height="6" fill="#9008e7"/>
<rect x="438" y="322" width="6" height="6" fill="#7803fa"/>
<rect x="444" y="322" width="7" height="6" fill="#7202f3"/>
<rect x="451" y="322" width="6" height="6" fill="#6c01e7"/>
<rect x="457" y="322" width="19" height="6" fill="#6601d7"/>
<rect x="494" y="322" width="13" height="6" fill="#6601d7"/>
<rect x="507" y="322" width="12" height="6" fill="#6c01e7"/>
<rect x="519" y="322" width="5" height="6" fill="#7803fa"/>
<rect x="75" y="328" width="3" height="5" fill="#ab174f"/>
<rect x="78" y="328" width="6" height="5" fill="#a11096"/>
<rect x="84" y="328" width="19" height="5" fill="#990cc4"/>
<rect x="103" y="328" width="6" height="5" fill="#bd2a00"/>
<rect x="109" y="328" width="12" height="5" fill="#c63700"/>
<rect x="121" y="328" width="13" height="5" fill="#e48300"/>
<rect x="134" y="328" width="25" height="5" fill="#bd2a00"/>
<rect x="159" y="328" width="6" height="5" fill="#c63700"/>
<rect x="165" y="328" width="6" height="5" fill="#990cc4"/>
<rect x="171" y="328" width="6" height="5" fill="#7803fa"/>
<rect x="177" y="328" width="7" height="5" fill="#6601d7"/>
<rect x="184" y="328" width="6" height="5" fill="#5800af"/>
<rect x="196" y="328" width="12" height="5" fill="#7202f3"/>
<rect x="208" y="328" width="13" height="5" fill="#6c01e7"/>
<rect x="221" y="328" width="25" height="5" fill="#6601d7"/>
<rect x="246" y="328" width="6" height="5" fill="#6c01e7"/>
<rect x="252" y="328" width="6" height="5" fill="#7803fa"/>
<rect x="258" y="328" width="6" height="5" fill="#8706fa"/>
<rect x="264" y="328" width="7" height="5" fill="#ab174f"/>
<rect x="271" y="328" width="6" height="5" fill="#e48300"/>
<rect x="277" y="328" width="6" height="5" fill="#a11096"/>
<rect x="283" y="328" width="6" height="5" fill="#990cc4"/>
<rect x="289" y="328" width="13" height="5" fill="#8706fa"/>
<rect x="302" y="328" width="12" height="5" fill="#8004ff"/>
<rect x="314" y="328" width="12" height="5" fill="#8706fa"/>
<rect x="326" y="328" width="19" height="5" fill="#8004ff"/>
<rect x="345" y="328" width="6" height="5" fill="#8706fa"/>
<rect x="351" y="328" width="7" height="5" fill="#990cc4"/>
<rect x="358" y="328" width="6" height="5" fill="#a11096"/>
<rect x="364" y="328" width="6" height="5" fill="#b42000"/>
<rect x="370" y="328" width="6" height="5" fill="#ce4600"/>
<rect x="376" y="328" width="6" height="5" fill="#eb9d00"/>
<rect x="382" y="328" width="7" height="5" fill="#e48300"/>
<rect x="389" y="328" width="12" height="5" fill="#dd6c00"/>
<rect x="401" y="328" width="6" height="5" fill="#eb9d00"/>
<rect x="407" y="328" width="6" height="5" fill="#d55700"/>
<rect x="413" y="328" width="7" height="5" fill="#c63700"/>
<rect x="420" y="328" width="6" height="5" fill="#b42000"/>
<rect x="426" y="328" width="6" height="5" fill="#ab174f"/>
<rect x="432" y="328" width="6" height="5" fill="#990cc4"/>
<rect x="438" y="328" width="6" height="5" fill="#7803fa"/>
<rect x="444" y="328" width="19" height="5" fill="#7202f3"/>
<rect x="463" y="328" width="13" height="5" fill="#6c01e7"/>
<rect x="482" y="328" width="12" height="5" fill="#6601d7"/>
<rect x="500" y="328" width="7" height="5" fill="#6601d7"/>
<rect x="507" y="328" width="6" height="5" fill="#6c01e7"/>
<rect x="513" y="328" width="6" height="5" fill="#7202f3"/>
<rect x="519" y="328" width="5" height="5" fill="#8004ff"/>
<rect x="75" y="333" width="3" height="5" fill="#990cc4"/>
<rect x="78" y="333" width="6" height="5" fill="#8004ff"/>
<rect x="84" y="333" width="13" height="5" fill="#7803fa"/>
<rect x="97" y="333" width="6" height="5" fill="#9008e7"/>
<rect x="103" y="333" width="6" height="5" fill="#b42000"/>
<rect x="109" y="333" width="12" height="5" fill="#bd2a00"/>
<rect x="121" y="333" width="13" height="5" fill="#e48300"/>
<rect x="134" y="333" width="6" height="5" fill="#ffff00"/>
<rect x="140" y="333" width="6" height="5" fill="#c63700"/>
<rect x="146" y="333" width="13" height="5" fill="#bd2a00"/>
<rect x="159" y="333" width="6" height="5" fill="#c63700"/>
<rect x="165" y="333" width="6" height="5" fill="#990cc4"/>
<rect x="171" y="333" width="6" height="5" fill="#7803fa"/>
<rect x="177" y="333" width="13" height="5" fill="#7202f3"/>
<rect x="190" y="333" width="6" height="5" fill="#8004ff"/>
<rect x="196" y="333" width="6" height="5" fill="#a11096"/>
<rect x="202" y="333" width="6" height="5" fill="#7803fa"/>
<rect x="208" y="333" width="13" height="5" fill="#7202f3"/>
<rect x="221" y="333" width="25" height="5" fill="#6601d7"/>
<rect x="246" y="333" width="6" height="5" fill="#6c01e7"/>
<rect x="252" y="333" width="6" height="5" fill="#8004ff"/>
<rect x="258" y="333" width="6" height="5" fill="#ab174f"/>
<rect x="264" y="333" width="7" height="5" fill="#e48300"/>
<rect x="271" y="333" width="6" height="5" fill="#dd6c00"/>
<rect x="277" y="333" width="6" height="5" fill="#a11096"/>
<rect x="283" y="333" width="25" height="5" fill="#ab174f"/>
<rect x="308" y="333" width="6" height="5" fill="#990cc4"/>
<rect x="314" y="333" width="12" height="5" fill="#a11096"/>
<rect x="326" y="333" width="7" height="5" fill="#990cc4"/>
<rect x="333" y="333" width="12" height="5" fill="#9008e7"/>
<rect x="345" y="333" width="6" height="5" fill="#990cc4"/>
<rect x="351" y="333" width="7" height="5" fill="#a11096"/>
<rect x="358" y="333" width="6" height="5" fill="#ab174f"/>
<rect x="364" y="333" width="6" height="5" fill="#bd2a00"/>
<rect x="370" y="333" width="19" height="5" fill="#c63700"/>
<rect x="389" y="333" width="6" height="5" fill="#bd2a00"/>
<rect x="395" y="333" width="6" height="5" fill="#c63700"/>
<rect x="401" y="333" width="6" height="5" fill="#d55700"/>
<rect x="407" y="333" width="6" height="5" fill="#bd2a00"/>
<rect x="413" y="333" width="7" height="5" fill="#b42000"/>
<rect x="420" y="333" width="6" height="5" fill="#a11096"/>
<rect x="426" y="333" width="12" height="5" fill="#990cc4"/>
<rect x="438" y="333" width="19" height="5" fill="#7803fa"/>
<rect x="457" y="333" width="6" height="5" fill="#7202f3"/>
<rect x="463" y="333" width="13" height="5" fill="#6c01e7"/>
<rect x="476" y="333" width="6" height="5" fill="#6601d7"/>
<rect x="482" y="333" width="31" height="5" fill="#6c01e7"/>
<rect x="513" y="333" width="6" height="5" fill="#7803fa"/>
<rect x="519" y="333" width="5" height="5" fill="#8706fa"/>
<rect x="75" y="338" width="3" height="5" fill="#7803fa"/>
<rect x="78" y="338" width="6" height="5" fill="#6601d7"/>
<rect x="84" y="338" width="6" height="5" fill="#6c01e7"/>
<rect x="90" y="338" width="7" height="5" fill="#8004ff"/>
<rect x="97" y="338" width="6" height="5" fill="#990cc4"/>
<rect x="103" y="338" width="6" height="5" fill="#b42000"/>
<rect x="109" y="338" width="6" height="5" fill="#ab174f"/>
<rect x="115" y="338" width="6" height="5" fill="#bd2a00"/>
<rect x="121" y="338" width="7" height="5" fill="#f9db00"/>
<rect x="128" y="338" width="6" height="5" fill="#f2ba00"/>
<rect x="134" y="338" width="19" height="5" fill="#eb9d00"/>
<rect x="153" y="338" width="12" height="5" fill="#c63700"/>
<rect x="165" y="338" width="6" height="5" fill="#990cc4"/>
<rect x="171" y="338" width="31" height="5" fill="#8004ff"/>
<rect x="202" y="338" width="6" height="5" fill="#7803fa"/>
<rect x="208" y="338" width="13" height="5" fill="#7202f3"/>
<rect x="221" y="338" width="25" height="5" fill="#6601d7"/>
<rect x="246" y="338" width="6" height="5" fill="#7202f3"/>
<rect x="252" y="338" width="6" height="5" fill="#a11096"/>
<rect x="258" y="338" width="6" height="5" fill="#dd6c00"/>
<rect x="264" y="338" width="7" height="5" fill="#ce4600"/>
<rect x="271" y="338" width="6" height="5" fill="#c63700"/>
<rect x="277" y="338" width="12" height="5" fill="#ab174f"/>
<rect x="289" y="338" width="6" height="5" fill="#bd2a00"/>
<rect x="295" y="338" width="7" height="5" fill="#b42000"/>
<rect x="302" y="338" width="6" height="5" fill="#ab174f"/>
<rect x="308" y="338" width="6" height="5" fill="#a11096"/>
<rect x="314" y="338" width="25" height="5" fill="#990cc4"/>
<rect x="339" y="338" width="12" height="5" fill="#a11096"/>
<rect x="351" y="338" width="7" height="5" fill="#ab174f"/>
<rect x="358" y="338" width="6" height="5" fill="#bd2a00"/>
<rect x="364" y="338" width="6" height="5" fill="#b42000"/>
<rect x="370" y="338" width="6" height="5" fill="#ab174f"/>
<rect x="376" y="338" width="6" height="5" fill="#b42000"/>
<rect x="382" y="338" width="19" height="5" fill="#a11096"/>
<rect x="401" y="338" width="6" height="5" fill="#bd2a00"/>
<rect x="407" y="338" width="6" height="5" fill="#b42000"/>
<rect x="413" y="338" width="7" height="5" fill="#8004ff"/>
<rect x="420" y="338" width="18" height="5" fill="#7803fa"/>
<rect x="438" y="338" width="6" height="5" fill="#7202f3"/>
<rect x="444" y="338" width="13" height="5" fill="#6c01e7"/>
<rect x="457" y="338" width="25" height="5" fill="#6601d7"/>
<rect x="482" y="338" width="37" height="5" fill="#6c01e7"/>
<rect x="519" y="338" width="5" height="5" fill="#7202f3"/>
<rect x="75" y="343" width="9" height="5" fill="#7803fa"/>
<rect x="84" y="343" width="6" height="5" fill="#8004ff"/>
<rect x="90" y="343" width="7" height="5" fill="#990cc4"/>
<rect x="97" y="343" width="6" height="5" fill="#a11096"/>
<rect x="103" y="343" width="12" height="5" fill="#990cc4"/>
<rect x="115" y="343" width="6" height="5" fill="#c63700"/>
<rect x="121" y="343" width="7" height="5" fill="#e48300"/>
<rect x="128" y="343" width="6" height="5" fill="#dd6c00"/>
<rect x="134" y="343" width="6" height="5" fill="#d55700"/>
<rect x="140" y="343" width="13" height="5" fill="#ce4600"/>
<rect x="153" y="343" width="12" height="5" fill="#c63700"/>
<rect x="165" y="343" width="6" height="5" fill="#bd2a00"/>
<rect x="171" y="343" width="6" height="5" fill="#990cc4"/>
<rect x="177" y="343" width="7" height="5" fill="#8706fa"/>
<rect x="184" y="343" width="6" height="5" fill="#8004ff"/>
<rect x="190" y="343" width="12" height="5" fill="#7803fa"/>
<rect x="202" y="343" width="13" height="5" fill="#7202f3"/>
<rect x="215" y="343" width="12" height="5" fill="#6c01e7"/>
<rect x="227" y="343" width="19" height="5" fill="#7202f3"/>
<rect x="246" y="343" width="6" height="5" fill="#8004ff"/>
<rect x="252" y="343" width="6" height="5" fill="#bd2a00"/>
<rect x="258" y="343" width="6" height="5" fill="#c63700"/>
<rect x="264" y="343" width="13" height="5" fill="#b42000"/>
<rect x="277" y="343" width="6" height="5" fill="#ab174f"/>
<rect x="283" y="343" width="6" height="5" fill="#b42000"/>
<rect x="289" y="343" width="6" height="5" fill="#bd2a00"/>
<rect x="295" y="343" width="7" height="5" fill="#a11096"/>
<rect x="302" y="343" width="6" height="5" fill="#990cc4"/>
<rect x="308" y="343" width="6" height="5" fill="#8706fa"/>
<rect x="314" y="343" width="19" height="5" fill="#8004ff"/>
<rect x="333" y="343" width="6" height="5" fill="#8706fa"/>
<rect x="339" y="343" width="6" height="5" fill="#9008e7"/>
<rect x="345" y="343" width="31" height="5" fill="#990cc4"/>
<rect x="376" y="343" width="6" height="5" fill="#8706fa"/>
<rect x="382" y="343" width="19" height="5" fill="#8004ff"/>
<rect x="401" y="343" width="6" height="5" fill="#990cc4"/>
<rect x="407" y="343" width="6" height="5" fill="#9008e7"/>
<rect x="413" y="343" width="7" height="5" fill="#7202f3"/>
<rect x="420" y="343" width="31" height="5" fill="#6c01e7"/>
<rect x="451" y="343" width="62" height="5" fill="#6601d7"/>
<rect x="513" y="343" width="6" height="5" fill="#6c01e7"/>
<rect x="519" y="343" width="5" height="5" fill="#7202f3"/>
<rect x="75" y="348" width="3" height="5" fill="#8706fa"/>
<rect x="78" y="348" width="6" height="5" fill="#9008e7"/>
<rect x="84" y="348" width="6" height="5" fill="#8706fa"/>
<rect x="90" y="348" width="19" height="5" fill="#8004ff"/>
<rect x="109" y="348" width="6" height="5" fill="#8706fa"/>
<rect x="115" y="348" width="6" height="5" fill="#e48300"/>
<rect x="121" y="348" width="13" height="5" fill="#ce4600"/>
<rect x="134" y="348" width="6" height="5" fill="#c63700"/>
<rect x="140" y="348" width="13" height="5" fill="#bd2a00"/>
<rect x="153" y="348" width="6" height="5" fill="#ab174f"/>
<rect x="159" y="348" width="6" height="5" fill="#a11096"/>
<rect x="165" y="348" width="6" height="5" fill="#ab174f"/>
<rect x="171" y="348" width="6" height="5" fill="#a11096"/>
<rect x="177" y="348" width="7" height="5" fill="#6c01e7"/>
<rect x="190" y="348" width="6" height="5" fill="#5800af"/>
<rect x="196" y="348" width="12" height="5" fill="#6c01e7"/>
<rect x="208" y="348" width="7" height="5" fill="#6601d7"/>
<rect x="227" y="348" width="6" height="5" fill="#6c01e7"/>
<rect x="233" y="348" width="19" height="5" fill="#8004ff"/>
<rect x="252" y="348" width="6" height="5" fill="#a11096"/>
<rect x="258" y="348" width="6" height="5" fill="#990cc4"/>
<rect x="264" y="348" width="19" height="5" fill="#9008e7"/>
<rect x="283" y="348" width="6" height="5" fill="#bd2a00"/>
<rect x="289" y="348" width="6" height="5" fill="#e48300"/>
<rect x="295" y="348" width="7" height="5" fill="#ab174f"/>
<rect x="302" y="348" width="6" height="5" fill="#9008e7"/>
<rect x="308" y="348" width="6" height="5" fill="#7803fa"/>
<rect x="314" y="348" width="6" height="5" fill="#6c01e7"/>
<rect x="320" y="348" width="6" height="5" fill="#6601d7"/>
<rect x="326" y="348" width="19" height="5" fill="#6c01e7"/>
<rect x="345" y="348" width="6" height="5" fill="#7803fa"/>
<rect x="351" y="348" width="7" height="5" fill="#9008e7"/>
<rect x="358" y="348" width="6" height="5" fill="#8004ff"/>
<rect x="364" y="348" width="12" height="5" fill="#7803fa"/>
<rect x="376" y="348" width="6" height="5" fill="#6c01e7"/>
<rect x="382" y="348" width="13" height="5" fill="#6601d7"/>
<rect x="395" y="348" width="6" height="5" fill="#6c01e7"/>
<rect x="401" y="348" width="6" height="5" fill="#7803fa"/>
<rect x="407" y="348" width="6" height="5" fill="#6601d7"/>
<rect x="420" y="348" width="6" height="5" fill="#6c01e7"/>
<rect x="426" y="348" width="6" height="5" fill="#6601d7"/>
<rect x="438" y="348" width="6" height="5" fill="#6c01e7"/>
<rect x="444" y="348" width="7" height="5" fill="#8004ff"/>
<rect x="451" y="348" width="12" height="5" fill="#6c01e7"/>
<rect x="469" y="348" width="38" height="5" fill="#5800af"/>
<rect x="519" y="348" width="5" height="5" fill="#6c01e7"/>
<rect x="75" y="353" width="3" height="5" fill="#990cc4"/>
<rect x="78" y="353" width="6" height="5" fill="#9008e7"/>
<rect x="84" y="353" width="6" height="5" fill="#7202f3"/>
<rect x="97" y="353" width="6" height="5" fill="#6601d7"/>
<rect x="103" y="353" width="6" height="5" fill="#7803fa"/>
<rect x="109" y="353" width="6" height="5" fill="#9008e7"/>
<rect x="115" y="353" width="6" height="5" fill="#e48300"/>
<rect x="121" y="353" width="7" height="5" fill="#bd2a00"/>
<rect x="128" y="353" width="6" height="5" fill="#b42000"/>
<rect x="134" y="353" width="12" height="5" fill="#a11096"/>
<rect x="146" y="353" width="7" height="5" fill="#990cc4"/>
<rect x="153" y="353" width="6" height="5" fill="#9008e7"/>
<rect x="159" y="353" width="12" height="5" fill="#8706fa"/>
<rect x="171" y="353" width="6" height="5" fill="#8004ff"/>
<rect x="177" y="353" width="7" height="5" fill="#6c01e7"/>
<rect x="202" y="353" width="6" height="5" fill="#6601d7"/>
<rect x="215" y="353" width="12" height="5" fill="#6c01e7"/>
<rect x="227" y="353" width="6" height="5" fill="#990cc4"/>
<rect x="233" y="353" width="6" height="5" fill="#7803fa"/>
<rect x="239" y="353" width="13" height="5" fill="#6c01e7"/>
<rect x="252" y="353" width="6" height="5" fill="#7803fa"/>
<rect x="258" y="353" width="13" height="5" fill="#6c01e7"/>
<rect x="271" y="353" width="6" height="5" fill="#7803fa"/>
<rect x="277" y="353" width="6" height="5" fill="#9008e7"/>
<rect x="283" y="353" width="6" height="5" fill="#bd2a00"/>
<rect x="289" y="353" width="6" height="5" fill="#eb9d00"/>
<rect x="295" y="353" width="7" height="5" fill="#a11096"/>
<rect x="302" y="353" width="6" height="5" fill="#9008e7"/>
<rect x="308" y="353" width="6" height="5" fill="#7803fa"/>
<rect x="314" y="353" width="12" height="5" fill="#6601d7"/>
<rect x="339" y="353" width="12" height="5" fill="#6601d7"/>
<rect x="351" y="353" width="7" height="5" fill="#6c01e7"/>
<rect x="364" y="353" width="12" height="5" fill="#6601d7"/>
<rect x="382" y="353" width="7" height="5" fill="#6601d7"/>
<rect x="395" y="353" width="6" height="5" fill="#6601d7"/>
<rect x="407" y="353" width="6" height="5" fill="#5800af"/>
<rect x="420" y="353" width="6" height="5" fill="#6c01e7"/>
<rect x="426" y="353" width="6" height="5" fill="#6601d7"/>
<rect x="432" y="353" width="6" height="5" fill="#6c01e7"/>
<rect x="438" y="353" width="6" height="5" fill="#8004ff"/>
<rect x="444" y="353" width="7" height="5" fill="#990cc4"/>
<rect x="451" y="353" width="6" height="5" fill="#7803fa"/>
<rect x="457" y="353" width="12" height="5" fill="#6c01e7"/>
<rect x="469" y="353" width="7" height="5" fill="#6601d7"/>
<rect x="482" y="353" width="31" height="5" fill="#6601d7"/>
<rect x="513" y="353" width="6" height="5" fill="#6c01e7"/>
<rect x="519" y="353" width="5" height="5" fill="#8706fa"/>
<rect x="75" y="358" width="3" height="6" fill="#a11096"/>
<rect x="78" y="358" width="6" height="6" fill="#8706fa"/>
<rect x="84" y="358" width="6" height="6" fill="#6c01e7"/>
<rect x="90" y="358" width="7" height="6" fill="#7803fa"/>
<rect x="97" y="358" width="6" height="6" fill="#8004ff"/>
<rect x="103" y="358" width="6" height="6" fill="#9008e7"/>
<rect x="109" y="358" width="6" height="6" fill="#ab174f"/>
<rect x="115" y="358" width="6" height="6" fill="#c63700"/>
<rect x="121" y="358" width="7" height="6" fill="#a11096"/>
<rect x="128" y="358" width="6" height="6" fill="#9008e7"/>
<rect x="134" y="358" width="6" height="6" fill="#8706fa"/>
<rect x="140" y="358" width="13" height="6" fill="#8004ff"/>
<rect x="153" y="358" width="6" height="6" fill="#7202f3"/>
<rect x="159" y="358" width="18" height="6" fill="#6c01e7"/>
<rect x="177" y="358" width="7" height="6" fill="#7803fa"/>
<rect x="196" y="358" width="19" height="6" fill="#5800af"/>
<rect x="215" y="358" width="18" height="6" fill="#6601d7"/>
<rect x="239" y="358" width="7" height="6" fill="#5800af"/>
<rect x="258" y="358" width="6" height="6" fill="#6601d7"/>
<rect x="264" y="358" width="7" height="6" fill="#6c01e7"/>
<rect x="271" y="358" width="6" height="6" fill="#7803fa"/>
<rect x="277" y="358" width="6" height="6" fill="#990cc4"/>
<rect x="283" y="358" width="6" height="6" fill="#f2ba00"/>
<rect x="289" y="358" width="13" height="6" fill="#f9db00"/>
<rect x="302" y="358" width="6" height="6" fill="#990cc4"/>
<rect x="308" y="358" width="6" height="6" fill="#8004ff"/>
<rect x="314" y="358" width="6" height="6" fill="#6c01e7"/>
<rect x="320" y="358" width="6" height="6" fill="#6601d7"/>
<rect x="339" y="358" width="6" height="6" fill="#6c01e7"/>
<rect x="345" y="358" width="6" height="6" fill="#6601d7"/>
<rect x="351" y="358" width="7" height="6" fill="#5800af"/>
<rect x="364" y="358" width="6" height="6" fill="#6601d7"/>
<rect x="370" y="358" width="6" height="6" fill="#5800af"/>
<rect x="395" y="358" width="6" height="6" fill="#6601d7"/>
<rect x="426" y="358" width="6" height="6" fill="#6601d7"/>
<rect x="432" y="358" width="6" height="6" fill="#6c01e7"/>
<rect x="438" y="358" width="19" height="6" fill="#7803fa"/>
<rect x="457" y="358" width="6" height="6" fill="#6c01e7"/>
<rect x="463" y="358" width="6" height="6" fill="#7803fa"/>
<rect x="469" y="358" width="7" height="6" fill="#8004ff"/>
<rect x="476" y="358" width="24" height="6" fill="#6601d7"/>
<rect x="500" y="358" width="13" height="6" fill="#7803fa"/>
<rect x="513" y="358" width="11" height="6" fill="#a11096"/>
<rect x="75" y="364" width="3" height="5" fill="#c63700"/>
<rect x="78" y="364" width="12" height="5" fill="#9008e7"/>
<rect x="90" y="364" width="7" height="5" fill="#990cc4"/>
<rect x="97" y="364" width="6" height="5" fill="#a11096"/>
<rect x="103" y="364" width="6" height="5" fill="#990cc4"/>
<rect x="109" y="364" width="6" height="5" fill="#bd2a00"/>
<rect x="115" y="364" width="6" height="5" fill="#b42000"/>
<rect x="121" y="364" width="7" height="5" fill="#9008e7"/>
<rect x="128" y="364" width="6" height="5" fill="#7803fa"/>
<rect x="134" y="364" width="12" height="5" fill="#6c01e7"/>
<rect x="146" y="364" width="31" height="5" fill="#6601d7"/>
<rect x="177" y="364" width="7" height="5" fill="#6c01e7"/>
<rect x="196" y="364" width="6" height="5" fill="#5800af"/>
<rect x="208" y="364" width="25" height="5" fill="#5800af"/>
<rect x="239" y="364" width="13" height="5" fill="#6601d7"/>
<rect x="258" y="364" width="6" height="5" fill="#6601d7"/>
<rect x="264" y="364" width="7" height="5" fill="#6c01e7"/>
<rect x="271" y="364" width="6" height="5" fill="#7803fa"/>
<rect x="277" y="364" width="6" height="5" fill="#990cc4"/>
<rect x="283" y="364" width="19" height="5" fill="#eb9d00"/>
<rect x="302" y="364" width="6" height="5" fill="#d55700"/>
<rect x="308" y="364" width="6" height="5" fill="#8706fa"/>
<rect x="314" y="364" width="6" height="5" fill="#6c01e7"/>
<rect x="358" y="364" width="18" height="5" fill="#5800af"/>
<rect x="395" y="364" width="6" height="5" fill="#6601d7"/>
<rect x="420" y="364" width="6" height="5" fill="#6601d7"/>
<rect x="457" y="364" width="6" height="5" fill="#6601d7"/>
<rect x="463" y="364" width="13" height="5" fill="#7803fa"/>
<rect x="476" y="364" width="6" height="5" fill="#6601d7"/>
<rect x="482" y="364" width="6" height="5" fill="#5800af"/>
<rect x="494" y="364" width="6" height="5" fill="#6601d7"/>
<rect x="500" y="364" width="13" height="5" fill="#6c01e7"/>
<rect x="513" y="364" width="6" height="5" fill="#8706fa"/>
<rect x="519" y="364" width="5" height="5" fill="#a11096"/>
<rect x="75" y="369" width="3" height="5" fill="#ce4600"/>
<rect x="78" y="369" width="6" height="5" fill="#bd2a00"/>
<rect x="84" y="369" width="19" height="5" fill="#990cc4"/>
<rect x="103" y="369" width="6" height="5" fill="#ab174f"/>
<rect x="109" y="369" width="6" height="5" fill="#a11096"/>
<rect x="115" y="369" width="6" height="5" fill="#9008e7"/>
<rect x="121" y="369" width="7" height="5" fill="#8004ff"/>
<rect x="128" y="369" width="6" height="5" fill="#6c01e7"/>
<rect x="134" y="369" width="12" height="5" fill="#6601d7"/>
<rect x="153" y="369" width="18" height="5" fill="#6601d7"/>
<rect x="190" y="369" width="6" height="5" fill="#5800af"/>
<rect x="239" y="369" width="32" height="5" fill="#6601d7"/>
<rect x="271" y="369" width="6" height="5" fill="#7803fa"/>
<rect x="277" y="369" width="6" height="5" fill="#a11096"/>
<rect x="283" y="369" width="25" height="5" fill="#d55700"/>
<rect x="308" y="369" width="6" height="5" fill="#990cc4"/>
<rect x="314" y="369" width="6" height="5" fill="#6c01e7"/>
<rect x="351" y="369" width="7" height="5" fill="#6c01e7"/>
<rect x="358" y="369" width="6" height="5" fill="#6601d7"/>
<rect x="376" y="369" width="6" height="5" fill="#5800af"/>
<rect x="389" y="369" width="6" height="5" fill="#5800af"/>
<rect x="395" y="369" width="6" height="5" fill="#6601d7"/>
<rect x="407" y="369" width="6" height="5" fill="#5800af"/>
<rect x="432" y="369" width="6" height="5" fill="#5800af"/>
<rect x="457" y="369" width="6" height="5" fill="#6c01e7"/>
<rect x="463" y="369" width="6" height="5" fill="#8706fa"/>
<rect x="469" y="369" width="7" height="5" fill="#6601d7"/>
<rect x="488" y="369" width="12" height="5" fill="#6601d7"/>
<rect x="513" y="369" width="6" height="5" fill="#6c01e7"/>
<rect x="519" y="369" width="5" height="5" fill="#a11096"/>
<rect x="75" y="374" width="3" height="5" fill="#ab174f"/>
<rect x="78" y="374" width="6" height="5" fill="#990cc4"/>
<rect x="84" y="374" width="6" height="5" fill="#a11096"/>
<rect x="90" y="374" width="7" height="5" fill="#990cc4"/>
<rect x="97" y="374" width="12" height="5" fill="#9008e7"/>
<rect x="109" y="374" width="6" height="5" fill="#8706fa"/>
<rect x="115" y="374" width="6" height="5" fill="#7803fa"/>
<rect x="121" y="374" width="13" height="5" fill="#6c01e7"/>
<rect x="140" y="374" width="6" height="5" fill="#6601d7"/>
<rect x="153" y="374" width="18" height="5" fill="#6601d7"/>
<rect x="196" y="374" width="6" height="5" fill="#5800af"/>
<rect x="227" y="374" width="25" height="5" fill="#5800af"/>
<rect x="264" y="374" width="7" height="5" fill="#6601d7"/>
<rect x="271" y="374" width="6" height="5" fill="#7803fa"/>
<rect x="277" y="374" width="6" height="5" fill="#990cc4"/>
<rect x="283" y="374" width="6" height="5" fill="#c63700"/>
<rect x="289" y="374" width="19" height="5" fill="#bd2a00"/>
<rect x="308" y="374" width="6" height="5" fill="#8004ff"/>
<rect x="314" y="374" width="6" height="5" fill="#6601d7"/>
<rect x="326" y="374" width="13" height="5" fill="#5800af"/>
<rect x="351" y="374" width="7" height="5" fill="#6601d7"/>
<rect x="382" y="374" width="13" height="5" fill="#5800af"/>
<rect x="407" y="374" width="25" height="5" fill="#5800af"/>
<rect x="451" y="374" width="18" height="5" fill="#6601d7"/>
<rect x="507" y="374" width="6" height="5" fill="#5800af"/>
<rect x="519" y="374" width="5" height="5" fill="#7803fa"/>
<rect x="75" y="379" width="22" height="5" fill="#8004ff"/>
<rect x="97" y="379" width="6" height="5" fill="#7202f3"/>
<rect x="103" y="379" width="6" height="5" fill="#7803fa"/>
<rect x="109" y="379" width="6" height="5" fill="#8004ff"/>
<rect x="115" y="379" width="6" height="5" fill="#6c01e7"/>
<rect x="121" y="379" width="13" height="5" fill="#6601d7"/>
<rect x="134" y="379" width="6" height="5" fill="#6c01e7"/>
<rect x="146" y="379" width="13" height="5" fill="#6601d7"/>
<rect x="165" y="379" width="6" height="5" fill="#6601d7"/>
<rect x="177" y="379" width="7" height="5" fill="#6601d7"/>
<rect x="233" y="379" width="13" height="5" fill="#6c01e7"/>
<rect x="246" y="379" width="25" height="5" fill="#6601d7"/>
<rect x="271" y="379" width="6" height="5" fill="#7202f3"/>
<rect x="277" y="379" width="6" height="5" fill="#8004ff"/>
<rect x="283" y="379" width="6" height="5" fill="#a11096"/>
<rect x="289" y="379" width="6" height="5" fill="#990cc4"/>
<rect x="295" y="379" width="7" height="5" fill="#8706fa"/>
<rect x="302" y="379" width="6" height="5" fill="#8004ff"/>
<rect x="308" y="379" width="6" height="5" fill="#6c01e7"/>
<rect x="314" y="379" width="6" height="5" fill="#6601d7"/>
<rect x="376" y="379" width="19" height="5" fill="#6601d7"/>
<rect x="413" y="379" width="13" height="5" fill="#6601d7"/>
<rect x="426" y="379" width="6" height="5" fill="#6c01e7"/>
<rect x="432" y="379" width="6" height="5" fill="#6601d7"/>
<rect x="451" y="379" width="6" height="5" fill="#5800af"/>
<rect x="463" y="379" width="13" height="5" fill="#5800af"/>
<rect x="482" y="379" width="6" height="5" fill="#5800af"/>
<rect x="75" y="384" width="3" height="5" fill="#6601d7"/>
<rect x="103" y="384" width="6" height="5" fill="#7202f3"/>
<rect x="109" y="384" width="12" height="5" fill="#6601d7"/>
<rect x="128" y="384" width="6" height="5" fill="#6c01e7"/>
<rect x="134" y="384" width="6" height="5" fill="#6601d7"/>
<rect x="171" y="384" width="31" height="5" fill="#5800af"/>
<rect x="215" y="384" width="6" height="5" fill="#5800af"/>
<rect x="227" y="384" width="6" height="5" fill="#6601d7"/>
<rect x="233" y="384" width="13" height="5" fill="#6c01e7"/>
<rect x="246" y="384" width="12" height="5" fill="#6601d7"/>
<rect x="264" y="384" width="7" height="5" fill="#5800af"/>
<rect x="271" y="384" width="6" height="5" fill="#6c01e7"/>
<rect x="277" y="384" width="18" height="5" fill="#7202f3"/>
<rect x="295" y="384" width="13" height="5" fill="#6c01e7"/>
<rect x="308" y="384" width="6" height="5" fill="#6601d7"/>
<rect x="339" y="384" width="6" height="5" fill="#6c01e7"/>
<rect x="351" y="384" width="7" height="5" fill="#5800af"/>
<rect x="389" y="384" width="6" height="5" fill="#5800af"/>
<rect x="413" y="384" width="13" height="5" fill="#6c01e7"/>
<rect x="426" y="384" width="12" height="5" fill="#6601d7"/>
<rect x="469" y="384" width="13" height="5" fill="#6601d7"/>
<rect x="494" y="384" width="6" height="5" fill="#6601d7"/>
<rect x="75" y="389" width="3" height="5" fill="#6c01e7"/>
<rect x="78" y="389" width="12" height="5" fill="#6601d7"/>
<rect x="97" y="389" width="6" height="5" fill="#6601d7"/>
<rect x="171" y="389" width="31" height="5" fill="#5800af"/>
<rect x="215" y="389" width="6" height="5" fill="#6601d7"/>
<rect x="227" y="389" width="6" height="5" fill="#5800af"/>
<rect x="233" y="389" width="13" height="5" fill="#6c01e7"/>
<rect x="246" y="389" width="12" height="5" fill="#6601d7"/>
<rect x="271" y="389" width="12" height="5" fill="#7202f3"/>
<rect x="289" y="389" width="13" height="5" fill="#6601d7"/>
<rect x="308" y="389" width="31" height="5" fill="#6601d7"/>
<rect x="339" y="389" width="6" height="5" fill="#6c01e7"/>
<rect x="364" y="389" width="6" height="5" fill="#5800af"/>
<rect x="376" y="389" width="13" height="5" fill="#6601d7"/>
<rect x="389" y="389" width="6" height="5" fill="#6c01e7"/>
<rect x="395" y="389" width="6" height="5" fill="#7803fa"/>
<rect x="401" y="389" width="6" height="5" fill="#6c01e7"/>
<rect x="407" y="389" width="25" height="5" fill="#6601d7"/>
<rect x="432" y="389" width="12" height="5" fill="#6c01e7"/>
<rect x="444" y="389" width="25" height="5" fill="#6601d7"/>
<rect x="513" y="389" width="6" height="5" fill="#5800af"/>
<rect x="75" y="394" width="3" height="6" fill="#7202f3"/>
<rect x="78" y="394" width="6" height="6" fill="#6c01e7"/>
<rect x="84" y="394" width="6" height="6" fill="#6601d7"/>
<rect x="90" y="394" width="7" height="6" fill="#6c01e7"/>
<rect x="103" y="394" width="6" height="6" fill="#6c01e7"/>
<rect x="128" y="394" width="12" height="6" fill="#6601d7"/>
<rect x="171" y="394" width="56" height="6" fill="#5800af"/>
<rect x="239" y="394" width="19" height="6" fill="#5800af"/>
<rect x="271" y="394" width="18" height="6" fill="#7803fa"/>
<rect x="289" y="394" width="6" height="6" fill="#7202f3"/>
<rect x="295" y="394" width="50" height="6" fill="#6601d7"/>
<rect x="345" y="394" width="13" height="6" fill="#5800af"/>
<rect x="376" y="394" width="13" height="6" fill="#5800af"/>
<rect x="395" y="394" width="6" height="6" fill="#6c01e7"/>
<rect x="407" y="394" width="13" height="6" fill="#5800af"/>
<rect x="432" y="394" width="37" height="6" fill="#6601d7"/>
<rect x="507" y="394" width="12" height="6" fill="#5800af"/>
<rect x="75" y="400" width="9" height="5" fill="#6c01e7"/>
<rect x="84" y="400" width="19" height="5" fill="#6601d7"/>
<rect x="109" y="400" width="12" height="5" fill="#6601d7"/>
<rect x="128" y="400" width="6" height="5" fill="#6601d7"/>
<rect x="146" y="400" width="7" height="5" fill="#6601d7"/>
<rect x="153" y="400" width="12" height="5" fill="#6c01e7"/>
<rect x="171" y="400" width="19" height="5" fill="#5800af"/>
<rect x="233" y="400" width="6" height="5" fill="#5800af"/>
<rect x="258" y="400" width="6" height="5" fill="#6601d7"/>
<rect x="264" y="400" width="7" height="5" fill="#6c01e7"/>
<rect x="271" y="400" width="12" height="5" fill="#8004ff"/>
<rect x="283" y="400" width="6" height="5" fill="#7803fa"/>
<rect x="289" y="400" width="6" height="5" fill="#6c01e7"/>
<rect x="295" y="400" width="13" height="5" fill="#6601d7"/>
<rect x="320" y="400" width="6" height="5" fill="#5800af"/>
<rect x="326" y="400" width="19" height="5" fill="#6601d7"/>
<rect x="351" y="400" width="13" height="5" fill="#6601d7"/>
<rect x="370" y="400" width="19" height="5" fill="#6601d7"/>
<rect x="395" y="400" width="6" height="5" fill="#5800af"/>
<rect x="420" y="400" width="6" height="5" fill="#5800af"/>
<rect x="444" y="400" width="7" height="5" fill="#5800af"/>
<rect x="469" y="400" width="50" height="5" fill="#5800af"/>
<rect x="75" y="405" width="40" height="5" fill="#6601d7"/>
<rect x="115" y="405" width="6" height="5" fill="#6c01e7"/>
<rect x="153" y="405" width="12" height="5" fill="#6c01e7"/>
<rect x="171" y="405" width="13" height="5" fill="#5800af"/>
<rect x="190" y="405" width="31" height="5" fill="#5800af"/>
<rect x="264" y="405" width="7" height="5" fill="#6601d7"/>
<rect x="271" y="405" width="12" height="5" fill="#7803fa"/>
<rect x="283" y="405" width="6" height="5" fill="#7202f3"/>
<rect x="289" y="405" width="13" height="5" fill="#6601d7"/>
<rect x="314" y="405" width="75" height="5" fill="#6c01e7"/>
<rect x="401" y="405" width="6" height="5" fill="#7803fa"/>
<rect x="407" y="405" width="6" height="5" fill="#8004ff"/>
<rect x="413" y="405" width="7" height="5" fill="#6c01e7"/>
<rect x="420" y="405" width="6" height="5" fill="#6601d7"/>
<rect x="432" y="405" width="12" height="5" fill="#5800af"/>
<rect x="457" y="405" width="6" height="5" fill="#5800af"/>
<rect x="488" y="405" width="6" height="5" fill="#6601d7"/>
<rect x="500" y="405" width="13" height="5" fill="#5800af"/>
<rect x="121" y="410" width="150" height="5" fill="#5800af"/>
<rect x="277" y="410" width="6" height="5" fill="#6601d7"/>
<rect x="289" y="410" width="6" height="5" fill="#6601d7"/>
<rect x="295" y="410" width="7" height="5" fill="#7202f3"/>
<rect x="302" y="410" width="6" height="5" fill="#8004ff"/>
<rect x="308" y="410" width="6" height="5" fill="#8706fa"/>
<rect x="314" y="410" width="6" height="5" fill="#9008e7"/>
<rect x="320" y="410" width="6" height="5" fill="#a11096"/>
<rect x="326" y="410" width="7" height="5" fill="#7803fa"/>
<rect x="333" y="410" width="12" height="5" fill="#7202f3"/>
<rect x="345" y="410" width="6" height="5" fill="#8004ff"/>
<rect x="351" y="410" width="13" height="5" fill="#990cc4"/>
<rect x="364" y="410" width="18" height="5" fill="#a11096"/>
<rect x="382" y="410" width="7" height="5" fill="#6c01e7"/>
<rect x="401" y="410" width="6" height="5" fill="#8004ff"/>
<rect x="407" y="410" width="6" height="5" fill="#b42000"/>
<rect x="413" y="410" width="7" height="5" fill="#a11096"/>
<rect x="420" y="410" width="6" height="5" fill="#8004ff"/>
<rect x="426" y="410" width="6" height="5" fill="#6c01e7"/>
<rect x="432" y="410" width="37" height="5" fill="#6601d7"/>
<rect x="488" y="410" width="6" height="5" fill="#5800af"/>
<rect x="500" y="410" width="7" height="5" fill="#6601d7"/>
<rect x="75" y="415" width="3" height="4" fill="#6c01e7"/>
<rect x="78" y="415" width="6" height="4" fill="#6601d7"/>
<rect x="84" y="415" width="6" height="4" fill="#6c01e7"/>
<rect x="90" y="415" width="19" height="4" fill="#7202f3"/>
<rect x="109" y="415" width="6" height="4" fill="#6601d7"/>
<rect x="115" y="415" width="13" height="4" fill="#6c01e7"/>
<rect x="128" y="415" width="43" height="4" fill="#7202f3"/>
<rect x="171" y="415" width="87" height="4" fill="#6c01e7"/>
<rect x="258" y="415" width="19" height="4" fill="#6601d7"/>
<rect x="277" y="415" width="12" height="4" fill="#6c01e7"/>
<rect x="289" y="415" width="6" height="4" fill="#7202f3"/>
<rect x="295" y="415" width="7" height="4" fill="#8004ff"/>
<rect x="302" y="415" width="6" height="4" fill="#a11096"/>
<rect x="308" y="415" width="6" height="4" fill="#ab174f"/>
<rect x="314" y="415" width="6" height="4" fill="#bd2a00"/>
<rect x="320" y="415" width="6" height="4" fill="#8004ff"/>
<rect x="326" y="415" width="13" height="4" fill="#7803fa"/>
<rect x="339" y="415" width="6" height="4" fill="#8706fa"/>
<rect x="345" y="415" width="13" height="4" fill="#c63700"/>
<rect x="358" y="415" width="6" height="4" fill="#bd2a00"/>
<rect x="364" y="415" width="18" height="4" fill="#c63700"/>
<rect x="382" y="415" width="7" height="4" fill="#7803fa"/>
<rect x="389" y="415" width="6" height="4" fill="#7202f3"/>
<rect x="395" y="415" width="6" height="4" fill="#7803fa"/>
<rect x="401" y="415" width="6" height="4" fill="#a11096"/>
<rect x="407" y="415" width="6" height="4" fill="#c63700"/>
<rect x="413" y="415" width="7" height="4" fill="#bd2a00"/>
<rect x="420" y="415" width="6" height="4" fill="#a11096"/>
<rect x="426" y="415" width="6" height="4" fill="#7803fa"/>
<rect x="432" y="415" width="12" height="4" fill="#7202f3"/>
<rect x="444" y="415" width="13" height="4" fill="#6c01e7"/>
<rect x="457" y="415" width="25" height="4" fill="#7202f3"/>
<rect x="482" y="415" width="6" height="4" fill="#7803fa"/>
<rect x="488" y="415" width="6" height="4" fill="#8004ff"/>
<rect x="494" y="415" width="6" height="4" fill="#8706fa"/>
<rect x="500" y="415" width="7" height="4" fill="#9008e7"/>
<rect x="507" y="415" width="12" height="4" fill="#8706fa"/>
<rect x="519" y="415" width="5" height="4" fill="#8004ff"/>
</g>
<g class="coast" transform="translate(0.5,0.5)">
<polyline points="76.2,96.7 78.5,98.2 81.7,99.8 85.9,101.1 84.0,104.5 80.9,104.2 77.8,103.2 75.0,104.2"/>
<polyline points="171.5,96.4 168.4,97.9 165.2,100.6 159.0,99.0 152.8,96.4 146.5,95.4 141.8,94.8 139.0,93.1 136.3,94.3 133.2,95.1 128.5,95.9 123.1,94.8 116.8,93.1 110.6,92.5 103.5,92.0 99.6,93.6 94.9,95.4 91.8,97.0 93.4,99.0 98.1,100.6 94.9,101.4 89.9,102.9 93.4,103.7 98.8,104.8 94.9,107.6 93.8,110.8 94.9,114.7 97.3,117.0 102.0,118.6 99.6,121.7 97.0,124.8"/>
<polyline points="102.0,118.6 105.1,117.0 108.2,114.7 112.9,113.6 116.8,113.9 123.1,114.3 127.8,116.2 131.7,117.8 134.0,120.1 136.3,124.0 140.2,127.9 141.8,129.5"/>
<polyline points="109.0,115.4 108.2,118.6 109.8,120.1"/>
<polyline points="125.4,115.4 130.1,117.0 134.0,119.3 135.6,123.2"/>
<polyline points="89.5,127.9 91.0,126.7"/>
<polyline points="148.1,80.8 152.0,79.5 155.1,78.7 152.8,80.3 148.8,81.1"/>
<polyline points="159.0,77.9 162.9,77.2"/>
<polyline points="155.1,81.8 159.0,81.1 163.7,80.3 166.8,83.4 162.1,84.2 157.4,83.9 155.1,81.8"/>
<polyline points="145.7,85.8 148.1,85.0 150.4,86.5 151.2,88.9 148.1,89.7 146.2,91.7 145.7,85.8"/>
<polyline points="151.2,88.9 156.7,89.2 162.1,88.6 165.2,88.1 167.1,90.1 169.9,93.6 166.8,91.2 165.2,88.1"/>
<polyline points="154.3,90.4 156.7,95.1 160.6,96.7 165.2,95.9 170.7,95.4"/>
<polyline points="144.5,101.1 148.1,101.4 152.8,100.6 150.4,103.7 145.7,104.2 144.5,101.1"/>
<polyline points="148.8,105.8 152.8,108.4 156.7,110.0 162.1,109.2 159.8,111.5 155.1,112.0 151.2,112.0"/>
<polyline points="159.0,117.8 162.1,117.0 165.2,116.7 168.4,117.8 171.5,118.6"/>
<polyline points="168.4,74.8 169.9,76.4 171.5,77.2"/>
<polyline points="211.1,79.5 213.5,77.2 217.4,74.0 220.5,70.9 225.2,69.3 233.0,68.9 242.4,68.6 250.2,66.2 258.0,65.8 265.8,66.7 269.7,67.8 267.4,69.3 268.2,71.7"/>
<polyline points="270.5,93.6 265.8,96.4 261.1,96.7 256.4,99.0 254.9,101.4 250.2,102.9 247.1,107.6 245.5,111.5 243.9,114.7 239.2,112.3 236.9,108.4 234.6,102.9 232.2,100.6 233.8,96.7 234.6,92.8 230.7,90.4 229.9,86.5 226.8,83.4 222.1,81.4 217.4,80.8 212.7,81.1 211.1,79.5"/>
<polyline points="267.4,86.5 270.5,85.8"/>
<polyline points="270.5,90.8 265.0,92.0 268.2,90.4 265.8,93.6 270.5,94.3"/>
<polyline points="186.9,70.6 190.8,68.9 197.1,68.2 204.1,66.7 212.7,66.7 218.9,68.6 220.5,70.9 215.8,72.0 211.1,74.0 206.4,76.4 201.8,77.9 198.6,80.3 193.9,81.4 189.2,82.3 186.1,82.9 183.0,81.4 187.7,80.3 192.4,77.9 195.5,76.4 191.6,74.8 197.1,73.2 204.1,72.5 200.2,70.9 193.9,70.6 186.9,70.6"/>
<polyline points="185.3,107.6 179.9,105.8 183.0,106.1 186.1,104.5 190.8,101.4 194.7,99.0 197.1,95.4 193.9,94.3 191.6,92.0 193.2,89.7 193.9,85.8 190.0,88.1 187.7,92.0 189.2,94.3 193.9,95.4"/>
<polyline points="193.9,87.6 200.2,88.1 206.4,89.2 211.1,92.0 215.8,95.4 219.7,99.0 220.5,102.9 217.4,104.5 215.0,102.6 217.4,106.8 213.5,109.5 209.6,108.4 205.7,106.1 202.5,105.8 208.0,102.9 211.9,100.6 208.8,99.0 204.1,95.9 200.2,94.3 196.3,95.4"/>
<polyline points="170.5,76.4 173.6,77.9 176.8,80.3 176.0,82.6 173.6,82.9 174.4,80.3"/>
<polyline points="172.1,88.1 175.2,86.2 177.5,89.7 176.0,91.2 172.1,88.1"/>
<polyline points="180.7,88.1 183.8,85.8 184.6,88.1 180.7,88.1"/>
<polyline points="179.1,92.0 183.0,92.8 181.4,96.7 179.9,100.6 176.0,99.0 172.1,97.9 170.5,99.0"/>
<polyline points="170.5,93.6 172.8,95.4 170.5,96.4"/>
<polyline points="177.5,77.2 179.1,78.7"/>
<polyline points="180.7,79.5 182.2,81.8"/>
<polyline points="185.3,107.6 183.0,111.5 180.7,116.2 179.9,119.3 183.8,121.7 189.2,122.5 192.4,124.0 195.5,127.9 197.1,129.5"/>
<polyline points="193.2,102.9 195.5,104.8 197.8,107.3 193.9,108.4 193.2,102.9"/>
<polyline points="202.5,129.5 202.5,123.2 202.5,117.0 201.8,111.5 205.7,111.1 210.3,112.6 213.5,116.2 217.4,115.4 220.5,117.8 222.8,121.7 225.2,125.6 227.5,128.7 229.1,129.5"/>
<polyline points="198.6,122.5 201.0,122.9"/>
<polyline points="196.3,109.2 199.4,110.0"/>
<polyline points="170.5,117.8 172.1,117.0 172.1,121.7 170.5,123.2 175.2,120.1 179.1,117.8"/>
<polyline points="269.5,71.7 274.2,70.9 282.0,70.6 278.1,72.5 275.0,75.6 275.8,78.7 272.6,81.1 271.8,84.2 269.5,86.5"/>
<polyline points="269.5,90.4 271.8,90.8"/>
<polyline points="269.5,102.9 273.4,102.2 278.1,101.4 279.7,101.4 280.1,105.3 276.5,106.8 272.6,106.8 270.3,104.5 269.5,102.9"/>
<polyline points="314.8,74.8 319.5,74.0 322.6,74.5 328.9,74.0 334.3,73.6 331.2,75.1 327.3,76.4 328.9,79.2 324.2,77.9 321.8,80.3 319.5,80.8 317.9,77.9 316.4,77.9 314.8,74.8"/>
<polyline points="353.1,74.0 355.4,72.9 358.6,73.2 361.7,73.6"/>
<polyline points="369.5,85.8 366.4,88.1 364.8,90.1 367.2,92.8 369.5,93.6"/>
<polyline points="323.4,96.4 328.1,94.3 333.6,92.8 335.9,93.6 339.8,95.9 344.5,98.2 348.4,100.1 351.5,101.1 347.6,101.4 342.9,101.7 339.8,102.2 342.2,104.5 344.5,105.8 350.8,105.8 353.9,102.9 355.4,100.6 354.7,97.5 356.2,101.4 359.3,99.0 363.2,97.5 369.5,97.5"/>
<polyline points="323.4,96.4 319.5,99.0 316.4,102.2 313.2,106.1 309.3,110.0 307.0,113.9 306.2,116.2 308.6,118.6 312.5,119.3 315.6,120.9 317.9,123.2 320.3,120.1 322.6,116.2 323.4,112.3 322.6,108.4 325.8,106.1 328.9,103.7 327.3,106.8 325.8,110.8 328.1,114.7 331.2,116.2 334.8,116.2 332.0,118.6 328.9,120.9 324.2,123.2 319.5,125.6 315.6,127.9 312.5,124.0 310.1,122.8 307.8,126.4 307.0,129.5"/>
<polyline points="290.6,117.8 292.9,118.6 294.5,121.7 296.1,124.8 297.6,127.9 298.4,129.5"/>
<polyline points="290.6,117.8 289.8,120.9 290.6,124.0 288.2,126.4 286.7,129.5"/>
<polyline points="291.4,120.1 292.2,124.8 293.7,127.9"/>
<polyline points="296.8,112.6 298.1,114.2"/>
<polyline points="288.7,91.7 289.3,92.3"/>
<polyline points="368.5,86.5 371.6,85.0 375.5,83.1 379.4,81.4 384.1,79.8 380.2,82.3 376.3,84.2 372.4,85.8 369.3,87.3"/>
<polyline points="375.5,72.9 377.1,72.5"/>
<polyline points="379.1,72.0 380.2,72.0"/>
<polyline points="368.5,92.0 370.8,92.8"/>
<polyline points="368.5,97.9 373.2,97.0 377.9,95.9 383.3,95.4 384.1,92.0 388.0,91.2 391.2,92.0 391.9,89.7 393.5,92.8 395.8,90.8 398.2,91.7 400.5,88.1 402.1,91.2 404.1,93.9"/>
<polyline points="400.5,88.1 406.0,85.8 409.9,83.4 415.4,81.8 420.1,81.4 424.0,80.3 427.1,78.7 430.2,80.3 434.1,81.8 438.8,82.9 435.7,85.0 432.9,86.2 437.2,86.8 443.5,87.0 449.8,86.8 456.0,87.6 459.1,90.1 462.2,92.0 468.5,91.2"/>
<polyline points="389.6,92.0 388.8,95.9 390.4,98.2"/>
<polyline points="391.9,92.8 393.2,96.7 394.3,94.3"/>
<polyline points="381.8,100.9 382.6,100.6"/>
<polyline points="384.9,100.6 388.8,99.0 391.9,98.2 395.1,96.7 397.4,99.0 399.0,101.1 394.3,99.8 391.9,100.6 388.0,102.2 384.9,100.6"/>
<polyline points="413.8,74.0 416.2,72.5 418.5,72.0 416.9,73.6 420.1,74.5 423.2,74.8 420.1,76.1 416.9,75.6 413.8,74.0"/>
<polyline points="425.1,74.8 426.0,77.9 427.1,78.7"/>
<polyline points="439.5,86.8 448.9,86.8 455.9,87.6 459.0,88.1 456.7,89.2 459.0,91.2 462.2,92.0 466.8,90.8 470.8,89.2 477.0,88.6 481.7,88.9 484.8,90.8 489.5,92.0 494.2,92.8 498.9,94.3 503.6,94.8 508.2,94.3 512.9,94.8 517.6,95.4 523.0,96.7"/>
<polyline points="474.8,85.8 475.4,86.4"/>
<polyline points="523.0,103.7 520.8,108.4 516.1,110.8 511.4,113.6 506.7,114.7 502.8,115.4 502.0,120.1 500.4,124.0 497.3,127.2 495.0,129.5"/>
<polyline points="502.8,110.8 499.7,113.6 495.8,112.6 493.4,111.1 491.8,114.7 487.9,116.2 483.2,116.2 477.0,117.0 473.9,117.8 471.5,121.7 469.2,125.6 469.2,127.6 472.3,128.7"/>
<polyline points="493.4,117.8 493.4,123.2 492.6,129.5"/>
<polyline points="475.8,125.6 476.2,129.5"/>
<polyline points="512.9,128.6 512.9,129.5"/>
<polyline points="76.5,132.0 79.3,132.0"/>
<polyline points="81.5,130.9 82.3,130.9"/>
<polyline points="86.5,129.6 87.3,129.9"/>
<polyline points="89.5,128.1 91.0,126.5"/>
<polyline points="138.7,126.5 141.0,129.6 141.8,132.8 140.2,133.5 142.6,135.9 144.9,137.4 146.5,137.1 144.9,139.8 144.2,142.1 144.2,146.8 144.6,151.5 145.2,156.2 147.3,160.9 149.6,164.0 152.0,167.1 153.5,171.8 155.9,176.5 158.2,180.4 161.3,184.3 164.5,188.2 167.6,192.9 169.9,196.8 171.5,199.2"/>
<polyline points="156.7,176.5 158.2,175.7 159.8,178.1 161.3,182.0 162.4,186.7 160.6,187.8 158.2,185.1 157.1,181.2 156.7,176.5"/>
<polyline points="134.0,128.8 135.2,127.8"/>
<polyline points="157.8,151.5 159.0,150.7"/>
<polyline points="100.9,192.9 102.0,193.7 103.5,194.0 104.3,196.0 105.1,197.1"/>
<polyline points="193.9,126.5 196.3,128.8 199.4,132.0 201.8,129.6 202.5,126.5"/>
<polyline points="177.5,126.5 176.8,128.1 175.2,130.4 176.0,134.3 177.5,128.1"/>
<polyline points="179.9,138.2 182.2,135.9 184.6,134.0"/>
<polyline points="183.8,138.7 186.9,137.1 189.2,137.1 190.8,139.0 193.9,141.3 195.5,144.5 196.3,147.6 195.5,145.2 193.2,144.5 190.8,148.4 190.0,145.2 191.6,142.9 188.5,141.8 185.3,142.1 186.1,139.8 183.8,138.7"/>
<polyline points="196.3,149.9 199.4,149.2 202.5,146.8 207.2,144.0 211.9,141.3 215.0,139.0 218.9,137.1 222.8,135.6 226.8,134.0 229.9,132.4 228.3,128.8 226.0,126.5"/>
<polyline points="226.8,134.0 229.1,135.9 230.7,139.0 233.0,142.1 230.7,142.9 227.5,141.3 226.0,139.0 226.0,135.9 226.8,134.0"/>
<polyline points="214.2,141.3 217.4,142.1 220.5,142.9 224.4,142.1 221.3,144.5 218.2,146.0 215.8,146.8 215.0,143.7 214.2,141.3"/>
<polyline points="213.5,142.1 211.9,146.8 209.6,151.5 207.2,156.2 204.9,160.1 203.0,164.0 201.8,167.9 200.2,171.0 199.1,174.9 198.9,179.6 198.6,182.8 196.3,179.6 193.2,177.3 189.2,176.2 186.1,177.3 183.0,177.8 179.9,178.8 178.3,181.2 178.0,185.9 177.8,190.6 178.0,195.2 180.7,197.1 184.6,199.2 187.7,196.8 190.8,194.5 190.0,198.4 189.2,201.5"/>
<polyline points="193.9,193.4 197.8,193.4 201.8,194.5 205.7,196.0 208.0,197.1 204.1,196.5 200.2,195.2 195.5,194.5"/>
<polyline points="201.8,186.7 202.5,188.2 204.1,187.8"/>
<polyline points="170.5,197.6 172.1,199.9 173.6,201.5"/>
<polyline points="207.2,199.9 211.9,198.7 209.6,200.7"/>
<polyline points="286.7,126.5 288.2,129.6 289.8,132.0 289.0,128.8 290.6,126.5"/>
<polyline points="292.9,126.5 295.3,130.4 297.6,133.5 294.5,134.3 296.1,132.8"/>
<polyline points="298.4,126.5 300.0,130.4 301.5,133.1 298.4,134.0 295.3,134.6"/>
<polyline points="314.0,126.5 314.8,127.8 320.3,127.3 320.3,126.5"/>
<polyline points="307.0,126.5 306.2,129.6 303.9,133.5 300.0,136.2 294.5,137.8 296.1,141.3 297.6,144.0 292.9,146.8 290.6,149.9 289.0,153.8 289.0,158.5 290.6,162.4 292.2,163.2 296.1,162.4 298.4,160.1 300.0,155.4 302.3,152.3 305.4,149.9 308.6,148.8 310.9,150.2 314.0,152.3 316.4,154.6 319.5,156.2 322.6,157.0"/>
<polyline points="316.4,146.8 318.7,149.2 321.8,152.3 323.4,155.4 324.2,157.8 325.8,160.1 326.5,161.7 328.1,160.1 328.6,157.0 327.3,156.2 329.7,155.4 332.0,155.4"/>
<polyline points="316.4,146.8 317.2,151.5 318.7,154.6 321.8,157.0"/>
<polyline points="310.1,153.8 309.8,156.2"/>
<polyline points="315.6,159.6 318.2,159.8"/>
<polyline points="328.9,164.8 329.2,165.9"/>
<polyline points="332.0,155.4 335.1,153.8 335.9,149.9 336.7,146.0 339.0,145.2 342.2,145.6 346.1,143.4 349.2,142.1 349.2,146.8 348.4,150.7 346.8,154.3 342.9,154.9 339.0,154.6 335.1,154.6 332.0,156.2 332.8,159.3 334.3,161.7 337.5,163.2 340.6,164.8 342.9,166.3 342.2,169.5 339.8,172.6 338.2,174.9"/>
<polyline points="292.2,163.2 291.4,164.0 295.3,163.7 300.8,163.2 306.2,162.1 310.9,161.7 312.0,164.0 312.5,167.9 314.8,170.2 318.7,172.6 321.8,174.2 323.9,175.7 326.5,173.4 328.9,171.8 332.8,173.1 336.7,173.4 338.2,174.9"/>
<polyline points="291.4,164.0 289.0,168.7 286.7,172.6 285.1,176.5 283.6,180.4 282.0,184.3 280.4,188.2 278.9,191.3 278.6,195.2 278.9,201.5"/>
<polyline points="338.2,174.9 339.0,177.3 340.6,180.4 342.2,184.3 342.9,189.0 344.5,193.7 346.1,198.4 346.8,201.5"/>
<polyline points="339.0,179.6 342.9,182.8 345.3,186.7 346.8,192.1 348.4,196.8 350.0,200.7 350.8,201.5"/>
<polyline points="359.3,144.5 361.7,142.1 364.0,141.8 364.0,146.0 364.8,151.5 365.6,157.0 366.4,159.3 364.0,159.8 360.9,158.5 359.8,153.8 358.9,148.4 359.3,144.5"/>
<polyline points="360.9,178.1 362.5,180.4 364.8,183.5 367.2,185.6 369.5,186.7"/>
<polyline points="360.9,178.1 361.7,182.0 362.5,185.9 364.8,188.2 367.9,189.8 369.5,191.3"/>
<polyline points="373.2,143.7 374.8,142.6 376.0,143.7 375.1,146.0 374.0,148.4 373.2,146.0 373.2,143.7"/>
<polyline points="390.4,146.8 394.3,144.5 398.2,142.9"/>
<polyline points="393.5,151.5 394.1,152.0"/>
<polyline points="368.5,186.7 373.2,186.7 377.9,188.2 381.0,190.6 384.1,192.9 387.2,195.2 388.8,198.4 389.1,201.5"/>
<polyline points="368.5,191.3 370.8,192.1 371.6,195.2 370.8,198.4 369.3,199.9 368.5,199.9"/>
<polyline points="404.4,201.5 407.6,197.6 411.0,192.9 413.0,196.0 415.4,199.9 416.2,201.5"/>
<polyline points="468.5,144.5 465.4,147.6 462.2,150.7 459.9,153.8 459.1,157.8 458.3,162.4 456.8,164.8 455.2,161.7 454.4,157.8 452.1,156.2 449.8,155.1 447.4,157.0 445.1,158.5 446.6,160.1 449.4,161.7 449.8,165.6 449.0,170.2 449.4,174.9 448.5,179.6 447.9,184.3 446.6,186.7 443.5,189.0 439.6,191.3 435.7,192.9 433.8,196.0 433.3,199.9 432.6,201.5"/>
<polyline points="449.8,185.9 451.3,185.6"/>
<polyline points="434.9,197.1 437.2,196.8"/>
<polyline points="468.5,162.1 466.2,163.2 463.8,164.8 466.2,165.6"/>
<polyline points="460.7,168.7 462.2,167.4 464.1,168.7 462.2,172.6 460.7,171.0 460.7,168.7"/>
<polyline points="449.8,199.6 450.5,201.2"/>
<polyline points="469.2,126.5 473.1,128.8 473.6,132.8 472.6,137.4 472.3,141.3 468.4,144.5"/>
<polyline points="475.4,126.5 477.0,129.6 477.8,134.3 477.0,139.0 476.2,143.7 475.8,146.0 478.2,149.2 476.2,151.2 473.6,151.2 474.7,148.4 475.8,146.0"/>
<polyline points="473.6,151.2 473.1,155.4 471.5,158.5 469.2,161.7 466.1,163.7 463.7,165.6 465.3,166.8 468.4,166.8 470.8,165.6 473.9,164.3 473.6,160.1 473.9,155.4"/>
<polyline points="459.8,169.5 462.2,168.4 464.2,167.9 462.2,172.6 459.8,169.5"/>
<polyline points="492.6,126.5 492.9,132.8 495.8,129.6 498.6,126.5"/>
<polyline points="512.5,128.7 513.2,129.3"/>
<polyline points="518.4,130.9 519.2,132.1"/>
<polyline points="170.5,198.5 173.6,201.6 177.5,204.0 181.4,205.5 185.3,208.7 188.5,211.8 191.6,214.1 194.7,218.0 197.1,219.6 200.2,220.7 202.5,221.9"/>
<polyline points="189.2,198.5 188.9,202.4 190.8,205.5 193.2,207.9 194.7,211.8 195.5,215.7 195.8,218.8 199.4,220.1 202.5,221.9"/>
<polyline points="205.7,200.8 209.6,200.4 211.9,199.3 212.7,198.5"/>
<polyline points="201.4,202.6 202.2,203.2"/>
<polyline points="215.5,200.5 216.3,201.2"/>
<polyline points="184.2,198.5 185.3,199.3"/>
<polyline points="202.5,221.9 204.1,219.6 207.2,216.5 210.8,214.1 211.4,216.0 215.8,216.9 219.7,218.0 223.6,220.4 226.8,222.7 229.9,225.8 231.4,229.0 233.0,232.1 234.6,235.2 236.9,238.3 239.2,241.0 241.6,243.0 245.5,244.1 248.6,246.2 251.8,249.3 254.1,252.4 256.1,254.4 254.9,257.9 253.3,261.0 252.5,264.9 251.0,268.8 250.2,273.5"/>
<polyline points="202.5,221.9 202.2,226.6 201.4,231.3 200.2,236.0 199.4,240.7 198.9,245.4 199.4,250.1 200.2,254.0 201.8,257.9 202.5,262.6 204.1,267.2 206.4,271.2 208.0,273.5"/>
<polyline points="184.6,238.0 185.3,239.1"/>
<polyline points="278.9,198.5 278.9,204.8 279.7,211.0 281.2,216.5 283.6,221.2 285.9,224.3 289.0,226.6 292.9,228.5 296.8,227.1 300.8,226.9 304.7,228.2 307.8,230.5 309.8,233.7 310.9,237.6 312.0,242.2 313.2,246.9 314.5,251.6 315.1,256.3 315.6,261.0 315.6,267.2 315.1,273.5"/>
<polyline points="346.1,198.5 346.8,203.2 348.4,207.1 350.0,211.0 351.5,214.1 354.7,214.9 359.3,214.6 362.9,214.1 362.5,217.2 360.9,221.9 359.3,226.6 357.0,231.3 354.7,236.0 352.3,240.7 350.8,245.4 349.2,249.3 347.9,253.2 348.4,257.9 349.2,262.6 348.4,267.2 347.3,270.4 346.8,273.5"/>
<polyline points="349.2,198.5 350.4,202.4 352.3,206.3 354.7,209.1 357.8,210.7 360.9,209.4 364.0,207.1 367.2,204.0 369.5,200.8"/>
<polyline points="340.1,237.6 340.6,241.5 341.1,245.1"/>
<polyline points="360.1,263.3 359.3,267.2 357.8,270.4 357.0,273.5"/>
<polyline points="360.1,263.3 360.4,268.8 360.1,273.5"/>
<polyline points="368.5,201.6 371.6,198.5"/>
<polyline points="388.8,198.5 389.6,203.2 391.2,209.4 392.7,214.9 394.3,220.1 396.6,217.2 399.0,212.6 400.5,207.9 401.3,204.8 404.4,201.6 407.6,198.5"/>
<polyline points="398.5,220.4 397.9,224.3 398.2,226.3"/>
<polyline points="414.6,198.5 416.9,201.6 419.3,205.5 420.1,210.2 420.8,214.9 421.6,218.8 423.2,223.5 424.8,228.2 426.3,232.9 427.6,237.6 428.7,241.5 430.2,243.8"/>
<polyline points="422.4,210.2 423.2,214.1 424.0,218.8 423.5,215.7 422.9,211.0 422.4,210.2 425.5,212.6 428.7,215.7 431.8,216.9 432.6,212.6 432.9,207.9 432.9,203.2 433.3,198.5"/>
<polyline points="416.9,225.8 420.1,229.0 423.2,232.9 425.5,237.6 427.9,242.2 431.0,244.1 428.7,244.6 424.8,243.0 422.4,239.1 420.1,234.4 418.2,229.8 416.9,225.8"/>
<polyline points="445.1,224.3 445.8,229.8 445.1,234.4 443.5,239.1 441.2,244.6 438.0,242.2 435.4,240.4 437.2,236.0 440.4,231.3 442.7,227.4 445.1,224.3"/>
<polyline points="431.0,250.8 434.1,251.6 438.0,252.4 441.2,254.0 437.2,254.0 433.3,253.2 431.0,250.8"/>
<polyline points="449.8,200.1 451.3,201.6 452.1,206.3 450.5,209.8 449.4,206.3 449.4,202.4 449.8,200.1"/>
<polyline points="447.4,214.9 446.6,216.9"/>
<polyline points="454.4,218.0 455.2,221.9 454.4,224.8 451.3,223.8 453.7,220.4 454.4,218.0"/>
<polyline points="461.9,240.7 464.6,242.6 466.9,246.9 468.5,249.3"/>
<polyline points="461.9,240.7 465.4,243.0 468.5,242.7"/>
<polyline points="468.5,263.3 466.2,262.2 463.8,261.0 461.5,264.1 459.1,267.2 456.0,268.0 453.7,270.4 452.1,273.5"/>
<polyline points="461.8,240.7 464.5,243.0 469.2,243.0 475.1,243.0 477.0,246.2 479.3,250.1 481.7,254.0 484.8,257.6 486.1,259.1 481.7,257.1 477.0,255.1 472.3,253.2 469.2,250.1 466.1,246.9 463.7,244.6 461.8,240.7"/>
<polyline points="464.2,261.0 466.8,262.6 469.2,266.5 471.5,271.9 473.1,267.2 474.7,263.3 476.2,260.2 477.8,264.1 479.3,268.8 480.4,273.5"/>
<polyline points="520.8,272.7 522.3,271.2"/>
<polyline points="205.7,270.5 208.8,274.4 211.1,276.8 210.8,283.0 210.3,289.2 210.3,297.1 208.8,303.3 208.8,308.0 208.0,312.7 208.0,320.5 208.0,328.3 207.7,336.1 207.2,340.8 206.8,343.2 208.0,345.5"/>
<polyline points="251.0,270.5 249.4,275.2 248.6,279.9 247.8,283.8 243.9,286.1 239.2,289.2 238.0,293.9 236.9,298.6 235.3,302.5 233.0,306.4 230.7,309.6 228.3,312.7 225.2,316.6 222.1,320.5 219.7,324.4 217.4,329.1 215.0,333.0 213.9,337.7 213.0,342.4 211.9,345.5"/>
<polyline points="224.4,343.6 226.4,343.9"/>
<polyline points="314.8,270.5 314.0,275.2 314.8,279.9 316.4,285.3 318.2,290.8 319.5,296.3 320.8,301.8 321.8,306.4 323.4,310.8 326.5,309.9 329.7,309.6 332.8,308.0 335.1,304.1 337.5,300.2 339.8,295.5 341.4,290.8 342.2,286.1 343.7,281.4 345.3,276.8 346.8,272.1 347.2,270.5"/>
<polyline points="357.0,270.5 355.4,274.4 354.2,278.3 353.9,283.8 354.2,290.0 356.2,286.1 358.6,281.4 360.1,277.5 360.4,273.6 360.4,270.5"/>
<polyline points="453.1,270.5 452.3,272.8 450.0,275.2 446.8,277.5 442.9,280.7 441.4,284.6 441.1,290.0 441.7,295.5 442.6,301.0 442.9,305.7 446.8,306.8 451.5,306.4 455.4,304.1 459.3,302.5 461.7,301.8 464.0,304.1 466.4,307.2 469.5,310.3 471.8,313.5 473.4,316.1 477.3,316.9 480.4,316.3 482.8,313.5 485.1,310.3 486.7,305.7 487.5,301.0 488.2,296.3 488.6,292.4 487.5,288.5 485.1,283.8 482.8,279.1 481.2,275.2 479.7,270.5"/>
<polyline points="471.1,270.5 471.1,272.1"/>
<polyline points="478.9,321.8 481.2,323.3 482.8,325.2 480.4,326.0 479.7,324.4"/>
<polyline points="513.6,308.0 515.1,310.3 516.7,313.5 518.2,316.6 519.5,318.9"/>
<polyline points="513.6,308.0 515.6,312.4 517.2,315.8 518.7,318.2"/>
<polyline points="513.2,320.5 514.0,324.4 512.5,327.5 510.1,330.7 507.8,333.0 509.3,329.9 511.7,326.8 512.9,324.4 513.2,320.5"/>
<polyline points="514.8,325.2 512.5,329.1"/>
<polyline points="503.1,278.8 503.4,280.2"/>
<polyline points="76.5,398.9 84.0,398.9 95.7,398.9 97.3,397.9 102.0,397.9"/>
<polyline points="95.7,398.9 97.3,400.8 99.3,402.3"/>
<polyline points="76.5,412.0 81.7,412.0 86.3,412.0 87.1,412.9 94.9,412.9 105.1,412.9 106.7,413.7 114.9,413.7 113.7,411.7 112.1,408.6 109.8,405.4 108.2,402.6 109.0,399.2 111.3,396.8 115.2,395.3 119.9,394.5 125.4,393.2 130.9,392.2 134.0,391.1 137.1,390.1 141.8,389.8 144.9,389.0 148.8,389.8 152.8,389.8 156.7,390.6 159.8,392.2 162.9,392.2 166.0,391.1 169.2,391.1 171.5,391.4"/>
<polyline points="136.3,390.9 140.2,391.1 141.8,389.0 148.1,389.0"/>
<polyline points="208.0,344.5 210.3,347.6 212.7,350.8 216.6,351.1 214.2,348.9 212.7,346.1 212.4,344.5"/>
<polyline points="170.5,391.1 172.8,390.1 173.6,388.2 178.3,388.6 184.6,389.0 190.8,389.0 196.3,388.2 201.0,387.0 204.9,386.7 208.8,387.5 210.3,389.0 212.7,385.9 214.2,382.0 215.5,378.1 216.6,374.2 218.9,371.8 222.1,370.0 224.9,368.7 225.5,371.1 224.4,375.0 223.6,378.9 222.8,383.6 222.8,388.2 222.1,392.2 220.5,393.2"/>
<polyline points="217.4,377.3 220.5,375.0 223.6,372.3"/>
<polyline points="216.6,378.1 219.7,381.2 221.8,385.1"/>
<polyline points="206.1,384.8 208.8,383.2 211.1,380.4 212.7,380.1 211.9,383.6 210.3,385.9 208.0,385.4 206.1,384.8"/>
<polyline points="220.5,393.2 215.8,394.2 210.3,394.8 204.1,395.8 196.3,396.8 199.4,400.0 204.1,402.6 209.6,404.7 217.4,405.8 226.8,406.7 236.1,406.2 243.9,405.4 251.8,404.7 257.2,404.7 259.6,402.6 257.2,400.8 256.4,398.4 259.6,396.1 264.2,393.7 268.2,392.2 270.5,390.6"/>
<polyline points="220.5,393.2 225.2,393.7 230.7,395.3 236.1,397.3 240.0,398.4 243.9,400.0 243.9,402.6 239.2,403.1 233.0,402.6 226.8,403.1 219.7,403.1"/>
<polyline points="233.0,399.2 239.2,398.4 248.6,397.9 256.4,397.9"/>
<polyline points="257.2,398.4 261.9,395.3 266.6,392.9 270.5,392.2"/>
<polyline points="269.5,390.6 272.6,389.0 277.3,387.5 282.0,385.9 286.7,384.3 291.4,382.3 295.3,380.8 297.6,379.7 300.8,380.4 304.7,382.0 310.1,382.3 316.4,382.3 323.4,382.3 325.8,383.6 331.2,383.6 333.6,381.7 336.7,380.8 339.8,380.1 342.9,381.2 346.1,382.0 349.2,379.7 353.1,377.3 357.0,375.8 360.9,375.8 364.0,373.9 367.2,374.2 369.5,375.0"/>
<polyline points="269.5,392.2 274.2,389.8 278.9,387.9 285.1,385.9 291.4,384.8 296.1,385.9 299.2,384.8 303.1,383.6 304.7,382.0"/>
<polyline points="368.5,375.0 373.2,376.1 377.9,377.0 382.6,378.1 386.5,379.2 384.9,381.2 386.5,382.8 390.4,382.0 395.1,380.8 399.0,378.6 402.1,376.5 405.2,375.0 412.2,375.0 420.1,375.0 421.6,373.9 431.0,373.9 438.8,373.9 441.2,375.0 445.1,376.1 449.0,375.8 453.7,374.2 459.1,373.9 468.5,373.9"/>
<polyline points="384.9,379.2 388.0,380.4 389.6,381.7"/>
<polyline points="468.4,373.9 473.1,375.0 477.0,376.5 480.9,378.1 486.4,379.7 493.4,380.8 498.9,381.2 503.6,383.2 507.5,385.1 511.1,385.9 508.2,389.0 505.1,392.2 503.6,395.3 502.8,397.6 501.2,400.0 502.0,402.3 504.3,406.2 505.9,407.8 509.8,408.9 514.5,409.3 517.3,410.1"/>
<polyline points="502.8,397.6 506.7,397.3 510.6,396.8 514.5,397.6 519.2,398.4 522.3,399.2"/>
<polyline points="83.7,266.0 85.2,266.0"/>
<polyline points="470.0,82.6 471.4,81.9 474.2,82.1 472.3,82.8 471.8,83.7 474.7,84.1"/>
<polyline points="476.5,82.8 479.8,82.9 481.2,83.6 483.1,84.1"/>
</g>
<g class="cb">
<rect x="536" y="58" width="21" height="3" fill="#fffc00"/>
<rect x="536" y="61" width="21" height="3" fill="#fef600"/>
<rect x="536" y="64" width="21" height="2" fill="#fcf000"/>
<rect x="536" y="66" width="21" height="3" fill="#fbeb00"/>
<rect x="536" y="69" width="21" height="3" fill="#fae500"/>
<rect x="536" y="72" width="21" height="3" fill="#f9e000"/>
<rect x="536" y="75" width="21" height="3" fill="#f8da00"/>
<rect x="536" y="78" width="21" height="3" fill="#f7d500"/>
<rect x="536" y="81" width="21" height="2" fill="#f6cf00"/>
<rect x="536" y="83" width="21" height="3" fill="#f5ca00"/>
<rect x="536" y="86" width="21" height="3" fill="#f4c500"/>
<rect x="536" y="89" width="21" height="3" fill="#f3c000"/>
<rect x="536" y="92" width="21" height="3" fill="#f2bb00"/>
<rect x="536" y="95" width="21" height="2" fill="#f1b700"/>
<rect x="536" y="97" width="21" height="3" fill="#f0b200"/>
<rect x="536" y="100" width="21" height="3" fill="#efad00"/>
<rect x="536" y="103" width="21" height="3" fill="#eea900"/>
<rect x="536" y="106" width="21" height="3" fill="#eda400"/>
<rect x="536" y="109" width="21" height="3" fill="#eca000"/>
<rect x="536" y="112" width="21" height="2" fill="#eb9b00"/>
<rect x="536" y="114" width="21" height="3" fill="#ea9700"/>
<rect x="536" y="117" width="21" height="3" fill="#e99300"/>
<rect x="536" y="120" width="21" height="3" fill="#e88f00"/>
<rect x="536" y="123" width="21" height="3" fill="#e68b00"/>
<rect x="536" y="126" width="21" height="3" fill="#e58700"/>
<rect x="536" y="129" width="21" height="2" fill="#e48300"/>
<rect x="536" y="131" width="21" height="3" fill="#e37f00"/>
<rect x="536" y="134" width="21" height="3" fill="#e27b00"/>
<rect x="536" y="137" width="21" height="3" fill="#e17800"/>
<rect x="536" y="140" width="21" height="3" fill="#e07400"/>
<rect x="536" y="143" width="21" height="2" fill="#df7100"/>
<rect x="536" y="145" width="21" height="3" fill="#dd6d00"/>
<rect x="536" y="148" width="21" height="3" fill="#dc6a00"/>
<rect x="536" y="151" width="21" height="3" fill="#db6700"/>
<rect x="536" y="154" width="21" height="3" fill="#da6300"/>
<rect x="536" y="157" width="21" height="3" fill="#d96000"/>
<rect x="536" y="160" width="21" height="2" fill="#d85d00"/>
<rect x="536" y="162" width="21" height="3" fill="#d65a00"/>
<rect x="536" y="165" width="21" height="3" fill="#d55700"/>
<rect x="536" y="168" width="21" height="3" fill="#d45400"/>
<rect x="536" y="171" width="21" height="3" fill="#d35100"/>
<rect x="536" y="174" width="21" height="2" fill="#d24f00"/>
<rect x="536" y="176" width="21" height="3" fill="#d04c00"/>
<rect x="536" y="179" width="21" height="3" fill="#cf4900"/>
<rect x="536" y="182" width="21" height="3" fill="#ce4700"/>
<rect x="536" y="185" width="21" height="3" fill="#cd4400"/>
<rect x="536" y="188" width="21" height="3" fill="#cb4200"/>
<rect x="536" y="191" width="21" height="2" fill="#ca3f00"/>
<rect x="536" y="193" width="21" height="3" fill="#c93d00"/>
<rect x="536" y="196" width="21" height="3" fill="#c83b00"/>
<rect x="536" y="199" width="21" height="3" fill="#c63900"/>
<rect x="536" y="202" width="21" height="3" fill="#c53600"/>
<rect x="536" y="205" width="21" height="2" fill="#c43400"/>
<rect x="536" y="207" width="21" height="3" fill="#c33200"/>
<rect x="536" y="210" width="21" height="3" fill="#c13000"/>
<rect x="536" y="213" width="21" height="3" fill="#c02e00"/>
<rect x="536" y="216" width="21" height="3" fill="#bf2c00"/>
<rect x="536" y="219" width="21" height="3" fill="#bd2b00"/>
<rect x="536" y="222" width="21" height="2" fill="#bc2900"/>
<rect x="536" y="224" width="21" height="3" fill="#bb2700"/>
<rect x="536" y="227" width="21" height="3" fill="#b92500"/>
<rect x="536" y="230" width="21" height="3" fill="#b82400"/>
<rect x="536" y="233" width="21" height="3" fill="#b62200"/>
<rect x="536" y="236" width="21" height="3" fill="#b52100"/>
<rect x="536" y="239" width="21" height="2" fill="#b41f06"/>
<rect x="536" y="241" width="21" height="3" fill="#b21e13"/>
<rect x="536" y="244" width="21" height="3" fill="#b11c1f"/>
<rect x="536" y="247" width="21" height="3" fill="#af1b2c"/>
<rect x="536" y="250" width="21" height="3" fill="#ae1a38"/>
<rect x="536" y="253" width="21" height="2" fill="#ac1844"/>
<rect x="536" y="255" width="21" height="3" fill="#ab1750"/>
<rect x="536" y="258" width="21" height="3" fill="#a9165c"/>
<rect x="536" y="261" width="21" height="3" fill="#a81567"/>
<rect x="536" y="264" width="21" height="3" fill="#a61473"/>
<rect x="536" y="267" width="21" height="3" fill="#a5137e"/>
<rect x="536" y="270" width="21" height="2" fill="#a31288"/>
<rect x="536" y="272" width="21" height="3" fill="#a21193"/>
<rect x="536" y="275" width="21" height="3" fill="#a0109d"/>
<rect x="536" y="278" width="21" height="3" fill="#9f0fa7"/>
<rect x="536" y="281" width="21" height="3" fill="#9d0eb0"/>
<rect x="536" y="284" width="21" height="2" fill="#9b0db9"/>
<rect x="536" y="286" width="21" height="3" fill="#9a0cc1"/>
<rect x="536" y="289" width="21" height="3" fill="#980bc9"/>
<rect x="536" y="292" width="21" height="3" fill="#960bd0"/>
<rect x="536" y="295" width="21" height="3" fill="#950ad7"/>
<rect x="536" y="298" width="21" height="3" fill="#9309de"/>
<rect x="536" y="301" width="21" height="2" fill="#9109e4"/>
<rect x="536" y="303" width="21" height="3" fill="#8f08e9"/>
<rect x="536" y="306" width="21" height="3" fill="#8e07ee"/>
<rect x="536" y="309" width="21" height="3" fill="#8c07f2"/>
<rect x="536" y="312" width="21" height="3" fill="#8a06f6"/>
<rect x="536" y="315" width="21" height="2" fill="#8806f9"/>
<rect x="536" y="317" width="21" height="3" fill="#8605fb"/>
<rect x="536" y="320" width="21" height="3" fill="#8405fd"/>
<rect x="536" y="323" width="21" height="3" fill="#8205fe"/>
<rect x="536" y="326" width="21" height="3" fill="#8004ff"/>
<rect x="536" y="329" width="21" height="3" fill="#7e04ff"/>
<rect x="536" y="332" width="21" height="2" fill="#7c03fe"/>
<rect x="536" y="334" width="21" height="3" fill="#7a03fd"/>
<rect x="536" y="337" width="21" height="3" fill="#7803fb"/>
<rect x="536" y="340" width="21" height="3" fill="#7603f9"/>
<rect x="536" y="343" width="21" height="3" fill="#7402f6"/>
<rect x="536" y="346" width="21" height="2" fill="#7202f2"/>
<rect x="536" y="348" width="21" height="3" fill="#7002ee"/>
<rect x="536" y="351" width="21" height="3" fill="#6d02e9"/>
<rect x="536" y="354" width="21" height="3" fill="#6b01e4"/>
<rect x="536" y="357" width="21" height="3" fill="#6901de"/>
<rect x="536" y="360" width="21" height="3" fill="#6601d7"/>
<rect x="536" y="363" width="21" height="2" fill="#6401d0"/>
<rect x="536" y="365" width="21" height="3" fill="#6101c9"/>
<rect x="536" y="368" width="21" height="3" fill="#5e01c1"/>
<rect x="536" y="371" width="21" height="3" fill="#5c01b9"/>
<rect x="536" y="374" width="21" height="3" fill="#5900b0"/>
<rect x="536" y="377" width="21" height="3" fill="#5600a7"/>
<rect x="536" y="380" width="21" height="2" fill="#53009d"/>
<rect x="536" y="382" width="21" height="3" fill="#500093"/>
<rect x="536" y="385" width="21" height="3" fill="#4c0088"/>
<rect x="536" y="388" width="21" height="3" fill="#49007e"/>
<rect x="536" y="391" width="21" height="3" fill="#450073"/>
<rect x="536" y="394" width="21" height="2" fill="#420067"/>
<rect x="536" y="396" width="21" height="3" fill="#3e005c"/>
<rect x="536" y="399" width="21" height="3" fill="#390050"/>
<rect x="536" y="402" width="21" height="3" fill="#350044"/>
<rect x="536" y="405" width="21" height="3" fill="#300038"/>
<rect x="536" y="408" width="21" height="3" fill="#2a002c"/>
<rect x="536" y="411" width="21" height="2" fill="#24001f"/>
<rect x="536" y="413" width="21" height="3" fill="#1c0013"/>
<rect x="536" y="416" width="21" height="3" fill="#100006"/>
<rect x="536" y="368" width="4" height="1"/>
<rect x="553" y="368" width="4" height="1"/>
<rect x="536" y="316" width="4" height="1"/>
<rect x="553" y="316" width="4" height="1"/>
<rect x="536" y="264" width="4" height="1"/>
<rect x="553" y="264" width="4" height="1"/>
<rect x="536" y="213" width="4" height="1"/>
<rect x="553" y="213" width="4" height="1"/>
<rect x="536" y="161" width="4" height="1"/>
<rect x="553" y="161" width="4" height="1"/>
<rect x="536" y="109" width="4" height="1"/>
<rect x="553" y="109" width="4" height="1"/>
</g>
<text x="297.5" y="32" text-anchor="middle">StdDev_VTEC / TECU 20170729_210.50400</text>
<text x="297.5" y="470" text-anchor="middle" textLength="111.6" lengthAdjust="spacing">Longitude / deg</text>
<text transform="translate(16.9,239.1) rotate(-90)" text-anchor="middle" textLength="99" lengthAdjust="spacing">Latitude / deg</text>
<text class="ns" x="61.3" y="77.4" text-anchor="end">80</text>
<text x="60.5" y="119.4" text-anchor="end">60</text>
<text x="60.5" y="160.4" text-anchor="end">40</text>
<text x="60.5" y="201.4" text-anchor="end">20</text>
<text x="60.5" y="242.4" text-anchor="end">0</text>
<text x="61.7" y="283.4" text-anchor="end">-20</text>
<text x="61.7" y="324.4" text-anchor="end">-40</text>
<text x="61.7" y="366.4" text-anchor="end">-60</text>
<text x="61.7" y="407.4" text-anchor="end">-80</text>
<text x="111.8" y="442.3" text-anchor="middle">-150</text>
<text x="173.8" y="442.3" text-anchor="middle">-100</text>
<text x="235.4" y="442.3" text-anchor="middle">-50</text>
<text x="299.7" y="442.3" text-anchor="middle">0</text>
<text x="360.9" y="442.3" text-anchor="middle">50</text>
<text x="423.6" y="442.3" text-anchor="middle">100</text>
<text x="485.3" y="442.3" text-anchor="middle">150</text>
<text x="571" y="61.4">10</text>
<text x="571" y="113.4">9.5</text>
<text x="571" y="165.4">9</text>
<text x="571" y="217.4">8.5</text>
<text x="571" y="268.4">8</text>
<text x="571" y="320.4">7.5</text>
<text x="571" y="372.4">7</text>
<text x="571" y="423.4">6.5</text>
</svg>
</body>
</html>
